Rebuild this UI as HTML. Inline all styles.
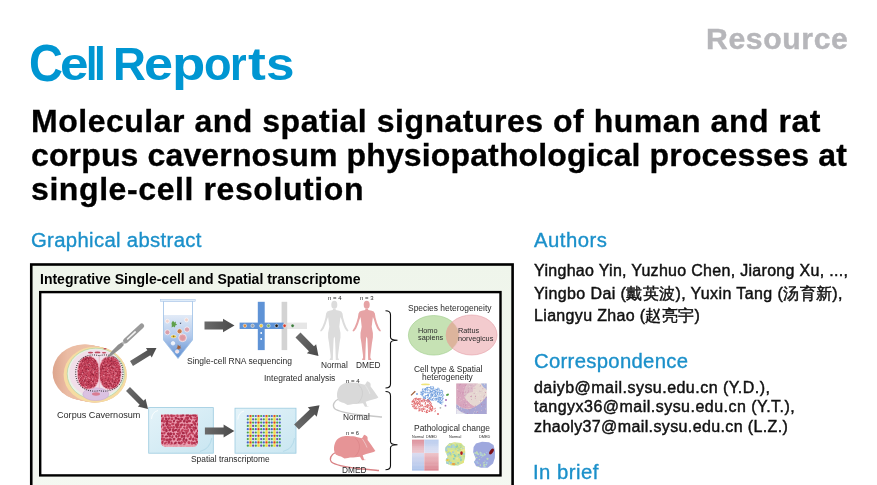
<!DOCTYPE html>
<html><head><meta charset="utf-8">
<style>
html,body{margin:0;padding:0;background:#fff;width:877px;height:485px;overflow:hidden;position:relative}
body{font-family:"Liberation Sans",sans-serif;color:#111}
.t{position:absolute;white-space:nowrap;line-height:1}
.logo{position:absolute;left:0;top:40px;font-size:47px;font-weight:bold;color:#0096d2;line-height:1}
.logo span{position:absolute;top:0;transform-origin:0 0}
.res{left:706px;top:25px;font-size:29px;font-weight:bold;color:#b6b6ba;letter-spacing:0.6px;transform:scaleX(1.04);transform-origin:0 0;-webkit-text-stroke:0.4px #b6b6ba}
.ti{left:31px;font-size:30.5px;font-weight:bold;color:#000;transform:scaleX(1.05);transform-origin:0 0;-webkit-text-stroke:0.3px #000}
.h{transform:scaleX(1.04);transform-origin:0 0;font-size:19.5px;color:#1b90ca;-webkit-text-stroke:0.35px #1b90ca}
.au{left:534px;font-size:16px;color:#111;-webkit-text-stroke:0.45px #111}
#frame{position:absolute;left:0;top:0}
.gt{left:39.5px;top:271.5px;font-size:14px;font-weight:bold;color:#000}
#fig{position:absolute;left:0;top:0}
.t,.fl,.logo{will-change:transform}
.fl{position:absolute;white-space:nowrap;line-height:1;color:#2a2a2a}
</style></head><body>
<div class="logo"><span style="left:28.9px;transform:translateY(-0.6px) scale(1.0,1.09);transform-origin:0 24px">C</span><span style="left:60.0px;transform:scaleX(1.09)">e</span><span style="left:85.8px;transform:scaleX(0.87)">l</span><span style="left:93.7px;transform:scaleX(0.9)">l</span><span style="left:113.4px;transform:scaleX(0.97)">R</span><span style="left:144.3px;transform:scaleX(1.11)">e</span><span style="left:171.7px;transform:scaleX(1.16)">p</span><span style="left:204.4px;transform:scaleX(0.96)">o</span><span style="left:229.9px;transform:scaleX(0.91)">r</span><span style="left:248.3px;transform:scaleX(1.14)">t</span><span style="left:266.4px;transform:scaleX(1.09)">s</span></div>
<div class="t res">Resource</div>
<div class="t ti" style="top:106px;letter-spacing:0.48px">Molecular and spatial signatures of human and rat</div>
<div class="t ti" style="top:139.5px;letter-spacing:0.12px">corpus cavernosum physiopathological processes at</div>
<div class="t ti" style="top:174px;letter-spacing:0.55px">single-cell resolution</div>

<div class="t h" style="left:31px;top:231px;letter-spacing:0.33px">Graphical abstract</div>
<div class="t h" style="left:533.5px;top:231px;letter-spacing:0.5px">Authors</div>
<div class="t au" style="top:263px;letter-spacing:0.3px">Yinghao Yin, Yuzhuo Chen, Jiarong Xu, ...,</div>
<div class="t au" style="top:285.5px;letter-spacing:0.4px">Yingbo Dai (戴英波), Yuxin Tang (汤育新),</div>
<div class="t au" style="top:308px;letter-spacing:0.34px">Liangyu Zhao (赵亮宇)</div>
<div class="t h" style="left:534px;top:351.5px;letter-spacing:0.3px">Correspondence</div>
<div class="t au" style="top:379.5px;letter-spacing:0.47px">daiyb@mail.sysu.edu.cn (Y.D.),</div>
<div class="t au" style="top:399px;letter-spacing:0.48px">tangyx36@mail.sysu.edu.cn (Y.T.),</div>
<div class="t au" style="top:418.5px;letter-spacing:0.38px">zhaoly37@mail.sysu.edu.cn (L.Z.)</div>
<div class="t h" style="left:532.5px;top:462.5px;letter-spacing:0.45px">In brief</div>

<svg id="frame" width="877" height="485" viewBox="0 0 877 485"><defs><linearGradient id="fbg" x1="0" y1="0" x2="0" y2="1"><stop offset="0" stop-color="#eff5eb"/><stop offset="1" stop-color="#f5f8f2"/></linearGradient></defs><rect x="31.25" y="264.5" width="481.35" height="240" fill="url(#fbg)" stroke="#000" stroke-width="2.6"/><rect x="40.2" y="292.1" width="460.3" height="183.3" fill="#fff" stroke="#000" stroke-width="2.4"/></svg>
<div class="t gt">Integrative Single-cell and Spatial transcriptome</div>
<svg id="fig" width="877" height="485" viewBox="0 0 877 485"><defs>
<linearGradient id="ag" x1="0" y1="0" x2="1" y2="0"><stop offset="0" stop-color="#6a6a6a"/><stop offset="1" stop-color="#4a4a4a"/></linearGradient>
<linearGradient id="tubeg" x1="0" y1="0" x2="0" y2="1"><stop offset="0" stop-color="#ffffff"/><stop offset="0.235" stop-color="#ffffff"/><stop offset="0.245" stop-color="#e2ebf7"/><stop offset="0.6" stop-color="#b5cbec"/><stop offset="1" stop-color="#5f8fd2"/></linearGradient>
<linearGradient id="skin" x1="52" y1="0" x2="104" y2="0" gradientUnits="userSpaceOnUse"><stop offset="0" stop-color="#dca48c"/><stop offset="0.3" stop-color="#ebbca4"/><stop offset="1" stop-color="#eec4aa"/></linearGradient>
<linearGradient id="slideg" x1="0" y1="0" x2="1" y2="1"><stop offset="0" stop-color="#e4f3f9"/><stop offset="1" stop-color="#c9e6f1"/></linearGradient>
<linearGradient id="hmL" x1="0" y1="0" x2="0" y2="1"><stop offset="0" stop-color="#dc8c98"/><stop offset="0.42" stop-color="#ecc8d0"/><stop offset="0.42" stop-color="#dcdcf0"/><stop offset="1" stop-color="#a8c0ea"/></linearGradient>
<linearGradient id="hmR" x1="0" y1="0" x2="0" y2="1"><stop offset="0" stop-color="#b8cbee"/><stop offset="0.42" stop-color="#dcdff2"/><stop offset="0.42" stop-color="#eec4ca"/><stop offset="1" stop-color="#d8808c"/></linearGradient>
<clipPath id="cavL"><ellipse cx="88" cy="373.5" rx="11.6" ry="16"/></clipPath>
<clipPath id="tis1"><path d="M161,414.5 L198,414.5 L198,441 Q198,447 192,447 L167,447 Q161,447 161,441 Z"/></clipPath>
</defs>
<g fill="url(#skin)"><ellipse cx="84.20" cy="372.40" rx="31.6" ry="28"/><ellipse cx="85.12" cy="372.59" rx="31.6" ry="28"/><ellipse cx="86.03" cy="372.78" rx="31.6" ry="28"/><ellipse cx="86.95" cy="372.97" rx="31.6" ry="28"/><ellipse cx="87.87" cy="373.17" rx="31.6" ry="28"/><ellipse cx="88.78" cy="373.36" rx="31.6" ry="28"/><ellipse cx="89.70" cy="373.55" rx="31.6" ry="28"/><ellipse cx="90.62" cy="373.74" rx="31.6" ry="28"/><ellipse cx="91.53" cy="373.93" rx="31.6" ry="28"/><ellipse cx="92.45" cy="374.12" rx="31.6" ry="28"/><ellipse cx="93.37" cy="374.32" rx="31.6" ry="28"/><ellipse cx="94.28" cy="374.51" rx="31.6" ry="28"/><ellipse cx="95.20" cy="374.70" rx="31.6" ry="28"/></g>
<ellipse cx="95.2" cy="374.7" rx="31.6" ry="28" fill="#f6dca2"/>
<ellipse cx="95.8" cy="373.8" rx="28.6" ry="25.6" fill="#e9f3e6" stroke="#a6d0a0" stroke-width="0.6"/>
<ellipse cx="96.2" cy="373.2" rx="27" ry="23.8" fill="#f1dfea"/>
<ellipse cx="95.8" cy="394.2" rx="13" ry="6.4" fill="#dbc2e2" stroke="#c6a6d2" stroke-width="0.5"/>
<ellipse cx="96" cy="394" rx="4" ry="1.7" fill="#d87c92"/>
<rect x="77.6" y="356.5" width="21.6" height="32.6" rx="9.5" ry="13" fill="#c9475f" stroke="#eeb2c2" stroke-width="0.9"/>
<rect x="99.3" y="356.5" width="21.6" height="32.6" rx="9.5" ry="13" fill="#c9475f" stroke="#eeb2c2" stroke-width="0.9"/>
<g><circle cx="91.4" cy="361.5" r="0.45" fill="#f0a2b4"/><circle cx="80.2" cy="374.2" r="0.45" fill="#80182f"/><circle cx="79.6" cy="373.2" r="0.45" fill="#80182f"/><circle cx="81.0" cy="370.5" r="0.45" fill="#b02c48"/><circle cx="82.5" cy="363.9" r="0.45" fill="#f0a2b4"/><circle cx="119.2" cy="375.5" r="0.45" fill="#80182f"/><circle cx="115.2" cy="366.1" r="0.45" fill="#80182f"/><circle cx="82.2" cy="366.7" r="0.45" fill="#b02c48"/><circle cx="85.0" cy="375.7" r="0.45" fill="#f0a2b4"/><circle cx="93.6" cy="374.6" r="0.45" fill="#80182f"/><circle cx="79.7" cy="363.3" r="0.45" fill="#f0a2b4"/><circle cx="96.0" cy="366.9" r="0.45" fill="#f0a2b4"/><circle cx="97.2" cy="366.4" r="0.45" fill="#b02c48"/><circle cx="108.1" cy="364.6" r="0.45" fill="#f0a2b4"/><circle cx="109.5" cy="366.0" r="0.45" fill="#b02c48"/><circle cx="82.3" cy="370.3" r="0.45" fill="#b02c48"/><circle cx="83.8" cy="372.6" r="0.45" fill="#80182f"/><circle cx="106.7" cy="381.7" r="0.45" fill="#f0a2b4"/><circle cx="116.0" cy="366.9" r="0.45" fill="#f0a2b4"/><circle cx="103.4" cy="375.6" r="0.45" fill="#f0a2b4"/><circle cx="114.4" cy="387.7" r="0.45" fill="#f0a2b4"/><circle cx="106.6" cy="358.5" r="0.45" fill="#f0a2b4"/><circle cx="113.6" cy="365.9" r="0.45" fill="#80182f"/><circle cx="106.8" cy="357.2" r="0.45" fill="#f0a2b4"/><circle cx="84.5" cy="360.4" r="0.45" fill="#80182f"/><circle cx="111.2" cy="360.8" r="0.45" fill="#80182f"/><circle cx="94.4" cy="385.3" r="0.45" fill="#80182f"/><circle cx="97.0" cy="374.6" r="0.45" fill="#b02c48"/><circle cx="113.5" cy="385.0" r="0.45" fill="#80182f"/><circle cx="95.5" cy="368.3" r="0.45" fill="#b02c48"/><circle cx="84.8" cy="364.2" r="0.45" fill="#80182f"/><circle cx="98.6" cy="375.9" r="0.45" fill="#80182f"/><circle cx="93.4" cy="375.2" r="0.45" fill="#b02c48"/><circle cx="107.7" cy="373.5" r="0.45" fill="#f0a2b4"/><circle cx="107.1" cy="358.3" r="0.45" fill="#b02c48"/><circle cx="111.7" cy="385.4" r="0.45" fill="#b02c48"/><circle cx="94.5" cy="369.7" r="0.45" fill="#80182f"/><circle cx="105.2" cy="358.6" r="0.45" fill="#80182f"/><circle cx="86.3" cy="361.9" r="0.45" fill="#80182f"/><circle cx="83.7" cy="359.8" r="0.45" fill="#80182f"/><circle cx="104.3" cy="361.4" r="0.45" fill="#80182f"/><circle cx="92.5" cy="368.5" r="0.45" fill="#80182f"/><circle cx="97.7" cy="372.5" r="0.45" fill="#80182f"/><circle cx="81.5" cy="367.8" r="0.45" fill="#80182f"/><circle cx="113.9" cy="361.8" r="0.45" fill="#80182f"/><circle cx="119.3" cy="373.9" r="0.45" fill="#80182f"/><circle cx="115.4" cy="379.5" r="0.45" fill="#80182f"/><circle cx="93.3" cy="362.0" r="0.45" fill="#b02c48"/><circle cx="91.7" cy="363.9" r="0.45" fill="#b02c48"/><circle cx="112.9" cy="383.5" r="0.45" fill="#f0a2b4"/><circle cx="87.1" cy="373.6" r="0.45" fill="#80182f"/><circle cx="89.4" cy="365.1" r="0.45" fill="#f0a2b4"/><circle cx="119.6" cy="371.3" r="0.45" fill="#b02c48"/><circle cx="93.2" cy="363.8" r="0.45" fill="#80182f"/><circle cx="85.8" cy="363.2" r="0.45" fill="#f0a2b4"/><circle cx="117.1" cy="384.2" r="0.45" fill="#f0a2b4"/><circle cx="106.1" cy="382.9" r="0.45" fill="#80182f"/><circle cx="106.4" cy="386.5" r="0.45" fill="#b02c48"/><circle cx="110.4" cy="372.3" r="0.45" fill="#80182f"/><circle cx="112.1" cy="367.5" r="0.45" fill="#b02c48"/><circle cx="120.2" cy="369.6" r="0.45" fill="#80182f"/><circle cx="119.1" cy="380.4" r="0.45" fill="#80182f"/><circle cx="82.7" cy="361.5" r="0.45" fill="#b02c48"/><circle cx="112.9" cy="361.3" r="0.45" fill="#b02c48"/><circle cx="92.6" cy="374.6" r="0.45" fill="#80182f"/><circle cx="105.9" cy="373.9" r="0.45" fill="#b02c48"/><circle cx="113.8" cy="363.5" r="0.45" fill="#80182f"/><circle cx="90.0" cy="364.4" r="0.45" fill="#f0a2b4"/><circle cx="88.5" cy="370.3" r="0.45" fill="#80182f"/><circle cx="117.5" cy="368.2" r="0.45" fill="#f0a2b4"/><circle cx="99.3" cy="374.1" r="0.45" fill="#f0a2b4"/><circle cx="77.8" cy="371.0" r="0.45" fill="#80182f"/><circle cx="84.7" cy="372.1" r="0.45" fill="#f0a2b4"/><circle cx="101.8" cy="367.3" r="0.45" fill="#f0a2b4"/><circle cx="101.7" cy="382.4" r="0.45" fill="#80182f"/><circle cx="101.9" cy="364.7" r="0.45" fill="#80182f"/><circle cx="111.4" cy="373.3" r="0.45" fill="#f0a2b4"/><circle cx="110.8" cy="386.6" r="0.45" fill="#80182f"/><circle cx="104.3" cy="373.2" r="0.45" fill="#f0a2b4"/><circle cx="107.8" cy="371.4" r="0.45" fill="#f0a2b4"/><circle cx="108.1" cy="385.4" r="0.45" fill="#b02c48"/><circle cx="88.6" cy="375.0" r="0.45" fill="#b02c48"/><circle cx="114.4" cy="361.0" r="0.45" fill="#80182f"/><circle cx="87.7" cy="358.9" r="0.45" fill="#f0a2b4"/><circle cx="111.9" cy="386.1" r="0.45" fill="#80182f"/><circle cx="108.9" cy="378.3" r="0.45" fill="#80182f"/><circle cx="86.8" cy="387.9" r="0.45" fill="#80182f"/><circle cx="114.0" cy="361.8" r="0.45" fill="#80182f"/><circle cx="99.9" cy="367.7" r="0.45" fill="#80182f"/><circle cx="91.2" cy="380.3" r="0.45" fill="#80182f"/><circle cx="101.7" cy="371.0" r="0.45" fill="#80182f"/><circle cx="91.8" cy="377.1" r="0.45" fill="#f0a2b4"/><circle cx="112.1" cy="388.6" r="0.45" fill="#80182f"/><circle cx="88.8" cy="357.8" r="0.45" fill="#b02c48"/><circle cx="89.0" cy="360.8" r="0.45" fill="#80182f"/><circle cx="117.6" cy="383.5" r="0.45" fill="#80182f"/><circle cx="83.6" cy="386.8" r="0.45" fill="#f0a2b4"/><circle cx="108.2" cy="359.5" r="0.45" fill="#80182f"/><circle cx="107.6" cy="370.5" r="0.45" fill="#80182f"/><circle cx="118.8" cy="377.4" r="0.45" fill="#b02c48"/><circle cx="97.2" cy="367.7" r="0.45" fill="#f0a2b4"/><circle cx="118.2" cy="365.3" r="0.45" fill="#80182f"/><circle cx="81.9" cy="361.8" r="0.45" fill="#80182f"/><circle cx="86.0" cy="366.8" r="0.45" fill="#80182f"/><circle cx="110.8" cy="366.1" r="0.45" fill="#f0a2b4"/><circle cx="84.9" cy="368.0" r="0.45" fill="#80182f"/><circle cx="88.1" cy="357.0" r="0.45" fill="#f0a2b4"/><circle cx="101.5" cy="362.8" r="0.45" fill="#f0a2b4"/><circle cx="113.4" cy="370.8" r="0.45" fill="#f0a2b4"/><circle cx="114.1" cy="369.5" r="0.45" fill="#f0a2b4"/><circle cx="107.6" cy="388.9" r="0.45" fill="#80182f"/><circle cx="114.0" cy="379.8" r="0.45" fill="#f0a2b4"/><circle cx="95.0" cy="368.0" r="0.45" fill="#80182f"/><circle cx="82.8" cy="358.8" r="0.45" fill="#f0a2b4"/><circle cx="88.4" cy="361.9" r="0.45" fill="#80182f"/><circle cx="114.4" cy="385.2" r="0.45" fill="#f0a2b4"/><circle cx="89.5" cy="364.5" r="0.45" fill="#80182f"/><circle cx="96.8" cy="365.2" r="0.45" fill="#b02c48"/><circle cx="120.3" cy="374.6" r="0.45" fill="#80182f"/><circle cx="120.0" cy="366.7" r="0.45" fill="#80182f"/><circle cx="98.1" cy="373.1" r="0.45" fill="#80182f"/><circle cx="88.8" cy="359.5" r="0.45" fill="#80182f"/><circle cx="90.5" cy="364.2" r="0.45" fill="#f0a2b4"/><circle cx="100.5" cy="381.3" r="0.45" fill="#f0a2b4"/><circle cx="108.9" cy="385.5" r="0.45" fill="#80182f"/><circle cx="83.7" cy="380.4" r="0.45" fill="#f0a2b4"/><circle cx="116.7" cy="377.2" r="0.45" fill="#f0a2b4"/><circle cx="113.1" cy="361.1" r="0.45" fill="#f0a2b4"/><circle cx="112.8" cy="383.8" r="0.45" fill="#f0a2b4"/><circle cx="116.7" cy="379.0" r="0.45" fill="#f0a2b4"/><circle cx="87.2" cy="357.5" r="0.45" fill="#80182f"/><circle cx="93.1" cy="360.0" r="0.45" fill="#b02c48"/><circle cx="101.9" cy="377.2" r="0.45" fill="#f0a2b4"/><circle cx="107.3" cy="372.6" r="0.45" fill="#80182f"/><circle cx="112.5" cy="381.2" r="0.45" fill="#f0a2b4"/><circle cx="100.8" cy="378.3" r="0.45" fill="#80182f"/><circle cx="109.8" cy="364.8" r="0.45" fill="#80182f"/><circle cx="88.8" cy="380.6" r="0.45" fill="#80182f"/><circle cx="109.9" cy="388.7" r="0.45" fill="#f0a2b4"/><circle cx="94.0" cy="372.3" r="0.45" fill="#f0a2b4"/><circle cx="111.1" cy="376.9" r="0.45" fill="#f0a2b4"/><circle cx="80.4" cy="361.4" r="0.45" fill="#80182f"/><circle cx="110.1" cy="366.5" r="0.45" fill="#f0a2b4"/><circle cx="89.0" cy="378.7" r="0.45" fill="#f0a2b4"/><circle cx="107.1" cy="366.1" r="0.45" fill="#f0a2b4"/><circle cx="97.7" cy="371.9" r="0.45" fill="#80182f"/><circle cx="116.8" cy="363.1" r="0.45" fill="#b02c48"/><circle cx="120.1" cy="371.3" r="0.45" fill="#80182f"/><circle cx="86.3" cy="387.7" r="0.45" fill="#80182f"/><circle cx="102.9" cy="361.2" r="0.45" fill="#f0a2b4"/><circle cx="113.5" cy="373.3" r="0.45" fill="#b02c48"/><circle cx="108.3" cy="364.1" r="0.45" fill="#b02c48"/><circle cx="97.1" cy="366.5" r="0.45" fill="#80182f"/><circle cx="92.3" cy="366.9" r="0.45" fill="#b02c48"/><circle cx="114.3" cy="360.5" r="0.45" fill="#b02c48"/><circle cx="108.7" cy="386.3" r="0.45" fill="#80182f"/><circle cx="93.6" cy="369.5" r="0.45" fill="#b02c48"/><circle cx="103.2" cy="368.4" r="0.45" fill="#80182f"/><circle cx="89.2" cy="358.1" r="0.45" fill="#80182f"/><circle cx="114.1" cy="365.9" r="0.45" fill="#b02c48"/><circle cx="88.1" cy="365.3" r="0.45" fill="#f0a2b4"/><circle cx="85.4" cy="368.8" r="0.45" fill="#b02c48"/><circle cx="116.3" cy="383.3" r="0.45" fill="#f0a2b4"/><circle cx="101.4" cy="380.2" r="0.45" fill="#80182f"/><circle cx="109.6" cy="371.4" r="0.45" fill="#b02c48"/><circle cx="105.7" cy="365.9" r="0.45" fill="#80182f"/><circle cx="98.0" cy="367.8" r="0.45" fill="#80182f"/><circle cx="109.9" cy="388.7" r="0.45" fill="#80182f"/><circle cx="106.2" cy="366.4" r="0.45" fill="#f0a2b4"/><circle cx="94.5" cy="362.0" r="0.45" fill="#80182f"/><circle cx="86.3" cy="386.4" r="0.45" fill="#f0a2b4"/><circle cx="86.8" cy="386.4" r="0.45" fill="#b02c48"/><circle cx="85.6" cy="359.5" r="0.45" fill="#80182f"/><circle cx="81.1" cy="364.4" r="0.45" fill="#80182f"/><circle cx="110.4" cy="370.1" r="0.45" fill="#80182f"/><circle cx="100.3" cy="368.9" r="0.45" fill="#80182f"/><circle cx="79.8" cy="365.7" r="0.45" fill="#b02c48"/><circle cx="82.6" cy="373.1" r="0.45" fill="#f0a2b4"/><circle cx="115.4" cy="363.6" r="0.45" fill="#80182f"/><circle cx="88.1" cy="369.7" r="0.45" fill="#80182f"/><circle cx="116.9" cy="372.1" r="0.45" fill="#f0a2b4"/><circle cx="118.2" cy="383.7" r="0.45" fill="#b02c48"/><circle cx="81.9" cy="361.6" r="0.45" fill="#f0a2b4"/><circle cx="107.4" cy="387.6" r="0.45" fill="#f0a2b4"/><circle cx="105.8" cy="381.7" r="0.45" fill="#f0a2b4"/><circle cx="111.8" cy="364.2" r="0.45" fill="#b02c48"/><circle cx="105.7" cy="366.5" r="0.45" fill="#80182f"/><circle cx="88.2" cy="377.5" r="0.45" fill="#f0a2b4"/><circle cx="100.3" cy="375.7" r="0.45" fill="#80182f"/><circle cx="86.9" cy="376.3" r="0.45" fill="#80182f"/><circle cx="90.4" cy="371.7" r="0.45" fill="#b02c48"/><circle cx="105.7" cy="385.7" r="0.45" fill="#f0a2b4"/><circle cx="87.4" cy="364.7" r="0.45" fill="#b02c48"/><circle cx="108.4" cy="366.6" r="0.45" fill="#80182f"/><circle cx="95.7" cy="365.0" r="0.45" fill="#f0a2b4"/><circle cx="118.2" cy="364.0" r="0.45" fill="#80182f"/><circle cx="92.0" cy="370.4" r="0.45" fill="#f0a2b4"/><circle cx="85.8" cy="382.8" r="0.45" fill="#f0a2b4"/><circle cx="120.2" cy="366.8" r="0.45" fill="#b02c48"/><circle cx="87.3" cy="363.8" r="0.45" fill="#b02c48"/><circle cx="90.1" cy="387.9" r="0.45" fill="#f0a2b4"/><circle cx="85.3" cy="363.9" r="0.45" fill="#80182f"/><circle cx="106.6" cy="387.8" r="0.45" fill="#80182f"/><circle cx="94.5" cy="363.5" r="0.45" fill="#b02c48"/><circle cx="83.3" cy="358.2" r="0.45" fill="#80182f"/><circle cx="94.5" cy="386.1" r="0.45" fill="#b02c48"/><circle cx="109.6" cy="389.4" r="0.45" fill="#b02c48"/><circle cx="91.7" cy="362.6" r="0.45" fill="#b02c48"/><circle cx="110.2" cy="357.6" r="0.45" fill="#f0a2b4"/><circle cx="93.8" cy="368.8" r="0.45" fill="#80182f"/><circle cx="89.5" cy="368.1" r="0.45" fill="#b02c48"/><circle cx="86.2" cy="368.3" r="0.45" fill="#b02c48"/><circle cx="113.6" cy="370.8" r="0.45" fill="#80182f"/><circle cx="98.1" cy="368.8" r="0.45" fill="#b02c48"/><circle cx="85.6" cy="368.5" r="0.45" fill="#b02c48"/><circle cx="78.3" cy="370.1" r="0.45" fill="#b02c48"/><circle cx="111.1" cy="357.8" r="0.45" fill="#80182f"/><circle cx="88.4" cy="381.2" r="0.45" fill="#b02c48"/><circle cx="92.1" cy="365.5" r="0.45" fill="#b02c48"/><circle cx="104.5" cy="365.2" r="0.45" fill="#f0a2b4"/><circle cx="91.1" cy="365.6" r="0.45" fill="#80182f"/><circle cx="110.6" cy="386.7" r="0.45" fill="#f0a2b4"/><circle cx="87.4" cy="372.2" r="0.45" fill="#b02c48"/><circle cx="119.4" cy="369.3" r="0.45" fill="#80182f"/><circle cx="96.1" cy="372.8" r="0.45" fill="#b02c48"/><circle cx="85.1" cy="383.0" r="0.45" fill="#f0a2b4"/><circle cx="113.6" cy="382.0" r="0.45" fill="#f0a2b4"/><circle cx="91.6" cy="367.0" r="0.45" fill="#80182f"/><circle cx="111.8" cy="359.1" r="0.45" fill="#80182f"/><circle cx="110.5" cy="364.7" r="0.45" fill="#80182f"/><circle cx="78.5" cy="374.7" r="0.45" fill="#80182f"/><circle cx="96.9" cy="364.2" r="0.45" fill="#80182f"/><circle cx="104.6" cy="378.7" r="0.45" fill="#f0a2b4"/><circle cx="114.7" cy="378.4" r="0.45" fill="#80182f"/><circle cx="114.4" cy="366.2" r="0.45" fill="#f0a2b4"/><circle cx="93.6" cy="380.9" r="0.45" fill="#80182f"/><circle cx="88.0" cy="364.6" r="0.45" fill="#80182f"/><circle cx="116.3" cy="375.6" r="0.45" fill="#80182f"/><circle cx="113.0" cy="378.1" r="0.45" fill="#b02c48"/><circle cx="81.6" cy="372.2" r="0.45" fill="#b02c48"/><circle cx="114.4" cy="386.7" r="0.45" fill="#80182f"/><circle cx="90.1" cy="360.4" r="0.45" fill="#80182f"/><circle cx="120.3" cy="375.7" r="0.45" fill="#b02c48"/><circle cx="93.6" cy="385.1" r="0.45" fill="#80182f"/><circle cx="88.6" cy="382.2" r="0.45" fill="#b02c48"/><circle cx="81.7" cy="376.2" r="0.45" fill="#f0a2b4"/><circle cx="86.7" cy="368.7" r="0.45" fill="#80182f"/><circle cx="86.1" cy="364.9" r="0.45" fill="#f0a2b4"/><circle cx="106.0" cy="363.2" r="0.45" fill="#80182f"/><circle cx="91.6" cy="378.9" r="0.45" fill="#80182f"/><circle cx="90.9" cy="363.2" r="0.45" fill="#b02c48"/><circle cx="81.5" cy="369.5" r="0.45" fill="#f0a2b4"/><circle cx="105.4" cy="359.5" r="0.45" fill="#80182f"/><circle cx="107.9" cy="370.0" r="0.45" fill="#80182f"/><circle cx="90.7" cy="388.0" r="0.45" fill="#80182f"/><circle cx="102.2" cy="368.3" r="0.45" fill="#80182f"/><circle cx="93.2" cy="363.0" r="0.45" fill="#f0a2b4"/><circle cx="86.1" cy="356.7" r="0.45" fill="#b02c48"/><circle cx="95.9" cy="383.6" r="0.45" fill="#80182f"/><circle cx="116.3" cy="371.7" r="0.45" fill="#80182f"/><circle cx="77.7" cy="374.7" r="0.45" fill="#f0a2b4"/><circle cx="104.7" cy="368.7" r="0.45" fill="#f0a2b4"/><circle cx="83.5" cy="365.8" r="0.45" fill="#f0a2b4"/><circle cx="120.4" cy="372.4" r="0.45" fill="#80182f"/><circle cx="118.2" cy="369.3" r="0.45" fill="#b02c48"/><circle cx="104.6" cy="383.7" r="0.45" fill="#80182f"/><circle cx="112.0" cy="363.8" r="0.45" fill="#80182f"/><circle cx="114.7" cy="383.9" r="0.45" fill="#80182f"/><circle cx="86.7" cy="369.7" r="0.45" fill="#f0a2b4"/><circle cx="94.1" cy="360.6" r="0.45" fill="#80182f"/><circle cx="109.3" cy="386.1" r="0.45" fill="#80182f"/><circle cx="102.0" cy="381.5" r="0.45" fill="#80182f"/><circle cx="114.3" cy="360.4" r="0.45" fill="#f0a2b4"/><circle cx="101.5" cy="377.2" r="0.45" fill="#80182f"/><circle cx="95.7" cy="375.7" r="0.45" fill="#80182f"/><circle cx="106.3" cy="371.2" r="0.45" fill="#80182f"/><circle cx="78.0" cy="376.9" r="0.45" fill="#f0a2b4"/><circle cx="87.5" cy="381.7" r="0.45" fill="#b02c48"/><circle cx="82.7" cy="370.7" r="0.45" fill="#80182f"/><circle cx="96.7" cy="373.3" r="0.45" fill="#80182f"/><circle cx="105.3" cy="359.2" r="0.45" fill="#f0a2b4"/><circle cx="111.6" cy="373.4" r="0.45" fill="#80182f"/><circle cx="99.4" cy="369.0" r="0.45" fill="#b02c48"/><circle cx="83.1" cy="384.8" r="0.45" fill="#b02c48"/><circle cx="109.6" cy="383.4" r="0.45" fill="#80182f"/><circle cx="120.7" cy="372.7" r="0.45" fill="#b02c48"/><circle cx="117.8" cy="361.9" r="0.45" fill="#b02c48"/><circle cx="92.6" cy="381.5" r="0.45" fill="#80182f"/><circle cx="116.9" cy="365.6" r="0.45" fill="#b02c48"/><circle cx="83.4" cy="373.1" r="0.45" fill="#b02c48"/><circle cx="86.3" cy="365.2" r="0.45" fill="#f0a2b4"/><circle cx="91.2" cy="357.7" r="0.45" fill="#80182f"/><circle cx="84.2" cy="387.4" r="0.45" fill="#f0a2b4"/><circle cx="116.8" cy="362.1" r="0.45" fill="#b02c48"/><circle cx="82.1" cy="374.0" r="0.45" fill="#f0a2b4"/><circle cx="93.0" cy="385.3" r="0.45" fill="#f0a2b4"/><circle cx="105.0" cy="369.5" r="0.45" fill="#b02c48"/><circle cx="88.8" cy="389.2" r="0.45" fill="#f0a2b4"/><circle cx="93.0" cy="381.7" r="0.45" fill="#80182f"/><circle cx="84.9" cy="381.0" r="0.45" fill="#80182f"/><circle cx="113.5" cy="364.9" r="0.45" fill="#f0a2b4"/><circle cx="120.8" cy="375.8" r="0.45" fill="#f0a2b4"/><circle cx="90.9" cy="356.6" r="0.45" fill="#80182f"/><circle cx="83.6" cy="376.8" r="0.45" fill="#80182f"/><circle cx="82.9" cy="364.0" r="0.45" fill="#f0a2b4"/><circle cx="92.8" cy="360.0" r="0.45" fill="#80182f"/><circle cx="87.0" cy="375.8" r="0.45" fill="#f0a2b4"/><circle cx="86.1" cy="377.1" r="0.45" fill="#f0a2b4"/><circle cx="87.8" cy="361.4" r="0.45" fill="#80182f"/><circle cx="105.4" cy="385.3" r="0.45" fill="#b02c48"/><circle cx="94.9" cy="365.2" r="0.45" fill="#80182f"/><circle cx="105.7" cy="375.1" r="0.45" fill="#80182f"/><circle cx="105.7" cy="371.1" r="0.45" fill="#b02c48"/><circle cx="109.6" cy="364.7" r="0.45" fill="#b02c48"/><circle cx="79.0" cy="374.0" r="0.45" fill="#80182f"/><circle cx="87.6" cy="358.4" r="0.45" fill="#b02c48"/><circle cx="85.9" cy="376.6" r="0.45" fill="#f0a2b4"/><circle cx="105.5" cy="383.3" r="0.45" fill="#80182f"/><circle cx="90.8" cy="366.4" r="0.45" fill="#80182f"/><circle cx="116.6" cy="382.3" r="0.45" fill="#f0a2b4"/><circle cx="110.2" cy="371.9" r="0.45" fill="#f0a2b4"/><circle cx="97.1" cy="364.0" r="0.45" fill="#80182f"/><circle cx="87.3" cy="357.8" r="0.45" fill="#80182f"/><circle cx="110.4" cy="379.4" r="0.45" fill="#b02c48"/><circle cx="108.7" cy="365.3" r="0.45" fill="#f0a2b4"/><circle cx="96.4" cy="382.5" r="0.45" fill="#f0a2b4"/><circle cx="88.8" cy="377.7" r="0.45" fill="#b02c48"/><circle cx="86.7" cy="385.5" r="0.45" fill="#80182f"/><circle cx="88.6" cy="364.3" r="0.45" fill="#f0a2b4"/><circle cx="119.0" cy="381.1" r="0.45" fill="#80182f"/><circle cx="116.2" cy="367.3" r="0.45" fill="#80182f"/><circle cx="117.4" cy="377.3" r="0.45" fill="#f0a2b4"/><circle cx="108.0" cy="384.8" r="0.45" fill="#80182f"/><circle cx="109.2" cy="375.3" r="0.45" fill="#80182f"/><circle cx="86.4" cy="377.0" r="0.45" fill="#80182f"/><circle cx="117.5" cy="361.3" r="0.45" fill="#80182f"/><circle cx="92.3" cy="361.2" r="0.45" fill="#80182f"/><circle cx="78.9" cy="379.4" r="0.45" fill="#f0a2b4"/><circle cx="108.0" cy="380.8" r="0.45" fill="#80182f"/><circle cx="103.3" cy="368.5" r="0.45" fill="#b02c48"/><circle cx="113.5" cy="385.9" r="0.45" fill="#80182f"/><circle cx="115.6" cy="386.7" r="0.45" fill="#b02c48"/><circle cx="81.8" cy="363.3" r="0.45" fill="#80182f"/><circle cx="113.1" cy="377.4" r="0.45" fill="#b02c48"/><circle cx="105.1" cy="366.0" r="0.45" fill="#80182f"/><circle cx="81.4" cy="381.5" r="0.45" fill="#80182f"/><circle cx="91.2" cy="370.5" r="0.45" fill="#80182f"/><circle cx="88.4" cy="365.8" r="0.45" fill="#f0a2b4"/><circle cx="93.4" cy="367.1" r="0.45" fill="#b02c48"/><circle cx="95.4" cy="370.9" r="0.45" fill="#b02c48"/><circle cx="92.4" cy="379.8" r="0.45" fill="#f0a2b4"/><circle cx="86.6" cy="385.0" r="0.45" fill="#80182f"/><circle cx="113.5" cy="362.1" r="0.45" fill="#80182f"/><circle cx="86.0" cy="381.7" r="0.45" fill="#b02c48"/><circle cx="85.2" cy="372.8" r="0.45" fill="#80182f"/><circle cx="114.0" cy="365.1" r="0.45" fill="#b02c48"/><circle cx="89.6" cy="363.6" r="0.45" fill="#f0a2b4"/><circle cx="105.3" cy="359.2" r="0.45" fill="#b02c48"/><circle cx="108.0" cy="382.5" r="0.45" fill="#f0a2b4"/><circle cx="92.8" cy="369.7" r="0.45" fill="#80182f"/><circle cx="86.2" cy="365.2" r="0.45" fill="#b02c48"/><circle cx="99.3" cy="369.0" r="0.45" fill="#b02c48"/><circle cx="87.4" cy="371.7" r="0.45" fill="#f0a2b4"/><circle cx="110.6" cy="381.3" r="0.45" fill="#f0a2b4"/><circle cx="92.5" cy="367.3" r="0.45" fill="#80182f"/><circle cx="114.5" cy="378.3" r="0.45" fill="#f0a2b4"/><circle cx="84.5" cy="371.0" r="0.45" fill="#b02c48"/><circle cx="102.8" cy="360.7" r="0.45" fill="#f0a2b4"/><circle cx="116.4" cy="364.4" r="0.45" fill="#80182f"/><circle cx="90.4" cy="379.7" r="0.45" fill="#b02c48"/><circle cx="83.9" cy="361.6" r="0.45" fill="#80182f"/><circle cx="91.5" cy="373.7" r="0.45" fill="#80182f"/><circle cx="91.6" cy="362.7" r="0.45" fill="#b02c48"/><circle cx="109.4" cy="359.9" r="0.45" fill="#b02c48"/><circle cx="81.5" cy="369.2" r="0.45" fill="#b02c48"/><circle cx="112.4" cy="380.7" r="0.45" fill="#80182f"/><circle cx="85.7" cy="377.6" r="0.45" fill="#80182f"/><circle cx="86.2" cy="369.3" r="0.45" fill="#80182f"/><circle cx="94.8" cy="382.6" r="0.45" fill="#f0a2b4"/><circle cx="103.9" cy="369.9" r="0.45" fill="#f0a2b4"/><circle cx="117.4" cy="370.7" r="0.45" fill="#f0a2b4"/><circle cx="110.3" cy="370.4" r="0.45" fill="#80182f"/><circle cx="109.1" cy="385.5" r="0.45" fill="#b02c48"/><circle cx="108.2" cy="384.6" r="0.45" fill="#f0a2b4"/><circle cx="105.5" cy="371.5" r="0.45" fill="#80182f"/><circle cx="105.0" cy="359.7" r="0.45" fill="#80182f"/><circle cx="111.8" cy="380.0" r="0.45" fill="#f0a2b4"/><circle cx="88.1" cy="370.5" r="0.45" fill="#f0a2b4"/><circle cx="104.7" cy="370.0" r="0.45" fill="#f0a2b4"/><circle cx="118.4" cy="362.5" r="0.45" fill="#f0a2b4"/><circle cx="111.6" cy="369.3" r="0.45" fill="#f0a2b4"/><circle cx="111.8" cy="387.5" r="0.45" fill="#f0a2b4"/><circle cx="81.5" cy="375.5" r="0.45" fill="#f0a2b4"/><circle cx="108.9" cy="373.4" r="0.45" fill="#f0a2b4"/><circle cx="113.9" cy="373.7" r="0.45" fill="#80182f"/><circle cx="107.5" cy="369.5" r="0.45" fill="#b02c48"/><circle cx="92.8" cy="358.4" r="0.45" fill="#80182f"/><circle cx="95.6" cy="370.4" r="0.45" fill="#f0a2b4"/><circle cx="92.7" cy="365.3" r="0.45" fill="#80182f"/><circle cx="110.0" cy="387.5" r="0.45" fill="#f0a2b4"/><circle cx="86.7" cy="382.9" r="0.45" fill="#80182f"/><circle cx="86.4" cy="360.8" r="0.45" fill="#b02c48"/><circle cx="113.0" cy="377.4" r="0.45" fill="#f0a2b4"/><circle cx="102.0" cy="364.0" r="0.45" fill="#b02c48"/><circle cx="92.7" cy="377.6" r="0.45" fill="#b02c48"/><circle cx="113.3" cy="371.9" r="0.45" fill="#80182f"/><circle cx="114.1" cy="368.2" r="0.45" fill="#b02c48"/><circle cx="88.9" cy="368.9" r="0.45" fill="#80182f"/><circle cx="96.0" cy="362.6" r="0.45" fill="#80182f"/><circle cx="109.1" cy="365.8" r="0.45" fill="#80182f"/><circle cx="90.4" cy="372.3" r="0.45" fill="#80182f"/><circle cx="105.4" cy="378.3" r="0.45" fill="#80182f"/><circle cx="117.3" cy="382.4" r="0.45" fill="#80182f"/><circle cx="114.0" cy="377.4" r="0.45" fill="#80182f"/><circle cx="106.2" cy="364.8" r="0.45" fill="#80182f"/><circle cx="83.4" cy="364.2" r="0.45" fill="#b02c48"/><circle cx="92.4" cy="361.5" r="0.45" fill="#b02c48"/><circle cx="112.2" cy="362.0" r="0.45" fill="#b02c48"/><circle cx="104.1" cy="382.3" r="0.45" fill="#f0a2b4"/><circle cx="116.8" cy="382.5" r="0.45" fill="#b02c48"/><circle cx="85.8" cy="379.4" r="0.45" fill="#f0a2b4"/><circle cx="110.0" cy="371.0" r="0.45" fill="#b02c48"/><circle cx="101.7" cy="365.2" r="0.45" fill="#80182f"/><circle cx="83.2" cy="372.8" r="0.45" fill="#80182f"/><circle cx="98.9" cy="372.9" r="0.45" fill="#f0a2b4"/><circle cx="114.4" cy="371.9" r="0.45" fill="#f0a2b4"/><circle cx="106.6" cy="384.2" r="0.45" fill="#80182f"/><circle cx="80.4" cy="377.5" r="0.45" fill="#f0a2b4"/><circle cx="78.3" cy="376.6" r="0.45" fill="#f0a2b4"/><circle cx="118.5" cy="367.4" r="0.45" fill="#b02c48"/><circle cx="99.7" cy="372.5" r="0.45" fill="#b02c48"/><circle cx="104.8" cy="367.7" r="0.45" fill="#b02c48"/><circle cx="93.3" cy="372.2" r="0.45" fill="#f0a2b4"/><circle cx="111.3" cy="363.5" r="0.45" fill="#80182f"/><circle cx="95.8" cy="374.8" r="0.45" fill="#b02c48"/><circle cx="90.0" cy="383.8" r="0.45" fill="#80182f"/><circle cx="106.1" cy="382.6" r="0.45" fill="#80182f"/><circle cx="91.1" cy="366.4" r="0.45" fill="#f0a2b4"/><circle cx="105.2" cy="382.4" r="0.45" fill="#80182f"/><circle cx="109.2" cy="385.7" r="0.45" fill="#f0a2b4"/><circle cx="79.2" cy="366.4" r="0.45" fill="#80182f"/><circle cx="85.5" cy="386.9" r="0.45" fill="#f0a2b4"/><circle cx="106.3" cy="382.5" r="0.45" fill="#b02c48"/><circle cx="104.2" cy="376.9" r="0.45" fill="#f0a2b4"/><circle cx="108.0" cy="376.2" r="0.45" fill="#f0a2b4"/><circle cx="86.5" cy="378.5" r="0.45" fill="#f0a2b4"/><circle cx="110.9" cy="359.8" r="0.45" fill="#80182f"/><circle cx="117.7" cy="378.1" r="0.45" fill="#80182f"/><circle cx="113.6" cy="382.5" r="0.45" fill="#f0a2b4"/><circle cx="88.5" cy="366.5" r="0.45" fill="#80182f"/><circle cx="91.2" cy="370.7" r="0.45" fill="#f0a2b4"/><circle cx="82.3" cy="383.2" r="0.45" fill="#f0a2b4"/><circle cx="117.9" cy="371.2" r="0.45" fill="#80182f"/><circle cx="94.2" cy="376.0" r="0.45" fill="#b02c48"/><circle cx="120.6" cy="372.2" r="0.45" fill="#80182f"/><circle cx="81.5" cy="377.8" r="0.45" fill="#80182f"/><circle cx="109.0" cy="364.5" r="0.45" fill="#f0a2b4"/><circle cx="85.3" cy="358.2" r="0.45" fill="#b02c48"/><circle cx="108.8" cy="384.7" r="0.45" fill="#f0a2b4"/><circle cx="80.8" cy="377.2" r="0.45" fill="#f0a2b4"/><circle cx="88.3" cy="388.3" r="0.45" fill="#f0a2b4"/><circle cx="106.0" cy="383.5" r="0.45" fill="#80182f"/><circle cx="90.8" cy="380.6" r="0.45" fill="#80182f"/><circle cx="115.3" cy="372.5" r="0.45" fill="#80182f"/><circle cx="93.4" cy="375.5" r="0.45" fill="#80182f"/><circle cx="107.1" cy="361.3" r="0.45" fill="#b02c48"/><circle cx="93.2" cy="377.8" r="0.45" fill="#f0a2b4"/><circle cx="95.6" cy="369.2" r="0.45" fill="#b02c48"/><circle cx="102.2" cy="366.1" r="0.45" fill="#80182f"/><circle cx="113.8" cy="367.5" r="0.45" fill="#f0a2b4"/><circle cx="103.8" cy="366.7" r="0.45" fill="#80182f"/><circle cx="116.5" cy="368.9" r="0.45" fill="#f0a2b4"/><circle cx="103.8" cy="386.1" r="0.45" fill="#b02c48"/><circle cx="89.6" cy="356.6" r="0.45" fill="#80182f"/><circle cx="95.8" cy="375.9" r="0.45" fill="#b02c48"/><circle cx="114.1" cy="383.3" r="0.45" fill="#b02c48"/><circle cx="102.4" cy="365.5" r="0.45" fill="#b02c48"/><circle cx="112.9" cy="379.1" r="0.45" fill="#b02c48"/><circle cx="92.4" cy="359.3" r="0.45" fill="#f0a2b4"/><circle cx="112.5" cy="363.1" r="0.45" fill="#b02c48"/><circle cx="118.5" cy="364.2" r="0.45" fill="#f0a2b4"/><circle cx="107.2" cy="371.9" r="0.45" fill="#80182f"/><circle cx="88.3" cy="381.3" r="0.45" fill="#b02c48"/><circle cx="112.9" cy="382.0" r="0.45" fill="#80182f"/><circle cx="116.4" cy="373.7" r="0.45" fill="#f0a2b4"/><circle cx="103.2" cy="362.7" r="0.45" fill="#80182f"/><circle cx="85.0" cy="379.6" r="0.45" fill="#80182f"/><circle cx="102.1" cy="369.8" r="0.45" fill="#f0a2b4"/><circle cx="83.6" cy="358.0" r="0.45" fill="#b02c48"/><circle cx="93.6" cy="360.0" r="0.45" fill="#f0a2b4"/><circle cx="112.0" cy="361.7" r="0.45" fill="#f0a2b4"/><circle cx="92.3" cy="373.6" r="0.45" fill="#80182f"/><circle cx="115.5" cy="372.5" r="0.45" fill="#f0a2b4"/><circle cx="88.6" cy="382.2" r="0.45" fill="#80182f"/><circle cx="119.1" cy="381.8" r="0.45" fill="#b02c48"/><circle cx="85.0" cy="359.3" r="0.45" fill="#80182f"/><circle cx="103.6" cy="369.6" r="0.45" fill="#80182f"/><circle cx="119.7" cy="365.0" r="0.45" fill="#f0a2b4"/><circle cx="105.5" cy="388.1" r="0.45" fill="#f0a2b4"/><circle cx="94.5" cy="371.3" r="0.45" fill="#80182f"/><circle cx="86.9" cy="357.8" r="0.45" fill="#80182f"/><circle cx="92.7" cy="386.3" r="0.45" fill="#b02c48"/><circle cx="114.3" cy="358.1" r="0.45" fill="#b02c48"/><circle cx="108.6" cy="377.8" r="0.45" fill="#b02c48"/><circle cx="110.6" cy="387.5" r="0.45" fill="#f0a2b4"/><circle cx="90.3" cy="376.0" r="0.45" fill="#b02c48"/><circle cx="81.7" cy="367.2" r="0.45" fill="#80182f"/><circle cx="82.5" cy="372.4" r="0.45" fill="#80182f"/><circle cx="87.6" cy="361.2" r="0.45" fill="#f0a2b4"/><circle cx="85.7" cy="357.7" r="0.45" fill="#b02c48"/><circle cx="86.8" cy="387.3" r="0.45" fill="#b02c48"/><circle cx="116.5" cy="361.1" r="0.45" fill="#80182f"/><circle cx="114.5" cy="377.2" r="0.45" fill="#f0a2b4"/><circle cx="92.1" cy="383.7" r="0.45" fill="#f0a2b4"/><circle cx="105.0" cy="361.2" r="0.45" fill="#80182f"/><circle cx="79.5" cy="380.1" r="0.45" fill="#f0a2b4"/><circle cx="83.4" cy="385.2" r="0.45" fill="#80182f"/><circle cx="95.3" cy="361.6" r="0.45" fill="#80182f"/><circle cx="114.4" cy="367.5" r="0.45" fill="#80182f"/><circle cx="117.2" cy="360.3" r="0.45" fill="#b02c48"/><circle cx="106.7" cy="363.5" r="0.45" fill="#f0a2b4"/><circle cx="89.7" cy="365.0" r="0.45" fill="#80182f"/><circle cx="81.3" cy="366.1" r="0.45" fill="#b02c48"/><circle cx="79.6" cy="380.5" r="0.45" fill="#80182f"/><circle cx="112.9" cy="367.7" r="0.45" fill="#80182f"/><circle cx="86.7" cy="375.4" r="0.45" fill="#80182f"/><circle cx="85.0" cy="381.9" r="0.45" fill="#f0a2b4"/><circle cx="85.8" cy="359.1" r="0.45" fill="#80182f"/><circle cx="104.1" cy="372.9" r="0.45" fill="#80182f"/><circle cx="86.2" cy="376.7" r="0.45" fill="#f0a2b4"/><circle cx="113.1" cy="375.7" r="0.45" fill="#80182f"/><circle cx="79.9" cy="380.7" r="0.45" fill="#80182f"/><circle cx="109.1" cy="358.3" r="0.45" fill="#b02c48"/><circle cx="91.9" cy="384.3" r="0.45" fill="#b02c48"/><circle cx="117.5" cy="372.2" r="0.45" fill="#b02c48"/><circle cx="88.8" cy="362.6" r="0.45" fill="#b02c48"/><circle cx="93.3" cy="361.9" r="0.45" fill="#80182f"/><circle cx="100.1" cy="371.2" r="0.45" fill="#f0a2b4"/><circle cx="82.4" cy="380.1" r="0.45" fill="#b02c48"/><circle cx="115.5" cy="367.1" r="0.45" fill="#f0a2b4"/><circle cx="94.0" cy="381.3" r="0.45" fill="#80182f"/><circle cx="99.0" cy="373.4" r="0.45" fill="#f0a2b4"/><circle cx="85.1" cy="359.9" r="0.45" fill="#80182f"/><circle cx="113.4" cy="357.5" r="0.45" fill="#80182f"/><circle cx="108.1" cy="362.9" r="0.45" fill="#80182f"/><circle cx="103.7" cy="375.5" r="0.45" fill="#f0a2b4"/><circle cx="108.3" cy="359.9" r="0.45" fill="#b02c48"/><circle cx="108.9" cy="358.0" r="0.45" fill="#80182f"/><circle cx="99.0" cy="373.0" r="0.45" fill="#80182f"/><circle cx="82.4" cy="369.9" r="0.45" fill="#80182f"/><circle cx="103.3" cy="384.9" r="0.45" fill="#80182f"/><circle cx="102.5" cy="381.1" r="0.45" fill="#80182f"/><circle cx="113.8" cy="387.4" r="0.45" fill="#80182f"/><circle cx="95.7" cy="384.2" r="0.45" fill="#f0a2b4"/><circle cx="111.6" cy="367.7" r="0.45" fill="#80182f"/><circle cx="91.9" cy="370.9" r="0.45" fill="#b02c48"/><circle cx="112.8" cy="386.6" r="0.45" fill="#b02c48"/><circle cx="114.7" cy="358.3" r="0.45" fill="#f0a2b4"/><circle cx="88.1" cy="370.4" r="0.45" fill="#f0a2b4"/><circle cx="93.2" cy="374.0" r="0.45" fill="#80182f"/><circle cx="96.3" cy="373.2" r="0.45" fill="#80182f"/><circle cx="111.6" cy="387.4" r="0.45" fill="#f0a2b4"/><circle cx="113.0" cy="385.7" r="0.45" fill="#b02c48"/><circle cx="78.5" cy="377.7" r="0.45" fill="#80182f"/><circle cx="107.2" cy="365.5" r="0.45" fill="#f0a2b4"/><circle cx="118.1" cy="377.0" r="0.45" fill="#80182f"/><circle cx="100.2" cy="370.8" r="0.45" fill="#b02c48"/><circle cx="89.8" cy="366.6" r="0.45" fill="#f0a2b4"/><circle cx="82.4" cy="376.1" r="0.45" fill="#b02c48"/><circle cx="97.8" cy="374.1" r="0.45" fill="#80182f"/><circle cx="82.5" cy="360.8" r="0.45" fill="#80182f"/><circle cx="95.1" cy="366.0" r="0.45" fill="#80182f"/><circle cx="80.9" cy="374.5" r="0.45" fill="#b02c48"/><circle cx="104.1" cy="375.3" r="0.45" fill="#f0a2b4"/><circle cx="86.0" cy="379.9" r="0.45" fill="#f0a2b4"/><circle cx="101.4" cy="376.7" r="0.45" fill="#f0a2b4"/><circle cx="90.8" cy="364.5" r="0.45" fill="#80182f"/><circle cx="99.8" cy="369.1" r="0.45" fill="#f0a2b4"/><circle cx="115.4" cy="364.4" r="0.45" fill="#f0a2b4"/><circle cx="111.4" cy="361.7" r="0.45" fill="#80182f"/><circle cx="115.8" cy="371.0" r="0.45" fill="#80182f"/><circle cx="94.3" cy="371.0" r="0.45" fill="#f0a2b4"/><circle cx="81.9" cy="363.9" r="0.45" fill="#b02c48"/><circle cx="109.9" cy="361.6" r="0.45" fill="#80182f"/><circle cx="92.7" cy="378.8" r="0.45" fill="#f0a2b4"/><circle cx="114.8" cy="383.6" r="0.45" fill="#f0a2b4"/><circle cx="109.9" cy="381.0" r="0.45" fill="#b02c48"/><circle cx="108.5" cy="386.7" r="0.45" fill="#80182f"/><circle cx="111.1" cy="375.8" r="0.45" fill="#f0a2b4"/><circle cx="119.8" cy="375.4" r="0.45" fill="#80182f"/><circle cx="111.9" cy="385.3" r="0.45" fill="#f0a2b4"/><circle cx="93.9" cy="371.4" r="0.45" fill="#f0a2b4"/><circle cx="109.2" cy="366.2" r="0.45" fill="#80182f"/><circle cx="101.7" cy="369.2" r="0.45" fill="#80182f"/><circle cx="112.0" cy="384.5" r="0.45" fill="#f0a2b4"/><circle cx="96.8" cy="362.6" r="0.45" fill="#80182f"/><circle cx="83.5" cy="375.5" r="0.45" fill="#f0a2b4"/><circle cx="91.4" cy="384.3" r="0.45" fill="#b02c48"/><circle cx="102.1" cy="372.9" r="0.45" fill="#b02c48"/><circle cx="111.4" cy="374.3" r="0.45" fill="#b02c48"/><circle cx="100.0" cy="373.6" r="0.45" fill="#f0a2b4"/><circle cx="94.3" cy="368.3" r="0.45" fill="#f0a2b4"/><circle cx="92.6" cy="387.8" r="0.45" fill="#f0a2b4"/><circle cx="93.7" cy="369.7" r="0.45" fill="#f0a2b4"/><circle cx="119.9" cy="372.6" r="0.45" fill="#80182f"/><circle cx="92.3" cy="374.0" r="0.45" fill="#b02c48"/><circle cx="84.6" cy="367.0" r="0.45" fill="#b02c48"/><circle cx="113.8" cy="373.4" r="0.45" fill="#80182f"/><circle cx="116.8" cy="379.3" r="0.45" fill="#b02c48"/><circle cx="95.7" cy="361.7" r="0.45" fill="#80182f"/><circle cx="99.8" cy="373.2" r="0.45" fill="#80182f"/><circle cx="85.1" cy="377.3" r="0.45" fill="#f0a2b4"/><circle cx="105.3" cy="357.9" r="0.45" fill="#80182f"/><circle cx="112.0" cy="366.6" r="0.45" fill="#f0a2b4"/><circle cx="114.5" cy="375.8" r="0.45" fill="#f0a2b4"/><circle cx="85.8" cy="372.9" r="0.45" fill="#f0a2b4"/><circle cx="88.8" cy="377.8" r="0.45" fill="#f0a2b4"/><circle cx="95.3" cy="360.5" r="0.45" fill="#80182f"/><circle cx="110.8" cy="360.0" r="0.45" fill="#80182f"/><circle cx="84.6" cy="373.7" r="0.45" fill="#b02c48"/><circle cx="104.3" cy="383.1" r="0.45" fill="#80182f"/><circle cx="91.4" cy="380.1" r="0.45" fill="#80182f"/><circle cx="84.5" cy="365.3" r="0.45" fill="#80182f"/><circle cx="117.2" cy="375.7" r="0.45" fill="#80182f"/><circle cx="97.0" cy="369.2" r="0.45" fill="#80182f"/><circle cx="116.6" cy="375.7" r="0.45" fill="#b02c48"/><circle cx="96.6" cy="377.0" r="0.45" fill="#80182f"/><circle cx="115.0" cy="366.9" r="0.45" fill="#b02c48"/><circle cx="113.3" cy="366.5" r="0.45" fill="#f0a2b4"/><circle cx="119.7" cy="372.9" r="0.45" fill="#b02c48"/><circle cx="87.8" cy="369.4" r="0.45" fill="#f0a2b4"/><circle cx="86.9" cy="366.7" r="0.45" fill="#b02c48"/><circle cx="87.8" cy="362.2" r="0.45" fill="#80182f"/><circle cx="85.3" cy="388.6" r="0.45" fill="#80182f"/><circle cx="100.8" cy="369.2" r="0.45" fill="#80182f"/><circle cx="113.7" cy="368.1" r="0.45" fill="#80182f"/><circle cx="85.5" cy="365.9" r="0.45" fill="#80182f"/><circle cx="78.6" cy="378.4" r="0.45" fill="#80182f"/><circle cx="83.9" cy="379.8" r="0.45" fill="#80182f"/><circle cx="89.0" cy="384.1" r="0.45" fill="#80182f"/><circle cx="112.8" cy="361.8" r="0.45" fill="#80182f"/><circle cx="109.1" cy="368.9" r="0.45" fill="#b02c48"/><circle cx="86.3" cy="387.9" r="0.45" fill="#f0a2b4"/><circle cx="87.1" cy="371.4" r="0.45" fill="#80182f"/><circle cx="108.4" cy="365.1" r="0.45" fill="#b02c48"/><circle cx="103.1" cy="368.6" r="0.45" fill="#80182f"/><circle cx="104.1" cy="363.5" r="0.45" fill="#b02c48"/><circle cx="82.5" cy="373.4" r="0.45" fill="#f0a2b4"/><circle cx="89.0" cy="382.0" r="0.45" fill="#80182f"/><circle cx="106.3" cy="375.2" r="0.45" fill="#80182f"/><circle cx="94.4" cy="359.3" r="0.45" fill="#80182f"/><circle cx="114.9" cy="367.1" r="0.45" fill="#f0a2b4"/><circle cx="81.8" cy="375.0" r="0.45" fill="#80182f"/><circle cx="79.9" cy="366.8" r="0.45" fill="#80182f"/><circle cx="82.6" cy="380.2" r="0.45" fill="#80182f"/><circle cx="111.5" cy="385.6" r="0.45" fill="#b02c48"/><circle cx="82.9" cy="365.6" r="0.45" fill="#80182f"/><circle cx="107.2" cy="378.4" r="0.45" fill="#80182f"/><circle cx="95.4" cy="378.2" r="0.45" fill="#f0a2b4"/><circle cx="88.1" cy="384.4" r="0.45" fill="#80182f"/><circle cx="105.0" cy="362.5" r="0.45" fill="#80182f"/><circle cx="117.6" cy="380.7" r="0.45" fill="#f0a2b4"/><circle cx="84.2" cy="363.0" r="0.45" fill="#80182f"/><circle cx="90.8" cy="377.6" r="0.45" fill="#80182f"/><circle cx="114.4" cy="375.3" r="0.45" fill="#f0a2b4"/><circle cx="88.3" cy="370.9" r="0.45" fill="#f0a2b4"/><circle cx="114.1" cy="382.1" r="0.45" fill="#80182f"/><circle cx="87.9" cy="360.2" r="0.45" fill="#b02c48"/><circle cx="86.4" cy="386.7" r="0.45" fill="#f0a2b4"/><circle cx="80.8" cy="379.4" r="0.45" fill="#80182f"/><circle cx="110.3" cy="383.8" r="0.45" fill="#80182f"/><circle cx="107.8" cy="380.9" r="0.45" fill="#b02c48"/><circle cx="105.0" cy="371.4" r="0.45" fill="#80182f"/><circle cx="108.1" cy="370.6" r="0.45" fill="#f0a2b4"/><circle cx="110.9" cy="357.9" r="0.45" fill="#f0a2b4"/><circle cx="112.9" cy="365.1" r="0.45" fill="#f0a2b4"/><circle cx="120.1" cy="377.5" r="0.45" fill="#f0a2b4"/><circle cx="88.1" cy="358.5" r="0.45" fill="#80182f"/><circle cx="95.3" cy="363.1" r="0.45" fill="#80182f"/><circle cx="83.1" cy="379.8" r="0.45" fill="#f0a2b4"/><circle cx="87.6" cy="364.5" r="0.45" fill="#f0a2b4"/><circle cx="92.6" cy="366.4" r="0.45" fill="#b02c48"/><circle cx="83.3" cy="375.1" r="0.45" fill="#80182f"/><circle cx="113.3" cy="374.6" r="0.45" fill="#b02c48"/><circle cx="84.5" cy="378.5" r="0.45" fill="#f0a2b4"/><circle cx="97.5" cy="381.8" r="0.45" fill="#b02c48"/><circle cx="82.1" cy="366.0" r="0.45" fill="#80182f"/><circle cx="86.2" cy="358.5" r="0.45" fill="#80182f"/><circle cx="85.8" cy="379.7" r="0.45" fill="#80182f"/><circle cx="82.0" cy="367.2" r="0.45" fill="#f0a2b4"/><circle cx="93.2" cy="362.0" r="0.45" fill="#80182f"/><circle cx="110.4" cy="359.3" r="0.45" fill="#f0a2b4"/><circle cx="120.6" cy="375.1" r="0.45" fill="#80182f"/><circle cx="98.8" cy="370.8" r="0.45" fill="#80182f"/><circle cx="117.9" cy="377.8" r="0.45" fill="#f0a2b4"/><circle cx="118.6" cy="378.0" r="0.45" fill="#80182f"/><circle cx="87.9" cy="361.1" r="0.45" fill="#80182f"/><circle cx="111.5" cy="384.2" r="0.45" fill="#80182f"/><circle cx="85.3" cy="377.6" r="0.45" fill="#b02c48"/><circle cx="118.2" cy="362.1" r="0.45" fill="#b02c48"/><circle cx="114.0" cy="381.0" r="0.45" fill="#80182f"/><circle cx="85.2" cy="383.7" r="0.45" fill="#80182f"/><circle cx="93.4" cy="374.7" r="0.45" fill="#80182f"/><circle cx="114.0" cy="364.4" r="0.45" fill="#80182f"/><circle cx="102.2" cy="377.2" r="0.45" fill="#b02c48"/><circle cx="108.4" cy="386.4" r="0.45" fill="#b02c48"/><circle cx="99.0" cy="373.0" r="0.45" fill="#80182f"/><circle cx="90.3" cy="375.7" r="0.45" fill="#80182f"/><circle cx="107.6" cy="361.9" r="0.45" fill="#80182f"/><circle cx="78.8" cy="371.0" r="0.45" fill="#80182f"/><circle cx="109.2" cy="356.6" r="0.45" fill="#b02c48"/><circle cx="115.1" cy="382.5" r="0.45" fill="#80182f"/><circle cx="89.6" cy="378.3" r="0.45" fill="#f0a2b4"/><circle cx="95.7" cy="367.7" r="0.45" fill="#80182f"/><circle cx="106.6" cy="383.8" r="0.45" fill="#b02c48"/><circle cx="84.3" cy="366.3" r="0.45" fill="#80182f"/><circle cx="102.1" cy="368.0" r="0.45" fill="#80182f"/><circle cx="80.8" cy="367.2" r="0.45" fill="#f0a2b4"/><circle cx="119.8" cy="377.0" r="0.45" fill="#b02c48"/><circle cx="79.7" cy="378.8" r="0.45" fill="#f0a2b4"/><circle cx="90.2" cy="375.3" r="0.45" fill="#b02c48"/><circle cx="98.4" cy="377.9" r="0.45" fill="#80182f"/><circle cx="92.3" cy="385.7" r="0.45" fill="#80182f"/><circle cx="85.4" cy="378.9" r="0.45" fill="#80182f"/><circle cx="80.8" cy="378.3" r="0.45" fill="#80182f"/><circle cx="102.8" cy="370.2" r="0.45" fill="#f0a2b4"/><circle cx="102.1" cy="369.6" r="0.45" fill="#80182f"/><circle cx="85.0" cy="385.9" r="0.45" fill="#f0a2b4"/><circle cx="82.0" cy="385.0" r="0.45" fill="#80182f"/><circle cx="81.2" cy="374.0" r="0.45" fill="#80182f"/><circle cx="98.8" cy="374.8" r="0.45" fill="#80182f"/><circle cx="99.8" cy="375.9" r="0.45" fill="#80182f"/><circle cx="101.5" cy="380.1" r="0.45" fill="#b02c48"/><circle cx="109.1" cy="359.9" r="0.45" fill="#b02c48"/><circle cx="94.4" cy="362.2" r="0.45" fill="#b02c48"/><circle cx="102.1" cy="382.1" r="0.45" fill="#80182f"/><circle cx="111.5" cy="358.4" r="0.45" fill="#80182f"/><circle cx="103.4" cy="363.5" r="0.45" fill="#80182f"/><circle cx="108.5" cy="370.6" r="0.45" fill="#b02c48"/><circle cx="104.6" cy="385.3" r="0.45" fill="#f0a2b4"/><circle cx="84.5" cy="381.1" r="0.45" fill="#80182f"/><circle cx="111.0" cy="379.0" r="0.45" fill="#b02c48"/><circle cx="82.5" cy="368.8" r="0.45" fill="#f0a2b4"/><circle cx="119.2" cy="380.3" r="0.45" fill="#80182f"/><circle cx="103.9" cy="359.8" r="0.45" fill="#f0a2b4"/><circle cx="112.7" cy="360.2" r="0.45" fill="#b02c48"/><circle cx="107.0" cy="364.9" r="0.45" fill="#80182f"/><circle cx="102.9" cy="360.2" r="0.45" fill="#80182f"/><circle cx="81.9" cy="382.9" r="0.45" fill="#80182f"/><circle cx="101.7" cy="366.1" r="0.45" fill="#f0a2b4"/><circle cx="93.9" cy="361.3" r="0.45" fill="#b02c48"/><circle cx="101.0" cy="379.3" r="0.45" fill="#b02c48"/><circle cx="92.2" cy="361.5" r="0.45" fill="#f0a2b4"/><circle cx="115.9" cy="382.9" r="0.45" fill="#80182f"/><circle cx="85.1" cy="383.5" r="0.45" fill="#f0a2b4"/><circle cx="94.5" cy="372.2" r="0.45" fill="#80182f"/><circle cx="114.6" cy="369.5" r="0.45" fill="#b02c48"/><circle cx="104.2" cy="359.0" r="0.45" fill="#80182f"/><circle cx="86.6" cy="386.0" r="0.45" fill="#f0a2b4"/><circle cx="93.1" cy="371.9" r="0.45" fill="#f0a2b4"/><circle cx="94.3" cy="368.2" r="0.45" fill="#80182f"/><circle cx="102.8" cy="367.5" r="0.45" fill="#80182f"/><circle cx="106.9" cy="365.5" r="0.45" fill="#80182f"/><circle cx="102.3" cy="373.9" r="0.45" fill="#b02c48"/><circle cx="101.9" cy="381.9" r="0.45" fill="#b02c48"/><circle cx="111.5" cy="377.4" r="0.45" fill="#f0a2b4"/><circle cx="93.1" cy="365.8" r="0.45" fill="#b02c48"/><circle cx="107.3" cy="366.5" r="0.45" fill="#b02c48"/><circle cx="109.9" cy="373.3" r="0.45" fill="#f0a2b4"/><circle cx="92.6" cy="374.7" r="0.45" fill="#80182f"/><circle cx="79.7" cy="367.6" r="0.45" fill="#80182f"/><circle cx="121.0" cy="372.4" r="0.45" fill="#80182f"/><circle cx="87.8" cy="364.2" r="0.45" fill="#80182f"/><circle cx="115.8" cy="371.5" r="0.45" fill="#80182f"/><circle cx="102.3" cy="366.5" r="0.45" fill="#80182f"/><circle cx="80.0" cy="366.4" r="0.45" fill="#80182f"/><circle cx="109.3" cy="374.7" r="0.45" fill="#b02c48"/><circle cx="92.2" cy="386.9" r="0.45" fill="#f0a2b4"/><circle cx="80.6" cy="362.4" r="0.45" fill="#f0a2b4"/><circle cx="111.5" cy="370.6" r="0.45" fill="#b02c48"/><circle cx="80.0" cy="372.5" r="0.45" fill="#b02c48"/><circle cx="89.3" cy="365.0" r="0.45" fill="#80182f"/><circle cx="84.3" cy="365.3" r="0.45" fill="#f0a2b4"/><circle cx="86.7" cy="369.7" r="0.45" fill="#80182f"/><circle cx="103.8" cy="385.0" r="0.45" fill="#f0a2b4"/><circle cx="85.8" cy="380.7" r="0.45" fill="#b02c48"/><circle cx="103.7" cy="359.1" r="0.45" fill="#b02c48"/><circle cx="116.0" cy="367.8" r="0.45" fill="#80182f"/><circle cx="85.4" cy="374.2" r="0.45" fill="#b02c48"/><circle cx="105.5" cy="387.0" r="0.45" fill="#80182f"/><circle cx="91.5" cy="381.2" r="0.45" fill="#f0a2b4"/><circle cx="95.0" cy="378.9" r="0.45" fill="#80182f"/><circle cx="79.6" cy="370.2" r="0.45" fill="#80182f"/><circle cx="104.9" cy="367.5" r="0.45" fill="#f0a2b4"/><circle cx="103.6" cy="365.0" r="0.45" fill="#f0a2b4"/><circle cx="79.5" cy="376.8" r="0.45" fill="#f0a2b4"/><circle cx="91.6" cy="359.6" r="0.45" fill="#80182f"/><circle cx="83.3" cy="381.8" r="0.45" fill="#80182f"/><circle cx="113.2" cy="370.5" r="0.45" fill="#f0a2b4"/><circle cx="103.2" cy="374.8" r="0.45" fill="#f0a2b4"/><circle cx="103.8" cy="367.4" r="0.45" fill="#f0a2b4"/><circle cx="88.5" cy="380.0" r="0.45" fill="#b02c48"/><circle cx="111.5" cy="366.7" r="0.45" fill="#b02c48"/><circle cx="120.5" cy="371.5" r="0.45" fill="#80182f"/><circle cx="98.2" cy="378.1" r="0.45" fill="#b02c48"/><circle cx="87.2" cy="381.5" r="0.45" fill="#80182f"/><circle cx="79.7" cy="373.1" r="0.45" fill="#f0a2b4"/><circle cx="85.1" cy="387.5" r="0.45" fill="#80182f"/><circle cx="83.6" cy="362.4" r="0.45" fill="#f0a2b4"/><circle cx="118.0" cy="361.8" r="0.45" fill="#80182f"/><circle cx="111.6" cy="364.5" r="0.45" fill="#b02c48"/><circle cx="92.3" cy="382.9" r="0.45" fill="#f0a2b4"/><circle cx="91.4" cy="386.3" r="0.45" fill="#80182f"/><circle cx="109.6" cy="358.7" r="0.45" fill="#f0a2b4"/><circle cx="94.9" cy="385.0" r="0.45" fill="#80182f"/><circle cx="102.1" cy="370.0" r="0.45" fill="#b02c48"/><circle cx="119.1" cy="377.2" r="0.45" fill="#80182f"/><circle cx="88.2" cy="365.2" r="0.45" fill="#80182f"/><circle cx="87.3" cy="363.2" r="0.45" fill="#b02c48"/><circle cx="105.6" cy="366.3" r="0.45" fill="#b02c48"/><circle cx="86.6" cy="375.3" r="0.45" fill="#80182f"/><circle cx="115.4" cy="385.2" r="0.45" fill="#80182f"/><circle cx="110.4" cy="383.7" r="0.45" fill="#80182f"/><circle cx="91.8" cy="372.5" r="0.45" fill="#b02c48"/><circle cx="84.2" cy="379.0" r="0.45" fill="#f0a2b4"/><circle cx="97.2" cy="375.6" r="0.45" fill="#b02c48"/><circle cx="86.3" cy="385.7" r="0.45" fill="#80182f"/><circle cx="111.7" cy="385.0" r="0.45" fill="#80182f"/><circle cx="90.2" cy="357.3" r="0.45" fill="#80182f"/><circle cx="117.6" cy="361.5" r="0.45" fill="#f0a2b4"/><circle cx="81.3" cy="362.1" r="0.45" fill="#f0a2b4"/><circle cx="81.0" cy="367.7" r="0.45" fill="#b02c48"/><circle cx="108.9" cy="385.6" r="0.45" fill="#b02c48"/><circle cx="112.2" cy="379.3" r="0.45" fill="#80182f"/><circle cx="91.1" cy="385.5" r="0.45" fill="#80182f"/><circle cx="96.1" cy="362.4" r="0.45" fill="#f0a2b4"/><circle cx="83.6" cy="380.9" r="0.45" fill="#f0a2b4"/><circle cx="82.0" cy="368.2" r="0.45" fill="#f0a2b4"/><circle cx="117.9" cy="368.0" r="0.45" fill="#80182f"/><circle cx="109.5" cy="365.5" r="0.45" fill="#80182f"/><circle cx="88.8" cy="358.8" r="0.45" fill="#80182f"/><circle cx="99.6" cy="370.0" r="0.45" fill="#f0a2b4"/><circle cx="107.6" cy="378.1" r="0.45" fill="#f0a2b4"/><circle cx="101.4" cy="379.3" r="0.45" fill="#b02c48"/><circle cx="115.9" cy="380.2" r="0.45" fill="#80182f"/><circle cx="91.2" cy="370.3" r="0.45" fill="#b02c48"/><circle cx="94.2" cy="369.2" r="0.45" fill="#80182f"/><circle cx="118.2" cy="364.9" r="0.45" fill="#f0a2b4"/><circle cx="93.8" cy="364.4" r="0.45" fill="#80182f"/><circle cx="82.2" cy="384.3" r="0.45" fill="#b02c48"/><circle cx="107.9" cy="367.2" r="0.45" fill="#f0a2b4"/><circle cx="101.4" cy="366.9" r="0.45" fill="#b02c48"/><circle cx="115.0" cy="373.3" r="0.45" fill="#f0a2b4"/><circle cx="105.0" cy="381.0" r="0.45" fill="#80182f"/><circle cx="108.7" cy="369.5" r="0.45" fill="#f0a2b4"/><circle cx="104.3" cy="378.8" r="0.45" fill="#80182f"/><circle cx="105.0" cy="374.4" r="0.45" fill="#80182f"/><circle cx="104.3" cy="365.2" r="0.45" fill="#b02c48"/><circle cx="98.1" cy="380.3" r="0.45" fill="#f0a2b4"/><circle cx="83.3" cy="387.1" r="0.45" fill="#f0a2b4"/><circle cx="100.3" cy="373.9" r="0.45" fill="#b02c48"/><circle cx="87.6" cy="362.2" r="0.45" fill="#b02c48"/><circle cx="97.5" cy="377.6" r="0.45" fill="#b02c48"/><circle cx="116.8" cy="385.1" r="0.45" fill="#80182f"/><circle cx="94.0" cy="384.0" r="0.45" fill="#b02c48"/><circle cx="82.5" cy="361.6" r="0.45" fill="#80182f"/><circle cx="81.6" cy="368.3" r="0.45" fill="#b02c48"/><circle cx="100.2" cy="371.4" r="0.45" fill="#80182f"/><circle cx="107.9" cy="371.3" r="0.45" fill="#f0a2b4"/><circle cx="112.5" cy="381.5" r="0.45" fill="#80182f"/><circle cx="107.3" cy="368.6" r="0.45" fill="#f0a2b4"/><circle cx="87.6" cy="368.7" r="0.45" fill="#80182f"/><circle cx="85.9" cy="375.3" r="0.45" fill="#80182f"/><circle cx="84.9" cy="380.2" r="0.45" fill="#80182f"/><circle cx="91.4" cy="364.5" r="0.45" fill="#b02c48"/><circle cx="81.1" cy="377.5" r="0.45" fill="#b02c48"/><circle cx="86.0" cy="370.5" r="0.45" fill="#b02c48"/><circle cx="104.5" cy="368.8" r="0.45" fill="#80182f"/><circle cx="96.7" cy="368.6" r="0.45" fill="#f0a2b4"/><circle cx="90.1" cy="370.0" r="0.45" fill="#f0a2b4"/><circle cx="113.1" cy="368.1" r="0.45" fill="#80182f"/><circle cx="85.5" cy="388.6" r="0.45" fill="#f0a2b4"/><circle cx="93.6" cy="378.5" r="0.45" fill="#80182f"/><circle cx="80.1" cy="381.4" r="0.45" fill="#80182f"/><circle cx="100.4" cy="372.9" r="0.45" fill="#b02c48"/><circle cx="110.7" cy="357.3" r="0.45" fill="#f0a2b4"/><circle cx="97.6" cy="371.8" r="0.45" fill="#b02c48"/><circle cx="95.5" cy="372.1" r="0.45" fill="#b02c48"/><circle cx="96.6" cy="372.7" r="0.45" fill="#f0a2b4"/><circle cx="113.7" cy="378.6" r="0.45" fill="#f0a2b4"/><circle cx="107.3" cy="374.8" r="0.45" fill="#b02c48"/><circle cx="111.3" cy="360.4" r="0.45" fill="#80182f"/><circle cx="80.4" cy="383.5" r="0.45" fill="#80182f"/><circle cx="80.9" cy="381.4" r="0.45" fill="#f0a2b4"/><circle cx="79.4" cy="379.0" r="0.45" fill="#f0a2b4"/><circle cx="107.8" cy="370.3" r="0.45" fill="#f0a2b4"/><circle cx="115.8" cy="361.3" r="0.45" fill="#80182f"/><circle cx="88.7" cy="366.8" r="0.45" fill="#80182f"/><circle cx="115.2" cy="374.8" r="0.45" fill="#f0a2b4"/><circle cx="90.5" cy="385.1" r="0.45" fill="#b02c48"/><circle cx="115.1" cy="365.0" r="0.45" fill="#80182f"/><circle cx="79.3" cy="374.2" r="0.45" fill="#80182f"/><circle cx="97.7" cy="372.6" r="0.45" fill="#f0a2b4"/><circle cx="93.3" cy="382.9" r="0.45" fill="#80182f"/><circle cx="117.9" cy="374.9" r="0.45" fill="#80182f"/><circle cx="91.0" cy="374.1" r="0.45" fill="#80182f"/><circle cx="102.1" cy="367.2" r="0.45" fill="#80182f"/><circle cx="112.4" cy="366.1" r="0.45" fill="#f0a2b4"/><circle cx="112.7" cy="376.0" r="0.45" fill="#f0a2b4"/><circle cx="118.6" cy="371.2" r="0.45" fill="#b02c48"/><circle cx="79.6" cy="370.8" r="0.45" fill="#f0a2b4"/><circle cx="80.2" cy="376.2" r="0.45" fill="#80182f"/><circle cx="118.0" cy="375.0" r="0.45" fill="#b02c48"/><circle cx="107.0" cy="366.2" r="0.45" fill="#80182f"/><circle cx="114.3" cy="361.3" r="0.45" fill="#b02c48"/><circle cx="86.2" cy="359.8" r="0.45" fill="#80182f"/><circle cx="111.9" cy="387.9" r="0.45" fill="#80182f"/><circle cx="106.3" cy="365.0" r="0.45" fill="#b02c48"/><circle cx="107.5" cy="361.6" r="0.45" fill="#80182f"/><circle cx="108.0" cy="357.9" r="0.45" fill="#b02c48"/><circle cx="90.1" cy="364.2" r="0.45" fill="#f0a2b4"/><circle cx="91.2" cy="375.0" r="0.45" fill="#80182f"/><circle cx="117.6" cy="367.2" r="0.45" fill="#b02c48"/><circle cx="83.8" cy="382.9" r="0.45" fill="#b02c48"/><circle cx="93.9" cy="377.6" r="0.45" fill="#80182f"/><circle cx="97.7" cy="380.5" r="0.45" fill="#80182f"/><circle cx="107.2" cy="360.3" r="0.45" fill="#b02c48"/><circle cx="100.4" cy="366.1" r="0.45" fill="#80182f"/><circle cx="110.4" cy="372.9" r="0.45" fill="#b02c48"/><circle cx="81.1" cy="372.5" r="0.45" fill="#b02c48"/><circle cx="103.6" cy="374.3" r="0.45" fill="#80182f"/><circle cx="83.2" cy="365.4" r="0.45" fill="#b02c48"/><circle cx="114.6" cy="364.0" r="0.45" fill="#b02c48"/><circle cx="78.4" cy="376.3" r="0.45" fill="#b02c48"/><circle cx="92.3" cy="387.7" r="0.45" fill="#f0a2b4"/><circle cx="79.2" cy="367.5" r="0.45" fill="#80182f"/><circle cx="88.0" cy="381.0" r="0.45" fill="#80182f"/><circle cx="112.1" cy="366.3" r="0.45" fill="#80182f"/><circle cx="101.5" cy="382.5" r="0.45" fill="#f0a2b4"/><circle cx="105.8" cy="360.9" r="0.45" fill="#f0a2b4"/><circle cx="92.7" cy="368.9" r="0.45" fill="#f0a2b4"/><circle cx="84.3" cy="362.1" r="0.45" fill="#b02c48"/><circle cx="91.8" cy="384.3" r="0.45" fill="#b02c48"/><circle cx="82.2" cy="372.9" r="0.45" fill="#f0a2b4"/><circle cx="82.2" cy="371.9" r="0.45" fill="#80182f"/><circle cx="100.8" cy="373.2" r="0.45" fill="#80182f"/><circle cx="85.8" cy="369.8" r="0.45" fill="#80182f"/><circle cx="82.7" cy="364.4" r="0.45" fill="#b02c48"/><circle cx="102.4" cy="379.2" r="0.45" fill="#80182f"/><circle cx="110.4" cy="361.6" r="0.45" fill="#80182f"/><circle cx="78.4" cy="369.5" r="0.45" fill="#f0a2b4"/><circle cx="90.0" cy="385.9" r="0.45" fill="#80182f"/><circle cx="102.7" cy="364.2" r="0.45" fill="#f0a2b4"/><circle cx="111.9" cy="380.0" r="0.45" fill="#80182f"/><circle cx="87.9" cy="376.3" r="0.45" fill="#b02c48"/><circle cx="78.8" cy="376.9" r="0.45" fill="#f0a2b4"/><circle cx="113.3" cy="367.8" r="0.45" fill="#b02c48"/><circle cx="95.3" cy="369.9" r="0.45" fill="#80182f"/><circle cx="87.9" cy="380.7" r="0.45" fill="#f0a2b4"/><circle cx="83.7" cy="367.9" r="0.45" fill="#80182f"/><circle cx="85.8" cy="363.7" r="0.45" fill="#80182f"/><circle cx="112.2" cy="372.3" r="0.45" fill="#f0a2b4"/><circle cx="111.7" cy="386.5" r="0.45" fill="#b02c48"/><circle cx="105.3" cy="363.1" r="0.45" fill="#f0a2b4"/><circle cx="114.6" cy="382.5" r="0.45" fill="#80182f"/><circle cx="108.9" cy="368.0" r="0.45" fill="#80182f"/><circle cx="120.0" cy="378.7" r="0.45" fill="#f0a2b4"/><circle cx="83.0" cy="383.8" r="0.45" fill="#b02c48"/><circle cx="117.3" cy="381.1" r="0.45" fill="#b02c48"/><circle cx="112.7" cy="376.0" r="0.45" fill="#80182f"/><circle cx="113.7" cy="382.4" r="0.45" fill="#b02c48"/><circle cx="90.3" cy="388.2" r="0.45" fill="#f0a2b4"/><circle cx="88.2" cy="384.2" r="0.45" fill="#80182f"/><circle cx="85.8" cy="371.6" r="0.45" fill="#80182f"/><circle cx="107.5" cy="379.9" r="0.45" fill="#80182f"/><circle cx="111.9" cy="382.7" r="0.45" fill="#f0a2b4"/><circle cx="95.1" cy="359.4" r="0.45" fill="#f0a2b4"/><circle cx="114.2" cy="367.7" r="0.45" fill="#f0a2b4"/><circle cx="114.2" cy="382.7" r="0.45" fill="#80182f"/><circle cx="81.9" cy="383.3" r="0.45" fill="#80182f"/><circle cx="103.9" cy="371.6" r="0.45" fill="#80182f"/><circle cx="86.5" cy="368.2" r="0.45" fill="#b02c48"/><circle cx="104.6" cy="366.1" r="0.45" fill="#80182f"/><circle cx="89.1" cy="379.6" r="0.45" fill="#80182f"/><circle cx="106.4" cy="383.1" r="0.45" fill="#80182f"/><circle cx="107.4" cy="357.9" r="0.45" fill="#b02c48"/><circle cx="85.2" cy="365.5" r="0.45" fill="#b02c48"/><circle cx="93.1" cy="363.9" r="0.45" fill="#b02c48"/><circle cx="104.2" cy="386.0" r="0.45" fill="#80182f"/><circle cx="85.4" cy="383.9" r="0.45" fill="#80182f"/><circle cx="84.8" cy="387.7" r="0.45" fill="#f0a2b4"/><circle cx="113.0" cy="364.8" r="0.45" fill="#80182f"/><circle cx="81.5" cy="374.7" r="0.45" fill="#b02c48"/><circle cx="99.9" cy="368.9" r="0.45" fill="#b02c48"/><circle cx="116.8" cy="378.5" r="0.45" fill="#80182f"/><circle cx="104.8" cy="371.2" r="0.45" fill="#b02c48"/><circle cx="93.1" cy="378.3" r="0.45" fill="#f0a2b4"/><circle cx="93.7" cy="373.7" r="0.45" fill="#f0a2b4"/><circle cx="117.4" cy="372.9" r="0.45" fill="#80182f"/><circle cx="114.1" cy="379.1" r="0.45" fill="#f0a2b4"/><circle cx="96.9" cy="381.3" r="0.45" fill="#b02c48"/><circle cx="109.4" cy="381.2" r="0.45" fill="#80182f"/><circle cx="91.5" cy="361.0" r="0.45" fill="#b02c48"/><circle cx="116.7" cy="361.3" r="0.45" fill="#f0a2b4"/><circle cx="94.5" cy="381.2" r="0.45" fill="#f0a2b4"/><circle cx="89.5" cy="381.7" r="0.45" fill="#80182f"/><circle cx="101.2" cy="370.4" r="0.45" fill="#b02c48"/><circle cx="105.9" cy="383.1" r="0.45" fill="#f0a2b4"/><circle cx="108.6" cy="379.3" r="0.45" fill="#80182f"/><circle cx="84.2" cy="375.5" r="0.45" fill="#b02c48"/><circle cx="112.3" cy="368.0" r="0.45" fill="#80182f"/><circle cx="84.2" cy="380.9" r="0.45" fill="#80182f"/><circle cx="90.9" cy="358.3" r="0.45" fill="#80182f"/><circle cx="90.8" cy="387.6" r="0.45" fill="#80182f"/><circle cx="91.3" cy="371.0" r="0.45" fill="#80182f"/><circle cx="88.6" cy="369.5" r="0.45" fill="#80182f"/><circle cx="86.1" cy="386.5" r="0.45" fill="#f0a2b4"/><circle cx="114.3" cy="377.5" r="0.45" fill="#b02c48"/><circle cx="91.0" cy="361.5" r="0.45" fill="#b02c48"/><circle cx="97.9" cy="374.9" r="0.45" fill="#f0a2b4"/><circle cx="110.5" cy="365.6" r="0.45" fill="#80182f"/><circle cx="117.8" cy="374.0" r="0.45" fill="#80182f"/><circle cx="105.0" cy="365.1" r="0.45" fill="#b02c48"/><circle cx="102.2" cy="368.2" r="0.45" fill="#b02c48"/><circle cx="88.8" cy="364.5" r="0.45" fill="#80182f"/><circle cx="101.4" cy="381.4" r="0.45" fill="#f0a2b4"/></g>
<path d="M99.25,357 L99.25,388.8" stroke="#eeb2c2" stroke-width="0.8"/>
<path d="M99.2,355.8 C93,353.6 75.7,354.5 75.7,372.8 C75.7,391 93,392.3 99.2,390.6 C105.5,392.3 123,391 123,372.8 C123,354.5 105.5,353.6 99.2,355.8 Z" fill="none" stroke="#1a1a1a" stroke-width="1" stroke-dasharray="0.9 1.3"/>
<ellipse cx="90.5" cy="352.6" rx="2.6" ry="0.9" fill="#c04a60"/><ellipse cx="97.5" cy="352.4" rx="3" ry="0.9" fill="#c04a60"/><ellipse cx="104" cy="352.8" rx="2.2" ry="0.8" fill="#c04a60"/><ellipse cx="105" cy="348.8" rx="1.6" ry="0.7" fill="#c04a60"/>
<g transform="translate(142.4,325.3) rotate(137.2)"><rect x="-1.5" y="-2.5" width="27" height="5" rx="2.5" fill="#9a9a9a"/><rect x="9" y="-0.8" width="12" height="1.6" rx="0.8" fill="#f4f4f4"/><rect x="25" y="-1.3" width="2.5" height="2.6" fill="#b8b8b8"/><path d="M27,-1.8 L31,-2.3 Q40,-2.2 49,0.2 Q40,2.6 31,2.3 L27,1.6 Z" fill="#8e8e8e"/></g>
<polygon transform="translate(131.5,363.5) rotate(-31.80)" points="0.0,-2.8 20.4,-2.8 20.4,-5.5 29.4,0.0 20.4,5.5 20.4,2.8 0.0,2.8" fill="url(#ag)"/>
<polygon transform="translate(128.0,389.0) rotate(45.00)" points="0.0,-2.8 19.3,-2.8 19.3,-5.5 28.3,0.0 19.3,5.5 19.3,2.8 0.0,2.8" fill="url(#ag)"/>
<path d="M163.5,301 L192.5,301 L192.5,340 L178,358.5 L163.5,340 Z" fill="url(#tubeg)" stroke="#9cbfe6" stroke-width="0.8"/>
<rect x="160.4" y="299.4" width="34.8" height="2" fill="#dfecf9" stroke="#a4c2e6" stroke-width="0.5"/>
<circle cx="167.4" cy="321.2" r="1.9" fill="#f2d4d0" stroke="#fff" stroke-width="0.6"/>
<circle cx="180.5" cy="323.3" r="1.0" fill="#203a6a" stroke="#fff" stroke-width="0.6"/>
<circle cx="186.5" cy="319.9" r="1.9" fill="#f0d0c8" stroke="#fff" stroke-width="0.6"/>
<circle cx="167.4" cy="332.3" r="2.5" fill="#d9a0ac" stroke="#fff" stroke-width="0.6"/>
<circle cx="179.6" cy="331.3" r="2.5" fill="#c87a4a" stroke="#fff" stroke-width="0.6"/>
<circle cx="187" cy="329.5" r="2.6" fill="#dca0ac" stroke="#fff" stroke-width="0.6"/>
<circle cx="182.6" cy="337.8" r="3.9" fill="#e4a8b0" stroke="#fff" stroke-width="0.6"/>
<circle cx="173" cy="343.3" r="1.8" fill="#eef2fa" stroke="#fff" stroke-width="0.6"/>
<circle cx="177.1" cy="351.6" r="1.7" fill="#f2dce0" stroke="#fff" stroke-width="0.6"/>
<path d="M171.5,323 l1.5,-2.2 l1.4,1.6 l1.6,-0.8 l-0.4,2 l1.6,1.2 l-2,0.8 l-0.2,2 l-1.6,-1.2 l-1.8,1 l0.2,-2 z" fill="#5ea04a"/>
<ellipse cx="173.6" cy="336.4" rx="2.8" ry="1.5" fill="#e8c840" stroke="#fff" stroke-width="0.4"/><circle cx="173.6" cy="336.4" r="0.8" fill="#8a6a20"/>
<path d="M177.8,344.5 l1.2,1.4 l1.8,-0.4 l-0.6,1.6 l1.2,1.2 l-1.8,0.2 l-0.6,1.6 l-0.8,-1.4 l-1.8,0 l1,-1.4 z" fill="#a0603a"/>
<circle cx="182.6" cy="337.8" r="2.4" fill="#d89098" fill-opacity="0.6"/>
<polygon transform="translate(204.5,325.5) rotate(0.00)" points="0.0,-4.0 18.5,-4.0 18.5,-6.8 30.0,0.0 18.5,6.8 18.5,4.0 0.0,4.0" fill="url(#ag)"/>
<rect x="283.5" y="322.6" width="23.5" height="6.4" fill="#e6e6e6"/>
<rect x="281.6" y="301.8" width="5.6" height="48.3" fill="#d3d3d3"/>
<rect x="257.8" y="301.8" width="6.9" height="48.3" fill="#5f93d6"/>
<rect x="239.6" y="322.6" width="44" height="6.4" fill="#5f93d6"/>
<circle cx="244.9" cy="325.8" r="1.7" fill="#e08a3a" stroke="#fff" stroke-width="0.5"/>
<circle cx="252.6" cy="325.8" r="1.7" fill="#9aa0a8" stroke="#fff" stroke-width="0.5"/>
<circle cx="261.2" cy="325.8" r="1.7" fill="#f0c83c" stroke="#fff" stroke-width="0.5"/>
<circle cx="268.5" cy="325.8" r="1.7" fill="#7ab068" stroke="#fff" stroke-width="0.5"/>
<circle cx="276.6" cy="325.8" r="1.7" fill="#1a1a1a" stroke="#fff" stroke-width="0.5"/>
<circle cx="284.6" cy="325.8" r="1.7" fill="#d8402c" stroke="#fff" stroke-width="0.5"/>
<circle cx="292.6" cy="325.8" r="1.7" fill="#3a7a3a" stroke="#fff" stroke-width="0.5"/>
<circle cx="261.2" cy="333" r="0.9" fill="#fff"/><circle cx="261.2" cy="339" r="0.9" fill="#fff"/>
<polygon transform="translate(298.0,335.0) rotate(45.69)" points="0.0,-3.5 19.3,-3.5 19.3,-6.5 29.3,0.0 19.3,6.5 19.3,3.5 0.0,3.5" fill="url(#ag)"/>
<g transform="translate(334.3,300.5)" fill="#dcdcdc"><ellipse cx="0" cy="4.2" rx="3" ry="4"/><path d="M0.0,8.2 L1.3,8.2 L1.5,9.6 L5.0,10.2 L7.0,11.0 L8.2,13.0 L8.8,17.0 L10.2,22.0 L12.0,26.5 L13.2,28.5 L14.2,30.2 L13.6,31.0 L12.4,30.4 L10.5,28.0 L8.6,23.5 L7.2,19.0 L6.2,16.5 L5.6,21.0 L5.0,26.2 L5.6,29.5 L6.2,32.5 L6.2,37.0 L5.2,43.0 L4.6,48.0 L3.8,54.0 L3.6,57.0 L4.8,59.4 L1.5,59.6 L1.4,57.0 L1.2,50.0 L0.9,43.0 L0.6,38.0 L0.0,36.0 L0.0,36.0 L-0.6,38.0 L-0.9,43.0 L-1.2,50.0 L-1.4,57.0 L-1.5,59.6 L-4.8,59.4 L-3.6,57.0 L-3.8,54.0 L-4.6,48.0 L-5.2,43.0 L-6.2,37.0 L-6.2,32.5 L-5.6,29.5 L-5.0,26.2 L-5.6,21.0 L-6.2,16.5 L-7.2,19.0 L-8.6,23.5 L-10.5,28.0 L-12.4,30.4 L-13.6,31.0 L-14.2,30.2 L-13.2,28.5 L-12.0,26.5 L-10.2,22.0 L-8.8,17.0 L-8.2,13.0 L-7.0,11.0 L-5.0,10.2 L-1.5,9.6 L-1.3,8.2 L0.0,8.2 Z"/></g>
<g transform="translate(366.7,300.5)" fill="#e6a3a5"><ellipse cx="0" cy="4.2" rx="3" ry="4"/><path d="M0.0,8.2 L1.3,8.2 L1.5,9.6 L5.0,10.2 L7.0,11.0 L8.2,13.0 L8.8,17.0 L10.2,22.0 L12.0,26.5 L13.2,28.5 L14.2,30.2 L13.6,31.0 L12.4,30.4 L10.5,28.0 L8.6,23.5 L7.2,19.0 L6.2,16.5 L5.6,21.0 L5.0,26.2 L5.6,29.5 L6.2,32.5 L6.2,37.0 L5.2,43.0 L4.6,48.0 L3.8,54.0 L3.6,57.0 L4.8,59.4 L1.5,59.6 L1.4,57.0 L1.2,50.0 L0.9,43.0 L0.6,38.0 L0.0,36.0 L0.0,36.0 L-0.6,38.0 L-0.9,43.0 L-1.2,50.0 L-1.4,57.0 L-1.5,59.6 L-4.8,59.4 L-3.6,57.0 L-3.8,54.0 L-4.6,48.0 L-5.2,43.0 L-6.2,37.0 L-6.2,32.5 L-5.6,29.5 L-5.0,26.2 L-5.6,21.0 L-6.2,16.5 L-7.2,19.0 L-8.6,23.5 L-10.5,28.0 L-12.4,30.4 L-13.6,31.0 L-14.2,30.2 L-13.2,28.5 L-12.0,26.5 L-10.2,22.0 L-8.8,17.0 L-8.2,13.0 L-7.0,11.0 L-5.0,10.2 L-1.5,9.6 L-1.3,8.2 L0.0,8.2 Z"/></g>
<path d="M385.5,310.8 Q390.5,310.8 390.5,314.8 L390.5,337.3 Q390.5,340.3 397.5,340.3 Q390.5,340.3 390.5,343.3 L390.5,384 Q390.5,388 385.5,388" fill="none" stroke="#111" stroke-width="1.1"/>
<path d="M385.5,391.5 Q390.5,391.5 390.5,395.5 L390.5,441.8 Q390.5,444.8 397.5,444.8 Q390.5,444.8 390.5,447.8 L390.5,465.8 Q390.5,469.8 385.5,469.8" fill="none" stroke="#111" stroke-width="1.1"/>
<g transform="translate(336,382)"><path d="M2.5,17 C-2,19 -4,23.5 -1.5,26.5 C2,29.5 12,31.5 25,33 C33,34 40,34.5 46,35" fill="none" stroke="#c8c8c8" stroke-width="1.3"/><path d="M1,12.1 C1.5,7 4,3 8,1.6 C11,0.5 13,0.5 15,0.6 C19,0.8 22,1 23.4,1.6 L29,2.7 L31.1,-0.8 C33,-0.5 34.6,1 34.6,2.3 L34.6,4.4 C37,7.5 40,11.5 42.4,15.6 C41,16.5 40,16.8 38.8,17 L33.2,18.4 L29.7,19.8 L31.1,24 L33.2,24.4 L29,24.7 L27,21.2 C23,21.8 20,22 17,21.9 L15,22.6 L11.5,23 L8,20.9 C5,20 3,19.5 2.4,18.4 C1.2,16.5 0.8,14 1,12.1 Z" fill="#d9d9d9"/><path d="M29.5,3.5 C31,6 33,9 34,12" fill="none" stroke="#f4f4f4" stroke-opacity="0.6" stroke-width="0.8"/><path d="M22,2.5 C28,7 28,15 22,21" fill="none" stroke="#c8c8c8" stroke-width="0.6"/></g>
<g transform="translate(333,435.5)"><path d="M2.5,17 C-2,19 -4,23.5 -1.5,26.5 C2,29.5 12,31.5 25,33 C33,34 40,34.5 46,35" fill="none" stroke="#d98285" stroke-width="1.3"/><path d="M1,12.1 C1.5,7 4,3 8,1.6 C11,0.5 13,0.5 15,0.6 C19,0.8 22,1 23.4,1.6 L29,2.7 L31.1,-0.8 C33,-0.5 34.6,1 34.6,2.3 L34.6,4.4 C37,7.5 40,11.5 42.4,15.6 C41,16.5 40,16.8 38.8,17 L33.2,18.4 L29.7,19.8 L31.1,24 L33.2,24.4 L29,24.7 L27,21.2 C23,21.8 20,22 17,21.9 L15,22.6 L11.5,23 L8,20.9 C5,20 3,19.5 2.4,18.4 C1.2,16.5 0.8,14 1,12.1 Z" fill="#e69496"/><path d="M29.5,3.5 C31,6 33,9 34,12" fill="none" stroke="#f4f4f4" stroke-opacity="0.6" stroke-width="0.8"/><path d="M22,2.5 C28,7 28,15 22,21" fill="none" stroke="#d98285" stroke-width="0.6"/></g>
<rect x="148.7" y="407.6" width="64.6" height="45.6" fill="url(#slideg)" stroke="#9ccbe0" stroke-width="0.8"/>
<rect x="235" y="408.2" width="61" height="45" fill="url(#slideg)" stroke="#9ccbe0" stroke-width="0.8"/>
<path d="M151.5,419 Q152,412 158,410.5" fill="none" stroke="#fff" stroke-width="0.9" stroke-opacity="0.9"/><path d="M237.8,419.5 Q238.3,412.5 244,411" fill="none" stroke="#fff" stroke-width="0.9" stroke-opacity="0.9"/>
<path d="M200,451.5 Q210,449 211.8,438" fill="none" stroke="#b8dcea" stroke-width="1.2"/><path d="M283,451.5 Q293,449 294.5,438" fill="none" stroke="#b8dcea" stroke-width="1.2"/>
<g clip-path="url(#tis1)"><rect x="160" y="414" width="39" height="34" fill="#ea9aae"/><ellipse cx="161.4" cy="415.9" rx="1.5" ry="1.1" transform="rotate(165 161.4 415.9)" fill="#b3334f"/><ellipse cx="165.4" cy="415.7" rx="1.8" ry="1.3" transform="rotate(100 165.4 415.7)" fill="#c0405c"/><ellipse cx="168.3" cy="415.4" rx="1.7" ry="1.1" transform="rotate(47 168.3 415.4)" fill="#c0405c"/><ellipse cx="171.5" cy="415.5" rx="1.7" ry="1.3" transform="rotate(73 171.5 415.5)" fill="#b3334f"/><ellipse cx="173.6" cy="415.7" rx="2.0" ry="1.0" transform="rotate(0 173.6 415.7)" fill="#c0405c"/><ellipse cx="177.5" cy="415.6" rx="1.6" ry="1.2" transform="rotate(70 177.5 415.6)" fill="#c0405c"/><ellipse cx="180.9" cy="415.9" rx="1.5" ry="1.3" transform="rotate(61 180.9 415.9)" fill="#c0405c"/><ellipse cx="182.9" cy="415.2" rx="1.4" ry="1.4" transform="rotate(166 182.9 415.2)" fill="#a82a48"/><ellipse cx="187.3" cy="415.1" rx="1.8" ry="1.3" transform="rotate(156 187.3 415.1)" fill="#a82a48"/><ellipse cx="190.2" cy="415.8" rx="1.8" ry="1.2" transform="rotate(155 190.2 415.8)" fill="#b3334f"/><ellipse cx="193.6" cy="415.3" rx="1.6" ry="1.2" transform="rotate(20 193.6 415.3)" fill="#a82a48"/><ellipse cx="195.4" cy="415.5" rx="1.5" ry="1.4" transform="rotate(55 195.4 415.5)" fill="#b3334f"/><ellipse cx="162.9" cy="418.8" rx="1.7" ry="1.2" transform="rotate(114 162.9 418.8)" fill="#c0405c"/><ellipse cx="166.2" cy="418.9" rx="1.4" ry="1.3" transform="rotate(28 166.2 418.9)" fill="#a82a48"/><ellipse cx="168.9" cy="418.7" rx="1.6" ry="1.1" transform="rotate(145 168.9 418.7)" fill="#b3334f"/><ellipse cx="172.0" cy="418.9" rx="1.5" ry="1.3" transform="rotate(147 172.0 418.9)" fill="#c0405c"/><ellipse cx="175.9" cy="418.2" rx="1.5" ry="1.3" transform="rotate(68 175.9 418.2)" fill="#a82a48"/><ellipse cx="178.5" cy="419.0" rx="1.6" ry="1.0" transform="rotate(28 178.5 419.0)" fill="#a82a48"/><ellipse cx="181.7" cy="419.0" rx="1.6" ry="1.3" transform="rotate(14 181.7 419.0)" fill="#a82a48"/><ellipse cx="185.8" cy="418.3" rx="2.0" ry="1.0" transform="rotate(122 185.8 418.3)" fill="#c0405c"/><ellipse cx="187.6" cy="418.4" rx="1.8" ry="1.3" transform="rotate(116 187.6 418.4)" fill="#b3334f"/><ellipse cx="191.1" cy="418.1" rx="1.6" ry="1.1" transform="rotate(49 191.1 418.1)" fill="#b3334f"/><ellipse cx="194.9" cy="418.5" rx="1.7" ry="1.1" transform="rotate(180 194.9 418.5)" fill="#c0405c"/><ellipse cx="197.2" cy="418.2" rx="1.7" ry="1.3" transform="rotate(75 197.2 418.2)" fill="#c0405c"/><ellipse cx="162.0" cy="420.9" rx="1.8" ry="1.2" transform="rotate(4 162.0 420.9)" fill="#b3334f"/><ellipse cx="164.4" cy="421.4" rx="1.9" ry="1.3" transform="rotate(161 164.4 421.4)" fill="#c0405c"/><ellipse cx="167.4" cy="421.3" rx="1.5" ry="1.3" transform="rotate(90 167.4 421.3)" fill="#a82a48"/><ellipse cx="170.3" cy="421.8" rx="1.8" ry="1.2" transform="rotate(7 170.3 421.8)" fill="#c0405c"/><ellipse cx="174.0" cy="421.0" rx="1.5" ry="1.1" transform="rotate(120 174.0 421.0)" fill="#a82a48"/><ellipse cx="178.0" cy="422.0" rx="1.9" ry="1.2" transform="rotate(32 178.0 422.0)" fill="#b3334f"/><ellipse cx="180.4" cy="421.2" rx="1.6" ry="1.1" transform="rotate(168 180.4 421.2)" fill="#b3334f"/><ellipse cx="184.3" cy="421.1" rx="1.6" ry="1.3" transform="rotate(132 184.3 421.1)" fill="#a82a48"/><ellipse cx="187.1" cy="421.8" rx="1.5" ry="1.4" transform="rotate(111 187.1 421.8)" fill="#b3334f"/><ellipse cx="189.3" cy="421.0" rx="1.8" ry="1.2" transform="rotate(7 189.3 421.0)" fill="#b3334f"/><ellipse cx="193.5" cy="422.1" rx="1.5" ry="1.3" transform="rotate(52 193.5 422.1)" fill="#c0405c"/><ellipse cx="196.2" cy="421.0" rx="1.6" ry="1.2" transform="rotate(118 196.2 421.0)" fill="#a82a48"/><ellipse cx="163.4" cy="425.0" rx="1.4" ry="1.1" transform="rotate(90 163.4 425.0)" fill="#a82a48"/><ellipse cx="166.8" cy="424.0" rx="1.9" ry="1.4" transform="rotate(112 166.8 424.0)" fill="#a82a48"/><ellipse cx="169.4" cy="425.0" rx="1.8" ry="1.4" transform="rotate(17 169.4 425.0)" fill="#c0405c"/><ellipse cx="172.8" cy="424.0" rx="1.7" ry="1.2" transform="rotate(172 172.8 424.0)" fill="#c0405c"/><ellipse cx="176.4" cy="424.8" rx="1.7" ry="1.4" transform="rotate(155 176.4 424.8)" fill="#b3334f"/><ellipse cx="178.1" cy="424.5" rx="1.6" ry="1.3" transform="rotate(58 178.1 424.5)" fill="#b3334f"/><ellipse cx="181.7" cy="424.8" rx="1.9" ry="1.3" transform="rotate(165 181.7 424.8)" fill="#b3334f"/><ellipse cx="184.6" cy="425.0" rx="1.5" ry="1.0" transform="rotate(119 184.6 425.0)" fill="#b3334f"/><ellipse cx="188.0" cy="425.0" rx="2.0" ry="1.3" transform="rotate(11 188.0 425.0)" fill="#c0405c"/><ellipse cx="191.6" cy="425.0" rx="1.6" ry="1.1" transform="rotate(4 191.6 425.0)" fill="#a82a48"/><ellipse cx="194.9" cy="424.0" rx="2.0" ry="1.3" transform="rotate(47 194.9 424.0)" fill="#b3334f"/><ellipse cx="198.1" cy="424.1" rx="1.7" ry="1.0" transform="rotate(97 198.1 424.1)" fill="#b3334f"/><ellipse cx="160.8" cy="426.9" rx="1.8" ry="1.0" transform="rotate(143 160.8 426.9)" fill="#c0405c"/><ellipse cx="164.8" cy="427.9" rx="1.7" ry="1.3" transform="rotate(169 164.8 427.9)" fill="#c0405c"/><ellipse cx="168.0" cy="427.4" rx="1.8" ry="1.2" transform="rotate(53 168.0 427.4)" fill="#b3334f"/><ellipse cx="170.4" cy="427.5" rx="1.9" ry="1.1" transform="rotate(166 170.4 427.5)" fill="#c0405c"/><ellipse cx="173.6" cy="427.4" rx="1.5" ry="1.4" transform="rotate(139 173.6 427.4)" fill="#c0405c"/><ellipse cx="177.0" cy="427.0" rx="1.8" ry="1.3" transform="rotate(25 177.0 427.0)" fill="#b3334f"/><ellipse cx="180.2" cy="427.3" rx="1.9" ry="1.1" transform="rotate(155 180.2 427.3)" fill="#c0405c"/><ellipse cx="184.3" cy="427.8" rx="1.4" ry="1.0" transform="rotate(29 184.3 427.8)" fill="#c0405c"/><ellipse cx="187.0" cy="427.6" rx="1.7" ry="1.2" transform="rotate(104 187.0 427.6)" fill="#c0405c"/><ellipse cx="190.0" cy="427.2" rx="1.9" ry="1.3" transform="rotate(20 190.0 427.2)" fill="#b3334f"/><ellipse cx="193.5" cy="427.8" rx="1.4" ry="1.3" transform="rotate(110 193.5 427.8)" fill="#b3334f"/><ellipse cx="195.6" cy="428.0" rx="1.7" ry="1.3" transform="rotate(64 195.6 428.0)" fill="#a82a48"/><ellipse cx="163.6" cy="429.9" rx="1.6" ry="1.1" transform="rotate(41 163.6 429.9)" fill="#c0405c"/><ellipse cx="166.4" cy="430.5" rx="1.8" ry="1.3" transform="rotate(83 166.4 430.5)" fill="#a82a48"/><ellipse cx="169.8" cy="429.9" rx="1.7" ry="1.1" transform="rotate(139 169.8 429.9)" fill="#a82a48"/><ellipse cx="173.1" cy="430.3" rx="1.9" ry="1.3" transform="rotate(87 173.1 430.3)" fill="#b3334f"/><ellipse cx="175.7" cy="430.0" rx="1.9" ry="1.1" transform="rotate(160 175.7 430.0)" fill="#a82a48"/><ellipse cx="178.5" cy="430.5" rx="2.0" ry="1.1" transform="rotate(135 178.5 430.5)" fill="#b3334f"/><ellipse cx="182.1" cy="430.5" rx="2.0" ry="1.2" transform="rotate(132 182.1 430.5)" fill="#c0405c"/><ellipse cx="185.5" cy="430.7" rx="1.8" ry="1.1" transform="rotate(3 185.5 430.7)" fill="#c0405c"/><ellipse cx="187.8" cy="430.8" rx="2.0" ry="1.1" transform="rotate(112 187.8 430.8)" fill="#c0405c"/><ellipse cx="191.6" cy="430.7" rx="1.8" ry="1.3" transform="rotate(63 191.6 430.7)" fill="#a82a48"/><ellipse cx="194.1" cy="429.9" rx="1.8" ry="1.1" transform="rotate(66 194.1 429.9)" fill="#c0405c"/><ellipse cx="198.4" cy="430.7" rx="1.8" ry="1.3" transform="rotate(153 198.4 430.7)" fill="#b3334f"/><ellipse cx="161.8" cy="433.3" rx="1.4" ry="1.0" transform="rotate(3 161.8 433.3)" fill="#b3334f"/><ellipse cx="164.4" cy="433.1" rx="1.5" ry="1.2" transform="rotate(130 164.4 433.1)" fill="#c0405c"/><ellipse cx="168.4" cy="434.0" rx="1.7" ry="1.4" transform="rotate(65 168.4 434.0)" fill="#a82a48"/><ellipse cx="170.8" cy="433.7" rx="1.5" ry="1.4" transform="rotate(24 170.8 433.7)" fill="#a82a48"/><ellipse cx="173.8" cy="433.9" rx="1.4" ry="1.3" transform="rotate(57 173.8 433.9)" fill="#b3334f"/><ellipse cx="177.8" cy="433.9" rx="1.8" ry="1.1" transform="rotate(2 177.8 433.9)" fill="#b3334f"/><ellipse cx="179.7" cy="433.0" rx="1.9" ry="1.3" transform="rotate(79 179.7 433.0)" fill="#c0405c"/><ellipse cx="183.2" cy="433.0" rx="1.7" ry="1.3" transform="rotate(14 183.2 433.0)" fill="#a82a48"/><ellipse cx="186.3" cy="433.0" rx="1.8" ry="1.0" transform="rotate(75 186.3 433.0)" fill="#b3334f"/><ellipse cx="189.5" cy="434.0" rx="2.0" ry="1.1" transform="rotate(138 189.5 434.0)" fill="#c0405c"/><ellipse cx="192.5" cy="433.3" rx="1.8" ry="1.1" transform="rotate(42 192.5 433.3)" fill="#c0405c"/><ellipse cx="196.4" cy="433.9" rx="1.9" ry="1.1" transform="rotate(97 196.4 433.9)" fill="#b3334f"/><ellipse cx="162.6" cy="436.1" rx="1.5" ry="1.2" transform="rotate(93 162.6 436.1)" fill="#b3334f"/><ellipse cx="166.4" cy="436.5" rx="1.9" ry="1.0" transform="rotate(169 166.4 436.5)" fill="#a82a48"/><ellipse cx="169.8" cy="436.2" rx="1.4" ry="1.2" transform="rotate(29 169.8 436.2)" fill="#b3334f"/><ellipse cx="172.4" cy="436.8" rx="1.5" ry="1.0" transform="rotate(122 172.4 436.8)" fill="#b3334f"/><ellipse cx="176.3" cy="436.4" rx="1.4" ry="1.1" transform="rotate(68 176.3 436.4)" fill="#a82a48"/><ellipse cx="178.7" cy="436.2" rx="1.6" ry="1.0" transform="rotate(130 178.7 436.2)" fill="#b3334f"/><ellipse cx="181.9" cy="436.2" rx="1.8" ry="1.4" transform="rotate(96 181.9 436.2)" fill="#b3334f"/><ellipse cx="184.3" cy="436.4" rx="1.4" ry="1.2" transform="rotate(130 184.3 436.4)" fill="#a82a48"/><ellipse cx="187.7" cy="436.0" rx="1.6" ry="1.4" transform="rotate(117 187.7 436.0)" fill="#c0405c"/><ellipse cx="190.8" cy="436.9" rx="1.8" ry="1.0" transform="rotate(71 190.8 436.9)" fill="#c0405c"/><ellipse cx="195.0" cy="436.0" rx="1.8" ry="1.2" transform="rotate(65 195.0 436.0)" fill="#b3334f"/><ellipse cx="197.7" cy="436.7" rx="1.9" ry="1.4" transform="rotate(164 197.7 436.7)" fill="#a82a48"/><ellipse cx="161.8" cy="438.9" rx="1.8" ry="1.3" transform="rotate(170 161.8 438.9)" fill="#c0405c"/><ellipse cx="164.1" cy="439.3" rx="1.6" ry="1.4" transform="rotate(82 164.1 439.3)" fill="#c0405c"/><ellipse cx="167.1" cy="439.9" rx="1.8" ry="1.3" transform="rotate(179 167.1 439.9)" fill="#b3334f"/><ellipse cx="170.2" cy="439.5" rx="1.8" ry="1.2" transform="rotate(9 170.2 439.5)" fill="#a82a48"/><ellipse cx="174.0" cy="439.1" rx="1.5" ry="1.3" transform="rotate(149 174.0 439.1)" fill="#b3334f"/><ellipse cx="178.0" cy="439.4" rx="1.8" ry="1.0" transform="rotate(123 178.0 439.4)" fill="#b3334f"/><ellipse cx="179.7" cy="439.3" rx="1.9" ry="1.3" transform="rotate(172 179.7 439.3)" fill="#b3334f"/><ellipse cx="183.7" cy="439.2" rx="1.9" ry="1.1" transform="rotate(116 183.7 439.2)" fill="#a82a48"/><ellipse cx="186.3" cy="440.1" rx="1.6" ry="1.2" transform="rotate(87 186.3 440.1)" fill="#a82a48"/><ellipse cx="190.1" cy="438.9" rx="1.6" ry="1.1" transform="rotate(0 190.1 438.9)" fill="#b3334f"/><ellipse cx="193.2" cy="439.2" rx="1.7" ry="1.2" transform="rotate(98 193.2 439.2)" fill="#b3334f"/><ellipse cx="195.8" cy="439.6" rx="1.6" ry="1.2" transform="rotate(35 195.8 439.6)" fill="#c0405c"/><ellipse cx="162.4" cy="442.3" rx="1.9" ry="1.1" transform="rotate(108 162.4 442.3)" fill="#b3334f"/><ellipse cx="165.5" cy="442.9" rx="1.9" ry="1.1" transform="rotate(145 165.5 442.9)" fill="#c0405c"/><ellipse cx="168.9" cy="442.1" rx="1.8" ry="1.4" transform="rotate(104 168.9 442.1)" fill="#b3334f"/><ellipse cx="171.7" cy="443.0" rx="1.5" ry="1.0" transform="rotate(74 171.7 443.0)" fill="#b3334f"/><ellipse cx="175.3" cy="443.1" rx="1.9" ry="1.2" transform="rotate(135 175.3 443.1)" fill="#a82a48"/><ellipse cx="179.3" cy="442.9" rx="1.8" ry="1.2" transform="rotate(29 179.3 442.9)" fill="#a82a48"/><ellipse cx="181.5" cy="442.7" rx="1.8" ry="1.3" transform="rotate(133 181.5 442.7)" fill="#c0405c"/><ellipse cx="184.6" cy="442.0" rx="1.9" ry="1.2" transform="rotate(46 184.6 442.0)" fill="#c0405c"/><ellipse cx="188.9" cy="442.7" rx="1.6" ry="1.4" transform="rotate(65 188.9 442.7)" fill="#c0405c"/><ellipse cx="191.9" cy="442.7" rx="1.4" ry="1.3" transform="rotate(54 191.9 442.7)" fill="#c0405c"/><ellipse cx="194.2" cy="443.0" rx="1.7" ry="1.1" transform="rotate(165 194.2 443.0)" fill="#b3334f"/><ellipse cx="197.6" cy="442.3" rx="2.0" ry="1.4" transform="rotate(22 197.6 442.3)" fill="#b3334f"/><ellipse cx="161.6" cy="445.4" rx="1.5" ry="1.3" transform="rotate(94 161.6 445.4)" fill="#c0405c"/><ellipse cx="165.0" cy="445.4" rx="1.7" ry="1.1" transform="rotate(56 165.0 445.4)" fill="#c0405c"/><ellipse cx="167.3" cy="445.2" rx="1.4" ry="1.1" transform="rotate(103 167.3 445.2)" fill="#c0405c"/><ellipse cx="170.8" cy="445.0" rx="1.7" ry="1.4" transform="rotate(147 170.8 445.0)" fill="#c0405c"/><ellipse cx="173.9" cy="445.7" rx="1.7" ry="1.1" transform="rotate(123 173.9 445.7)" fill="#c0405c"/><ellipse cx="176.5" cy="445.7" rx="1.5" ry="1.1" transform="rotate(161 176.5 445.7)" fill="#a82a48"/><ellipse cx="180.9" cy="445.7" rx="1.8" ry="1.3" transform="rotate(50 180.9 445.7)" fill="#a82a48"/><ellipse cx="184.0" cy="445.3" rx="1.6" ry="1.3" transform="rotate(153 184.0 445.3)" fill="#a82a48"/><ellipse cx="187.3" cy="446.0" rx="1.8" ry="1.1" transform="rotate(3 187.3 446.0)" fill="#c0405c"/><ellipse cx="189.9" cy="445.8" rx="1.6" ry="1.0" transform="rotate(1 189.9 445.8)" fill="#b3334f"/><ellipse cx="192.3" cy="445.2" rx="1.5" ry="1.1" transform="rotate(60 192.3 445.2)" fill="#b3334f"/><ellipse cx="195.4" cy="445.0" rx="1.5" ry="1.1" transform="rotate(120 195.4 445.0)" fill="#a82a48"/><rect x="160" y="444.5" width="39" height="3" fill="#f0b4c0" fill-opacity="0.8"/></g>
<polygon transform="translate(204.9,431.0) rotate(0.00)" points="0.0,-3.6 18.7,-3.6 18.7,-6.4 29.4,0.0 18.7,6.4 18.7,3.6 0.0,3.6" fill="url(#ag)"/>
<rect x="249.3" y="414.9" width="2.4" height="31.8" fill="#f4e96a"/><rect x="257.3" y="414.9" width="2.4" height="31.8" fill="#f4e96a"/><rect x="265.3" y="414.9" width="2.4" height="31.8" fill="#f4e96a"/><rect x="273.3" y="414.9" width="2.4" height="31.8" fill="#f4e96a"/><circle cx="247.8" cy="416.0" r="1.1" fill="#4a62c8"/><circle cx="247.8" cy="419.3" r="1.1" fill="#4aa04a"/><circle cx="247.8" cy="422.6" r="1.1" fill="#4a62c8"/><circle cx="247.8" cy="425.9" r="1.1" fill="#4aa04a"/><circle cx="247.8" cy="429.2" r="1.1" fill="#4a62c8"/><circle cx="247.8" cy="432.5" r="1.1" fill="#4aa04a"/><circle cx="247.8" cy="435.8" r="1.1" fill="#4a62c8"/><circle cx="247.8" cy="439.1" r="1.1" fill="#4aa04a"/><circle cx="247.8" cy="442.4" r="1.1" fill="#4a62c8"/><circle cx="247.8" cy="445.7" r="1.1" fill="#4aa04a"/><circle cx="250.5" cy="416.0" r="1.1" fill="#e03a3a"/><circle cx="250.5" cy="419.3" r="1.1" fill="#f0d040"/><circle cx="250.5" cy="422.6" r="1.1" fill="#e03a3a"/><circle cx="250.5" cy="425.9" r="1.1" fill="#f0d040"/><circle cx="250.5" cy="429.2" r="1.1" fill="#e03a3a"/><circle cx="250.5" cy="432.5" r="1.1" fill="#f0d040"/><circle cx="250.5" cy="435.8" r="1.1" fill="#e03a3a"/><circle cx="250.5" cy="439.1" r="1.1" fill="#f0d040"/><circle cx="250.5" cy="442.4" r="1.1" fill="#e03a3a"/><circle cx="250.5" cy="445.7" r="1.1" fill="#f0d040"/><circle cx="253.1" cy="416.0" r="1.1" fill="#4aa04a"/><circle cx="253.1" cy="419.3" r="1.1" fill="#6a4ab0"/><circle cx="253.1" cy="422.6" r="1.1" fill="#4aa04a"/><circle cx="253.1" cy="425.9" r="1.1" fill="#6a4ab0"/><circle cx="253.1" cy="429.2" r="1.1" fill="#4aa04a"/><circle cx="253.1" cy="432.5" r="1.1" fill="#6a4ab0"/><circle cx="253.1" cy="435.8" r="1.1" fill="#4aa04a"/><circle cx="253.1" cy="439.1" r="1.1" fill="#6a4ab0"/><circle cx="253.1" cy="442.4" r="1.1" fill="#4aa04a"/><circle cx="253.1" cy="445.7" r="1.1" fill="#6a4ab0"/><circle cx="255.8" cy="416.0" r="1.1" fill="#4a62c8"/><circle cx="255.8" cy="419.3" r="1.1" fill="#4aa04a"/><circle cx="255.8" cy="422.6" r="1.1" fill="#4a62c8"/><circle cx="255.8" cy="425.9" r="1.1" fill="#4aa04a"/><circle cx="255.8" cy="429.2" r="1.1" fill="#4a62c8"/><circle cx="255.8" cy="432.5" r="1.1" fill="#4aa04a"/><circle cx="255.8" cy="435.8" r="1.1" fill="#4a62c8"/><circle cx="255.8" cy="439.1" r="1.1" fill="#4aa04a"/><circle cx="255.8" cy="442.4" r="1.1" fill="#4a62c8"/><circle cx="255.8" cy="445.7" r="1.1" fill="#4aa04a"/><circle cx="258.5" cy="416.0" r="1.1" fill="#e03a3a"/><circle cx="258.5" cy="419.3" r="1.1" fill="#f0d040"/><circle cx="258.5" cy="422.6" r="1.1" fill="#e03a3a"/><circle cx="258.5" cy="425.9" r="1.1" fill="#f0d040"/><circle cx="258.5" cy="429.2" r="1.1" fill="#e03a3a"/><circle cx="258.5" cy="432.5" r="1.1" fill="#f0d040"/><circle cx="258.5" cy="435.8" r="1.1" fill="#e03a3a"/><circle cx="258.5" cy="439.1" r="1.1" fill="#f0d040"/><circle cx="258.5" cy="442.4" r="1.1" fill="#e03a3a"/><circle cx="258.5" cy="445.7" r="1.1" fill="#f0d040"/><circle cx="261.2" cy="416.0" r="1.1" fill="#4aa04a"/><circle cx="261.2" cy="419.3" r="1.1" fill="#6a4ab0"/><circle cx="261.2" cy="422.6" r="1.1" fill="#4aa04a"/><circle cx="261.2" cy="425.9" r="1.1" fill="#6a4ab0"/><circle cx="261.2" cy="429.2" r="1.1" fill="#4aa04a"/><circle cx="261.2" cy="432.5" r="1.1" fill="#6a4ab0"/><circle cx="261.2" cy="435.8" r="1.1" fill="#4aa04a"/><circle cx="261.2" cy="439.1" r="1.1" fill="#6a4ab0"/><circle cx="261.2" cy="442.4" r="1.1" fill="#4aa04a"/><circle cx="261.2" cy="445.7" r="1.1" fill="#6a4ab0"/><circle cx="263.8" cy="416.0" r="1.1" fill="#4a62c8"/><circle cx="263.8" cy="419.3" r="1.1" fill="#4aa04a"/><circle cx="263.8" cy="422.6" r="1.1" fill="#4a62c8"/><circle cx="263.8" cy="425.9" r="1.1" fill="#4aa04a"/><circle cx="263.8" cy="429.2" r="1.1" fill="#4a62c8"/><circle cx="263.8" cy="432.5" r="1.1" fill="#4aa04a"/><circle cx="263.8" cy="435.8" r="1.1" fill="#4a62c8"/><circle cx="263.8" cy="439.1" r="1.1" fill="#4aa04a"/><circle cx="263.8" cy="442.4" r="1.1" fill="#4a62c8"/><circle cx="263.8" cy="445.7" r="1.1" fill="#4aa04a"/><circle cx="266.5" cy="416.0" r="1.1" fill="#e03a3a"/><circle cx="266.5" cy="419.3" r="1.1" fill="#f0d040"/><circle cx="266.5" cy="422.6" r="1.1" fill="#e03a3a"/><circle cx="266.5" cy="425.9" r="1.1" fill="#f0d040"/><circle cx="266.5" cy="429.2" r="1.1" fill="#e03a3a"/><circle cx="266.5" cy="432.5" r="1.1" fill="#f0d040"/><circle cx="266.5" cy="435.8" r="1.1" fill="#e03a3a"/><circle cx="266.5" cy="439.1" r="1.1" fill="#f0d040"/><circle cx="266.5" cy="442.4" r="1.1" fill="#e03a3a"/><circle cx="266.5" cy="445.7" r="1.1" fill="#f0d040"/><circle cx="269.2" cy="416.0" r="1.1" fill="#4aa04a"/><circle cx="269.2" cy="419.3" r="1.1" fill="#6a4ab0"/><circle cx="269.2" cy="422.6" r="1.1" fill="#4aa04a"/><circle cx="269.2" cy="425.9" r="1.1" fill="#6a4ab0"/><circle cx="269.2" cy="429.2" r="1.1" fill="#4aa04a"/><circle cx="269.2" cy="432.5" r="1.1" fill="#6a4ab0"/><circle cx="269.2" cy="435.8" r="1.1" fill="#4aa04a"/><circle cx="269.2" cy="439.1" r="1.1" fill="#6a4ab0"/><circle cx="269.2" cy="442.4" r="1.1" fill="#4aa04a"/><circle cx="269.2" cy="445.7" r="1.1" fill="#6a4ab0"/><circle cx="271.8" cy="416.0" r="1.1" fill="#4a62c8"/><circle cx="271.8" cy="419.3" r="1.1" fill="#4aa04a"/><circle cx="271.8" cy="422.6" r="1.1" fill="#4a62c8"/><circle cx="271.8" cy="425.9" r="1.1" fill="#4aa04a"/><circle cx="271.8" cy="429.2" r="1.1" fill="#4a62c8"/><circle cx="271.8" cy="432.5" r="1.1" fill="#4aa04a"/><circle cx="271.8" cy="435.8" r="1.1" fill="#4a62c8"/><circle cx="271.8" cy="439.1" r="1.1" fill="#4aa04a"/><circle cx="271.8" cy="442.4" r="1.1" fill="#4a62c8"/><circle cx="271.8" cy="445.7" r="1.1" fill="#4aa04a"/><circle cx="274.5" cy="416.0" r="1.1" fill="#e03a3a"/><circle cx="274.5" cy="419.3" r="1.1" fill="#f0d040"/><circle cx="274.5" cy="422.6" r="1.1" fill="#e03a3a"/><circle cx="274.5" cy="425.9" r="1.1" fill="#f0d040"/><circle cx="274.5" cy="429.2" r="1.1" fill="#e03a3a"/><circle cx="274.5" cy="432.5" r="1.1" fill="#f0d040"/><circle cx="274.5" cy="435.8" r="1.1" fill="#e03a3a"/><circle cx="274.5" cy="439.1" r="1.1" fill="#f0d040"/><circle cx="274.5" cy="442.4" r="1.1" fill="#e03a3a"/><circle cx="274.5" cy="445.7" r="1.1" fill="#f0d040"/><circle cx="277.2" cy="416.0" r="1.1" fill="#4aa04a"/><circle cx="277.2" cy="419.3" r="1.1" fill="#6a4ab0"/><circle cx="277.2" cy="422.6" r="1.1" fill="#4aa04a"/><circle cx="277.2" cy="425.9" r="1.1" fill="#6a4ab0"/><circle cx="277.2" cy="429.2" r="1.1" fill="#4aa04a"/><circle cx="277.2" cy="432.5" r="1.1" fill="#6a4ab0"/><circle cx="277.2" cy="435.8" r="1.1" fill="#4aa04a"/><circle cx="277.2" cy="439.1" r="1.1" fill="#6a4ab0"/><circle cx="277.2" cy="442.4" r="1.1" fill="#4aa04a"/><circle cx="277.2" cy="445.7" r="1.1" fill="#6a4ab0"/><circle cx="279.8" cy="416.0" r="1.1" fill="#4a62c8"/><circle cx="279.8" cy="419.3" r="1.1" fill="#4aa04a"/><circle cx="279.8" cy="422.6" r="1.1" fill="#4a62c8"/><circle cx="279.8" cy="425.9" r="1.1" fill="#4aa04a"/><circle cx="279.8" cy="429.2" r="1.1" fill="#4a62c8"/><circle cx="279.8" cy="432.5" r="1.1" fill="#4aa04a"/><circle cx="279.8" cy="435.8" r="1.1" fill="#4a62c8"/><circle cx="279.8" cy="439.1" r="1.1" fill="#4aa04a"/><circle cx="279.8" cy="442.4" r="1.1" fill="#4a62c8"/><circle cx="279.8" cy="445.7" r="1.1" fill="#4aa04a"/>
<polygon transform="translate(296.5,427.0) rotate(-43.47)" points="0.0,-3.5 21.7,-3.5 21.7,-6.5 31.7,0.0 21.7,6.5 21.7,3.5 0.0,3.5" fill="url(#ag)"/>
<ellipse cx="433.7" cy="335.3" rx="25.3" ry="19.8" fill="#c6e2b4" stroke="#9ccb88" stroke-width="0.6"/>
<ellipse cx="471.6" cy="335" rx="25.4" ry="20" fill="#f1c2c6" fill-opacity="0.85" stroke="#e4a0a8" stroke-width="0.6"/>
<path d="M452.2,322 A25.3,19.8 0 0 1 452.2,348.4 A25.4,20 0 0 1 452.2,322 Z" fill="#dcb49c"/>
<circle cx="422.2" cy="392.7" r="0.55" fill="#6f9ddc"/><circle cx="427.4" cy="399.9" r="0.55" fill="#6f9ddc"/><circle cx="441.1" cy="392.4" r="0.55" fill="#6f9ddc"/><circle cx="442.3" cy="391.1" r="0.55" fill="#6f9ddc"/><circle cx="426.7" cy="387.5" r="0.55" fill="#6f9ddc"/><circle cx="428.2" cy="395.4" r="0.55" fill="#6f9ddc"/><circle cx="423.8" cy="397.3" r="0.55" fill="#6f9ddc"/><circle cx="438.2" cy="401.6" r="0.55" fill="#6f9ddc"/><circle cx="430.4" cy="391.7" r="0.55" fill="#6f9ddc"/><circle cx="420.9" cy="392.0" r="0.55" fill="#6f9ddc"/><circle cx="422.2" cy="394.9" r="0.55" fill="#6f9ddc"/><circle cx="439.2" cy="394.5" r="0.55" fill="#6f9ddc"/><circle cx="431.6" cy="394.2" r="0.55" fill="#6f9ddc"/><circle cx="431.2" cy="400.0" r="0.55" fill="#6f9ddc"/><circle cx="432.3" cy="395.8" r="0.55" fill="#6f9ddc"/><circle cx="428.3" cy="387.3" r="0.55" fill="#6f9ddc"/><circle cx="432.6" cy="390.1" r="0.55" fill="#6f9ddc"/><circle cx="437.4" cy="394.6" r="0.55" fill="#6f9ddc"/><circle cx="425.0" cy="389.6" r="0.55" fill="#6f9ddc"/><circle cx="422.0" cy="394.7" r="0.55" fill="#6f9ddc"/><circle cx="428.5" cy="399.1" r="0.55" fill="#6f9ddc"/><circle cx="436.5" cy="399.1" r="0.55" fill="#6f9ddc"/><circle cx="439.4" cy="393.5" r="0.55" fill="#6f9ddc"/><circle cx="432.8" cy="391.9" r="0.55" fill="#6f9ddc"/><circle cx="438.7" cy="392.0" r="0.55" fill="#6f9ddc"/><circle cx="427.4" cy="392.2" r="0.55" fill="#6f9ddc"/><circle cx="426.1" cy="389.5" r="0.55" fill="#6f9ddc"/><circle cx="435.3" cy="390.8" r="0.55" fill="#6f9ddc"/><circle cx="421.2" cy="392.1" r="0.55" fill="#6f9ddc"/><circle cx="438.9" cy="399.4" r="0.55" fill="#6f9ddc"/><circle cx="440.9" cy="398.8" r="0.55" fill="#6f9ddc"/><circle cx="431.7" cy="392.0" r="0.55" fill="#6f9ddc"/><circle cx="435.2" cy="394.3" r="0.55" fill="#6f9ddc"/><circle cx="432.6" cy="394.5" r="0.55" fill="#6f9ddc"/><circle cx="440.5" cy="403.4" r="0.55" fill="#6f9ddc"/><circle cx="430.3" cy="399.1" r="0.55" fill="#6f9ddc"/><circle cx="433.1" cy="400.5" r="0.55" fill="#6f9ddc"/><circle cx="437.5" cy="392.0" r="0.55" fill="#6f9ddc"/><circle cx="442.7" cy="396.4" r="0.55" fill="#6f9ddc"/><circle cx="440.5" cy="398.3" r="0.55" fill="#6f9ddc"/><circle cx="428.5" cy="395.8" r="0.55" fill="#6f9ddc"/><circle cx="423.9" cy="399.0" r="0.55" fill="#6f9ddc"/><circle cx="437.3" cy="399.7" r="0.55" fill="#6f9ddc"/><circle cx="436.3" cy="395.9" r="0.55" fill="#6f9ddc"/><circle cx="437.0" cy="392.1" r="0.55" fill="#6f9ddc"/><circle cx="439.7" cy="397.3" r="0.55" fill="#6f9ddc"/><circle cx="430.0" cy="390.7" r="0.55" fill="#6f9ddc"/><circle cx="429.6" cy="401.0" r="0.55" fill="#6f9ddc"/><circle cx="437.1" cy="392.9" r="0.55" fill="#6f9ddc"/><circle cx="441.4" cy="394.6" r="0.55" fill="#6f9ddc"/><circle cx="433.5" cy="388.0" r="0.55" fill="#6f9ddc"/><circle cx="437.4" cy="393.3" r="0.55" fill="#6f9ddc"/><circle cx="425.8" cy="389.7" r="0.55" fill="#6f9ddc"/><circle cx="439.6" cy="400.1" r="0.55" fill="#6f9ddc"/><circle cx="429.7" cy="390.0" r="0.55" fill="#6f9ddc"/><circle cx="439.0" cy="399.9" r="0.55" fill="#6f9ddc"/><circle cx="442.0" cy="395.2" r="0.55" fill="#6f9ddc"/><circle cx="440.9" cy="395.6" r="0.55" fill="#6f9ddc"/><circle cx="435.0" cy="392.0" r="0.55" fill="#6f9ddc"/><circle cx="437.6" cy="401.7" r="0.55" fill="#6f9ddc"/><circle cx="436.5" cy="398.3" r="0.55" fill="#6f9ddc"/><circle cx="425.9" cy="392.6" r="0.55" fill="#6f9ddc"/><circle cx="439.0" cy="390.9" r="0.55" fill="#6f9ddc"/><circle cx="442.8" cy="391.8" r="0.55" fill="#6f9ddc"/><circle cx="435.0" cy="393.5" r="0.55" fill="#6f9ddc"/><circle cx="438.3" cy="400.3" r="0.55" fill="#6f9ddc"/><circle cx="439.7" cy="398.0" r="0.55" fill="#6f9ddc"/><circle cx="424.5" cy="389.0" r="0.55" fill="#6f9ddc"/><circle cx="427.7" cy="395.5" r="0.55" fill="#6f9ddc"/><circle cx="428.2" cy="394.3" r="0.55" fill="#6f9ddc"/><circle cx="427.7" cy="390.7" r="0.55" fill="#6f9ddc"/><circle cx="437.3" cy="398.5" r="0.55" fill="#6f9ddc"/><circle cx="424.6" cy="392.1" r="0.55" fill="#6f9ddc"/><circle cx="438.7" cy="401.9" r="0.55" fill="#6f9ddc"/><circle cx="439.1" cy="401.6" r="0.55" fill="#6f9ddc"/><circle cx="431.6" cy="394.7" r="0.55" fill="#6f9ddc"/><circle cx="438.1" cy="401.5" r="0.55" fill="#6f9ddc"/><circle cx="437.6" cy="392.9" r="0.55" fill="#6f9ddc"/><circle cx="441.3" cy="402.7" r="0.55" fill="#6f9ddc"/><circle cx="421.1" cy="393.0" r="0.55" fill="#6f9ddc"/><circle cx="435.0" cy="395.4" r="0.55" fill="#6f9ddc"/><circle cx="435.5" cy="392.0" r="0.55" fill="#6f9ddc"/><circle cx="431.7" cy="393.2" r="0.55" fill="#6f9ddc"/><circle cx="434.1" cy="392.1" r="0.55" fill="#6f9ddc"/><circle cx="428.6" cy="401.6" r="0.55" fill="#6f9ddc"/><circle cx="437.9" cy="392.7" r="0.55" fill="#6f9ddc"/><circle cx="442.0" cy="397.2" r="0.55" fill="#6f9ddc"/><circle cx="422.1" cy="394.4" r="0.55" fill="#6f9ddc"/><circle cx="425.8" cy="390.1" r="0.55" fill="#6f9ddc"/><circle cx="435.9" cy="396.6" r="0.55" fill="#6f9ddc"/><circle cx="431.3" cy="396.7" r="0.55" fill="#6f9ddc"/><circle cx="427.3" cy="395.7" r="0.55" fill="#6f9ddc"/><circle cx="438.0" cy="388.1" r="0.55" fill="#6f9ddc"/><circle cx="439.2" cy="397.3" r="0.55" fill="#6f9ddc"/><circle cx="421.9" cy="393.0" r="0.55" fill="#6f9ddc"/><circle cx="442.6" cy="399.7" r="0.55" fill="#6f9ddc"/><circle cx="424.2" cy="397.9" r="0.55" fill="#6f9ddc"/><circle cx="422.3" cy="393.9" r="0.55" fill="#6f9ddc"/><circle cx="432.0" cy="400.0" r="0.55" fill="#6f9ddc"/><circle cx="434.7" cy="393.2" r="0.55" fill="#6f9ddc"/><circle cx="440.0" cy="402.7" r="0.55" fill="#6f9ddc"/><circle cx="423.2" cy="396.7" r="0.55" fill="#6f9ddc"/><circle cx="440.5" cy="399.3" r="0.55" fill="#6f9ddc"/><circle cx="437.2" cy="390.2" r="0.55" fill="#6f9ddc"/><circle cx="431.4" cy="389.1" r="0.55" fill="#6f9ddc"/><circle cx="425.5" cy="389.1" r="0.55" fill="#6f9ddc"/><circle cx="430.8" cy="386.9" r="0.55" fill="#6f9ddc"/><circle cx="423.7" cy="398.8" r="0.55" fill="#6f9ddc"/><circle cx="434.7" cy="390.6" r="0.55" fill="#6f9ddc"/><circle cx="425.6" cy="397.7" r="0.55" fill="#6f9ddc"/><circle cx="439.4" cy="402.7" r="0.55" fill="#6f9ddc"/><circle cx="433.2" cy="390.5" r="0.55" fill="#6f9ddc"/><circle cx="439.8" cy="390.5" r="0.55" fill="#6f9ddc"/><circle cx="423.1" cy="394.7" r="0.55" fill="#6f9ddc"/><circle cx="434.5" cy="390.2" r="0.55" fill="#6f9ddc"/><circle cx="440.1" cy="394.0" r="0.55" fill="#6f9ddc"/><circle cx="432.5" cy="395.2" r="0.55" fill="#6f9ddc"/><circle cx="440.9" cy="402.6" r="0.55" fill="#6f9ddc"/><circle cx="433.6" cy="393.9" r="0.55" fill="#6f9ddc"/><circle cx="428.0" cy="389.4" r="0.55" fill="#6f9ddc"/><circle cx="425.6" cy="396.2" r="0.55" fill="#6f9ddc"/><circle cx="430.1" cy="399.4" r="0.55" fill="#6f9ddc"/><circle cx="440.9" cy="392.8" r="0.55" fill="#6f9ddc"/><circle cx="430.7" cy="391.9" r="0.55" fill="#6f9ddc"/><circle cx="435.4" cy="394.4" r="0.55" fill="#6f9ddc"/><circle cx="423.8" cy="397.0" r="0.55" fill="#6f9ddc"/><circle cx="423.4" cy="391.7" r="0.55" fill="#6f9ddc"/><circle cx="438.6" cy="397.1" r="0.55" fill="#6f9ddc"/><circle cx="431.6" cy="391.3" r="0.55" fill="#6f9ddc"/><circle cx="432.7" cy="394.9" r="0.55" fill="#6f9ddc"/><circle cx="432.5" cy="395.4" r="0.55" fill="#6f9ddc"/><circle cx="426.0" cy="392.7" r="0.55" fill="#6f9ddc"/><circle cx="429.5" cy="387.6" r="0.55" fill="#6f9ddc"/><circle cx="428.4" cy="399.1" r="0.55" fill="#6f9ddc"/><circle cx="440.2" cy="398.0" r="0.55" fill="#6f9ddc"/><circle cx="433.4" cy="387.1" r="0.55" fill="#6f9ddc"/><circle cx="438.9" cy="395.0" r="0.55" fill="#6f9ddc"/><circle cx="432.5" cy="399.3" r="0.55" fill="#6f9ddc"/><circle cx="435.1" cy="389.1" r="0.55" fill="#6f9ddc"/><circle cx="435.8" cy="399.9" r="0.55" fill="#6f9ddc"/><circle cx="435.2" cy="398.6" r="0.55" fill="#6f9ddc"/><circle cx="429.9" cy="392.2" r="0.55" fill="#6f9ddc"/><circle cx="433.9" cy="390.3" r="0.55" fill="#6f9ddc"/><circle cx="439.3" cy="389.1" r="0.55" fill="#6f9ddc"/><circle cx="433.5" cy="398.1" r="0.55" fill="#6f9ddc"/><circle cx="427.2" cy="388.8" r="0.55" fill="#6f9ddc"/><circle cx="441.8" cy="404.1" r="0.55" fill="#6f9ddc"/><circle cx="430.9" cy="391.3" r="0.55" fill="#6f9ddc"/><circle cx="432.8" cy="386.7" r="0.55" fill="#6f9ddc"/><circle cx="423.2" cy="390.9" r="0.55" fill="#6f9ddc"/><circle cx="434.8" cy="396.6" r="0.55" fill="#6f9ddc"/><circle cx="439.5" cy="397.7" r="0.55" fill="#6f9ddc"/><circle cx="427.3" cy="395.3" r="0.55" fill="#6f9ddc"/><circle cx="442.6" cy="393.2" r="0.55" fill="#6f9ddc"/><circle cx="422.3" cy="390.1" r="0.55" fill="#6f9ddc"/><circle cx="437.8" cy="388.9" r="0.55" fill="#6f9ddc"/><circle cx="427.8" cy="390.3" r="0.55" fill="#6f9ddc"/><circle cx="430.8" cy="388.5" r="0.55" fill="#6f9ddc"/><circle cx="423.0" cy="388.9" r="0.55" fill="#6f9ddc"/><circle cx="438.7" cy="389.0" r="0.55" fill="#6f9ddc"/><circle cx="432.2" cy="399.6" r="0.55" fill="#6f9ddc"/><circle cx="430.4" cy="397.8" r="0.55" fill="#6f9ddc"/><circle cx="437.2" cy="389.6" r="0.55" fill="#6f9ddc"/><circle cx="423.5" cy="391.8" r="0.55" fill="#6f9ddc"/><circle cx="422.5" cy="389.2" r="0.55" fill="#6f9ddc"/><circle cx="421.4" cy="392.3" r="0.55" fill="#6f9ddc"/><circle cx="436.8" cy="389.4" r="0.55" fill="#6f9ddc"/><circle cx="431.4" cy="388.2" r="0.55" fill="#6f9ddc"/><circle cx="425.1" cy="392.8" r="0.55" fill="#6f9ddc"/><circle cx="428.1" cy="393.7" r="0.55" fill="#6f9ddc"/><circle cx="431.0" cy="395.1" r="0.55" fill="#6f9ddc"/><circle cx="441.5" cy="400.7" r="0.55" fill="#6f9ddc"/><circle cx="435.2" cy="398.2" r="0.55" fill="#6f9ddc"/><circle cx="431.0" cy="397.6" r="0.55" fill="#6f9ddc"/><circle cx="441.8" cy="400.6" r="0.55" fill="#6f9ddc"/><circle cx="420.8" cy="394.3" r="0.55" fill="#6f9ddc"/><circle cx="436.0" cy="395.6" r="0.55" fill="#6f9ddc"/><circle cx="439.0" cy="395.7" r="0.55" fill="#6f9ddc"/><circle cx="432.2" cy="398.8" r="0.55" fill="#6f9ddc"/><circle cx="424.2" cy="398.1" r="0.55" fill="#6f9ddc"/><circle cx="440.3" cy="392.9" r="0.55" fill="#6f9ddc"/><circle cx="437.1" cy="389.7" r="0.55" fill="#6f9ddc"/><circle cx="429.4" cy="398.4" r="0.55" fill="#6f9ddc"/><circle cx="428.3" cy="395.0" r="0.55" fill="#6f9ddc"/><circle cx="425.5" cy="398.4" r="0.55" fill="#6f9ddc"/><circle cx="434.1" cy="392.2" r="0.55" fill="#6f9ddc"/><circle cx="435.6" cy="396.5" r="0.55" fill="#6f9ddc"/><circle cx="439.3" cy="392.4" r="0.55" fill="#6f9ddc"/><circle cx="434.0" cy="396.2" r="0.55" fill="#6f9ddc"/><circle cx="442.9" cy="401.9" r="0.55" fill="#6f9ddc"/><circle cx="443.7" cy="395.3" r="0.55" fill="#6f9ddc"/><circle cx="430.6" cy="387.8" r="0.55" fill="#6f9ddc"/><circle cx="430.2" cy="391.7" r="0.55" fill="#6f9ddc"/><circle cx="432.4" cy="399.1" r="0.55" fill="#6f9ddc"/><circle cx="423.6" cy="393.2" r="0.55" fill="#6f9ddc"/><circle cx="441.1" cy="397.3" r="0.55" fill="#6f9ddc"/><circle cx="431.0" cy="393.0" r="0.55" fill="#6f9ddc"/><circle cx="427.5" cy="387.5" r="0.55" fill="#6f9ddc"/><circle cx="426.6" cy="400.5" r="0.55" fill="#6f9ddc"/><circle cx="425.3" cy="395.5" r="0.55" fill="#6f9ddc"/><circle cx="432.3" cy="395.9" r="0.55" fill="#6f9ddc"/><circle cx="438.6" cy="398.9" r="0.55" fill="#6f9ddc"/><circle cx="435.7" cy="391.4" r="0.55" fill="#6f9ddc"/><circle cx="435.6" cy="392.1" r="0.55" fill="#6f9ddc"/><circle cx="436.6" cy="399.0" r="0.55" fill="#6f9ddc"/><circle cx="440.2" cy="401.1" r="0.55" fill="#6f9ddc"/><circle cx="427.4" cy="397.3" r="0.55" fill="#6f9ddc"/><circle cx="440.8" cy="399.7" r="0.55" fill="#6f9ddc"/><circle cx="442.5" cy="392.7" r="0.55" fill="#6f9ddc"/><circle cx="440.5" cy="401.9" r="0.55" fill="#6f9ddc"/><circle cx="426.6" cy="395.5" r="0.55" fill="#6f9ddc"/><circle cx="431.0" cy="386.8" r="0.55" fill="#6f9ddc"/><circle cx="441.3" cy="390.2" r="0.55" fill="#6f9ddc"/><circle cx="422.4" cy="391.6" r="0.55" fill="#6f9ddc"/><circle cx="440.2" cy="397.4" r="0.55" fill="#6f9ddc"/><circle cx="443.0" cy="398.0" r="0.55" fill="#6f9ddc"/><circle cx="438.3" cy="398.0" r="0.55" fill="#6f9ddc"/><circle cx="440.2" cy="391.0" r="0.55" fill="#6f9ddc"/><circle cx="425.8" cy="391.0" r="0.55" fill="#6f9ddc"/><circle cx="429.5" cy="397.7" r="0.55" fill="#6f9ddc"/><circle cx="430.3" cy="394.8" r="0.55" fill="#6f9ddc"/><circle cx="427.8" cy="387.4" r="0.55" fill="#6f9ddc"/><circle cx="429.5" cy="398.2" r="0.55" fill="#6f9ddc"/><circle cx="431.8" cy="395.9" r="0.55" fill="#6f9ddc"/><circle cx="425.1" cy="391.0" r="0.55" fill="#6f9ddc"/><circle cx="432.7" cy="388.5" r="0.55" fill="#6f9ddc"/><circle cx="442.0" cy="402.7" r="0.55" fill="#6f9ddc"/><circle cx="433.7" cy="388.1" r="0.55" fill="#6f9ddc"/><circle cx="428.2" cy="392.5" r="0.55" fill="#6f9ddc"/><circle cx="422.7" cy="393.2" r="0.55" fill="#6f9ddc"/><circle cx="432.2" cy="391.4" r="0.55" fill="#6f9ddc"/><circle cx="428.3" cy="396.8" r="0.55" fill="#6f9ddc"/><circle cx="424.7" cy="400.3" r="0.55" fill="#6f9ddc"/><circle cx="428.0" cy="394.6" r="0.55" fill="#6f9ddc"/><circle cx="443.0" cy="394.6" r="0.55" fill="#6f9ddc"/><circle cx="429.2" cy="400.5" r="0.55" fill="#6f9ddc"/><circle cx="442.5" cy="399.0" r="0.55" fill="#6f9ddc"/><circle cx="436.1" cy="389.5" r="0.55" fill="#6f9ddc"/><circle cx="424.9" cy="389.8" r="0.55" fill="#6f9ddc"/><circle cx="427.4" cy="399.2" r="0.55" fill="#6f9ddc"/><circle cx="437.2" cy="397.0" r="0.55" fill="#6f9ddc"/><circle cx="430.4" cy="390.1" r="0.55" fill="#6f9ddc"/><circle cx="422.2" cy="395.7" r="0.55" fill="#6f9ddc"/><circle cx="436.1" cy="400.0" r="0.55" fill="#6f9ddc"/><circle cx="426.1" cy="388.3" r="0.55" fill="#6f9ddc"/><circle cx="427.2" cy="388.1" r="0.55" fill="#6f9ddc"/><circle cx="425.0" cy="396.9" r="0.55" fill="#6f9ddc"/><circle cx="436.2" cy="391.2" r="0.55" fill="#6f9ddc"/><circle cx="436.8" cy="395.7" r="0.55" fill="#6f9ddc"/><circle cx="428.7" cy="399.2" r="0.55" fill="#6f9ddc"/><circle cx="433.0" cy="389.6" r="0.55" fill="#6f9ddc"/><circle cx="441.8" cy="390.4" r="0.55" fill="#6f9ddc"/><circle cx="425.4" cy="388.5" r="0.55" fill="#6f9ddc"/><circle cx="434.3" cy="399.8" r="0.55" fill="#6f9ddc"/><circle cx="443.0" cy="398.6" r="0.55" fill="#6f9ddc"/><circle cx="436.9" cy="394.0" r="0.55" fill="#6f9ddc"/><circle cx="440.0" cy="402.5" r="0.55" fill="#6f9ddc"/><circle cx="432.6" cy="394.1" r="0.55" fill="#6f9ddc"/><circle cx="430.5" cy="396.0" r="0.55" fill="#6f9ddc"/><circle cx="429.6" cy="393.1" r="0.55" fill="#6f9ddc"/><circle cx="420.8" cy="400.1" r="0.55" fill="#e06a6c"/><circle cx="425.2" cy="400.5" r="0.55" fill="#e06a6c"/><circle cx="415.5" cy="399.7" r="0.55" fill="#e06a6c"/><circle cx="419.4" cy="406.8" r="0.55" fill="#e06a6c"/><circle cx="414.2" cy="405.7" r="0.55" fill="#e06a6c"/><circle cx="423.2" cy="409.6" r="0.55" fill="#e06a6c"/><circle cx="429.8" cy="401.7" r="0.55" fill="#e06a6c"/><circle cx="420.6" cy="410.0" r="0.55" fill="#e06a6c"/><circle cx="432.4" cy="407.1" r="0.55" fill="#e06a6c"/><circle cx="422.4" cy="405.4" r="0.55" fill="#e06a6c"/><circle cx="416.7" cy="402.0" r="0.55" fill="#e06a6c"/><circle cx="430.9" cy="409.7" r="0.55" fill="#e06a6c"/><circle cx="420.2" cy="399.2" r="0.55" fill="#e06a6c"/><circle cx="431.0" cy="404.9" r="0.55" fill="#e06a6c"/><circle cx="428.7" cy="400.7" r="0.55" fill="#e06a6c"/><circle cx="414.4" cy="406.0" r="0.55" fill="#e06a6c"/><circle cx="430.0" cy="409.5" r="0.55" fill="#e06a6c"/><circle cx="432.0" cy="410.2" r="0.55" fill="#e06a6c"/><circle cx="418.8" cy="398.6" r="0.55" fill="#e06a6c"/><circle cx="413.0" cy="406.1" r="0.55" fill="#e06a6c"/><circle cx="421.8" cy="401.5" r="0.55" fill="#e06a6c"/><circle cx="417.0" cy="402.0" r="0.55" fill="#e06a6c"/><circle cx="423.0" cy="401.7" r="0.55" fill="#e06a6c"/><circle cx="423.3" cy="408.9" r="0.55" fill="#e06a6c"/><circle cx="421.9" cy="406.3" r="0.55" fill="#e06a6c"/><circle cx="418.9" cy="403.6" r="0.55" fill="#e06a6c"/><circle cx="417.9" cy="408.3" r="0.55" fill="#e06a6c"/><circle cx="420.0" cy="398.6" r="0.55" fill="#e06a6c"/><circle cx="422.1" cy="411.1" r="0.55" fill="#e06a6c"/><circle cx="413.5" cy="399.3" r="0.55" fill="#e06a6c"/><circle cx="413.2" cy="401.0" r="0.55" fill="#e06a6c"/><circle cx="418.3" cy="407.7" r="0.55" fill="#e06a6c"/><circle cx="421.2" cy="408.5" r="0.55" fill="#e06a6c"/><circle cx="418.0" cy="399.5" r="0.55" fill="#e06a6c"/><circle cx="422.9" cy="399.0" r="0.55" fill="#e06a6c"/><circle cx="426.4" cy="411.8" r="0.55" fill="#e06a6c"/><circle cx="414.9" cy="399.0" r="0.55" fill="#e06a6c"/><circle cx="422.6" cy="408.2" r="0.55" fill="#e06a6c"/><circle cx="412.4" cy="400.9" r="0.55" fill="#e06a6c"/><circle cx="431.3" cy="410.3" r="0.55" fill="#e06a6c"/><circle cx="417.7" cy="401.4" r="0.55" fill="#e06a6c"/><circle cx="421.8" cy="410.8" r="0.55" fill="#e06a6c"/><circle cx="415.8" cy="404.8" r="0.55" fill="#e06a6c"/><circle cx="416.2" cy="400.0" r="0.55" fill="#e06a6c"/><circle cx="425.2" cy="404.7" r="0.55" fill="#e06a6c"/><circle cx="428.1" cy="402.0" r="0.55" fill="#e06a6c"/><circle cx="414.1" cy="401.4" r="0.55" fill="#e06a6c"/><circle cx="413.9" cy="402.7" r="0.55" fill="#e06a6c"/><circle cx="426.4" cy="411.1" r="0.55" fill="#e06a6c"/><circle cx="430.3" cy="406.7" r="0.55" fill="#e06a6c"/><circle cx="435.4" cy="410.2" r="0.55" fill="#e06a6c"/><circle cx="432.5" cy="406.3" r="0.55" fill="#e06a6c"/><circle cx="419.5" cy="401.2" r="0.55" fill="#e06a6c"/><circle cx="420.6" cy="406.7" r="0.55" fill="#e06a6c"/><circle cx="428.1" cy="400.0" r="0.55" fill="#e06a6c"/><circle cx="412.4" cy="404.7" r="0.55" fill="#e06a6c"/><circle cx="419.0" cy="399.8" r="0.55" fill="#e06a6c"/><circle cx="427.3" cy="404.9" r="0.55" fill="#e06a6c"/><circle cx="421.1" cy="405.4" r="0.55" fill="#e06a6c"/><circle cx="429.2" cy="411.5" r="0.55" fill="#e06a6c"/><circle cx="425.2" cy="406.4" r="0.55" fill="#e06a6c"/><circle cx="419.0" cy="410.9" r="0.55" fill="#e06a6c"/><circle cx="412.6" cy="402.0" r="0.55" fill="#e06a6c"/><circle cx="419.7" cy="408.6" r="0.55" fill="#e06a6c"/><circle cx="429.8" cy="411.4" r="0.55" fill="#e06a6c"/><circle cx="429.3" cy="405.1" r="0.55" fill="#e06a6c"/><circle cx="413.9" cy="403.6" r="0.55" fill="#e06a6c"/><circle cx="428.0" cy="410.8" r="0.55" fill="#e06a6c"/><circle cx="430.0" cy="402.0" r="0.55" fill="#e06a6c"/><circle cx="420.9" cy="398.3" r="0.55" fill="#e06a6c"/><circle cx="425.3" cy="403.3" r="0.55" fill="#e06a6c"/><circle cx="421.9" cy="404.8" r="0.55" fill="#e06a6c"/><circle cx="426.8" cy="411.8" r="0.55" fill="#e06a6c"/><circle cx="431.4" cy="403.3" r="0.55" fill="#e06a6c"/><circle cx="423.5" cy="409.2" r="0.55" fill="#e06a6c"/><circle cx="414.3" cy="401.1" r="0.55" fill="#e06a6c"/><circle cx="415.0" cy="403.3" r="0.55" fill="#e06a6c"/><circle cx="418.9" cy="400.4" r="0.55" fill="#e06a6c"/><circle cx="415.6" cy="407.9" r="0.55" fill="#e06a6c"/><circle cx="429.4" cy="403.5" r="0.55" fill="#e06a6c"/><circle cx="417.9" cy="398.6" r="0.55" fill="#e06a6c"/><circle cx="416.1" cy="398.8" r="0.55" fill="#e06a6c"/><circle cx="422.3" cy="400.4" r="0.55" fill="#e06a6c"/><circle cx="431.2" cy="405.9" r="0.55" fill="#e06a6c"/><circle cx="414.6" cy="402.2" r="0.55" fill="#e06a6c"/><circle cx="421.5" cy="400.9" r="0.55" fill="#e06a6c"/><circle cx="431.1" cy="409.4" r="0.55" fill="#e06a6c"/><circle cx="414.6" cy="403.0" r="0.55" fill="#e06a6c"/><circle cx="414.9" cy="398.5" r="0.55" fill="#e06a6c"/><circle cx="429.5" cy="401.2" r="0.55" fill="#e06a6c"/><circle cx="426.1" cy="406.9" r="0.55" fill="#e06a6c"/><circle cx="417.5" cy="399.5" r="0.55" fill="#e06a6c"/><circle cx="429.3" cy="411.2" r="0.55" fill="#e06a6c"/><circle cx="417.7" cy="405.3" r="0.55" fill="#e06a6c"/><circle cx="414.8" cy="406.9" r="0.55" fill="#e06a6c"/><circle cx="424.5" cy="411.2" r="0.55" fill="#e06a6c"/><circle cx="414.0" cy="405.1" r="0.55" fill="#e06a6c"/><circle cx="417.7" cy="404.8" r="0.55" fill="#e06a6c"/><circle cx="412.2" cy="401.5" r="0.55" fill="#e06a6c"/><circle cx="420.0" cy="404.2" r="0.55" fill="#e06a6c"/><circle cx="428.0" cy="404.5" r="0.55" fill="#e06a6c"/><circle cx="420.0" cy="401.7" r="0.55" fill="#e06a6c"/><circle cx="427.5" cy="406.1" r="0.55" fill="#e06a6c"/><circle cx="425.4" cy="402.7" r="0.55" fill="#e06a6c"/><circle cx="423.4" cy="409.1" r="0.55" fill="#e06a6c"/><circle cx="428.2" cy="405.2" r="0.55" fill="#e06a6c"/><circle cx="426.6" cy="400.7" r="0.55" fill="#e06a6c"/><circle cx="426.6" cy="405.3" r="0.55" fill="#e06a6c"/><circle cx="430.5" cy="409.6" r="0.55" fill="#e06a6c"/><circle cx="435.0" cy="411.6" r="0.55" fill="#e06a6c"/><circle cx="411.9" cy="404.4" r="0.55" fill="#e06a6c"/><circle cx="420.4" cy="403.7" r="0.55" fill="#e06a6c"/><circle cx="424.8" cy="399.8" r="0.55" fill="#e06a6c"/><circle cx="419.0" cy="406.4" r="0.55" fill="#e06a6c"/><circle cx="417.2" cy="404.0" r="0.55" fill="#e06a6c"/><circle cx="432.7" cy="407.3" r="0.55" fill="#e06a6c"/><circle cx="425.6" cy="402.2" r="0.55" fill="#e06a6c"/><circle cx="430.6" cy="407.6" r="0.55" fill="#e06a6c"/><circle cx="429.5" cy="411.1" r="0.55" fill="#e06a6c"/><circle cx="427.7" cy="400.1" r="0.55" fill="#e06a6c"/><circle cx="415.8" cy="398.4" r="0.55" fill="#e06a6c"/><circle cx="416.7" cy="406.2" r="0.55" fill="#e06a6c"/><circle cx="420.7" cy="402.0" r="0.55" fill="#e06a6c"/><circle cx="416.1" cy="408.9" r="0.55" fill="#e06a6c"/><circle cx="419.7" cy="404.2" r="0.55" fill="#e06a6c"/><circle cx="412.8" cy="406.5" r="0.55" fill="#e06a6c"/><circle cx="431.6" cy="406.4" r="0.55" fill="#e06a6c"/><circle cx="413.5" cy="400.7" r="0.55" fill="#e06a6c"/><circle cx="424.2" cy="408.9" r="0.55" fill="#e06a6c"/><circle cx="430.8" cy="408.2" r="0.55" fill="#e06a6c"/><circle cx="425.0" cy="409.1" r="0.55" fill="#e06a6c"/><circle cx="418.6" cy="402.7" r="0.55" fill="#e06a6c"/><circle cx="432.4" cy="408.4" r="0.55" fill="#e06a6c"/><circle cx="430.2" cy="403.0" r="0.55" fill="#e06a6c"/><circle cx="424.0" cy="406.5" r="0.55" fill="#e06a6c"/><circle cx="415.9" cy="398.9" r="0.55" fill="#e06a6c"/><circle cx="427.2" cy="407.2" r="0.55" fill="#e06a6c"/><circle cx="428.8" cy="405.9" r="0.55" fill="#e06a6c"/><circle cx="427.1" cy="401.6" r="0.55" fill="#e06a6c"/><circle cx="423.0" cy="401.7" r="0.55" fill="#e06a6c"/><circle cx="416.3" cy="402.9" r="0.55" fill="#e06a6c"/><circle cx="427.5" cy="407.4" r="0.55" fill="#e06a6c"/><circle cx="415.1" cy="403.8" r="0.55" fill="#e06a6c"/><circle cx="429.1" cy="408.4" r="0.55" fill="#e06a6c"/><circle cx="419.2" cy="409.4" r="0.55" fill="#e06a6c"/><circle cx="414.0" cy="401.2" r="0.55" fill="#e06a6c"/><circle cx="418.9" cy="402.8" r="0.55" fill="#e06a6c"/><circle cx="435.2" cy="408.2" r="0.55" fill="#e06a6c"/><circle cx="423.8" cy="407.3" r="0.55" fill="#e06a6c"/><circle cx="425.2" cy="403.8" r="0.55" fill="#e06a6c"/><circle cx="431.7" cy="410.9" r="0.55" fill="#e06a6c"/><circle cx="424.4" cy="400.1" r="0.55" fill="#e06a6c"/><circle cx="419.3" cy="398.7" r="0.55" fill="#e06a6c"/><circle cx="414.1" cy="404.8" r="0.55" fill="#e06a6c"/><circle cx="431.3" cy="405.2" r="0.55" fill="#e06a6c"/><circle cx="420.4" cy="405.5" r="0.55" fill="#e06a6c"/><circle cx="427.2" cy="409.9" r="0.55" fill="#e06a6c"/><circle cx="431.5" cy="409.0" r="0.55" fill="#e06a6c"/><circle cx="421.7" cy="400.5" r="0.55" fill="#e06a6c"/><circle cx="430.7" cy="404.6" r="0.55" fill="#e06a6c"/><circle cx="427.9" cy="401.9" r="0.55" fill="#e06a6c"/><circle cx="425.9" cy="412.0" r="0.55" fill="#e06a6c"/><circle cx="418.3" cy="403.4" r="0.55" fill="#e06a6c"/><circle cx="414.8" cy="402.4" r="0.55" fill="#e06a6c"/><circle cx="426.5" cy="411.0" r="0.55" fill="#e06a6c"/><circle cx="419.6" cy="410.5" r="0.55" fill="#e06a6c"/><circle cx="425.4" cy="406.7" r="0.55" fill="#e06a6c"/><circle cx="434.0" cy="408.9" r="0.55" fill="#e06a6c"/><circle cx="416.0" cy="408.4" r="0.55" fill="#e06a6c"/><circle cx="422.6" cy="405.2" r="0.55" fill="#e06a6c"/><circle cx="432.4" cy="409.1" r="0.55" fill="#e06a6c"/><circle cx="422.6" cy="411.1" r="0.55" fill="#e06a6c"/><circle cx="415.7" cy="400.7" r="0.55" fill="#e06a6c"/><circle cx="427.7" cy="404.7" r="0.55" fill="#e06a6c"/><circle cx="418.7" cy="399.5" r="0.55" fill="#e06a6c"/><circle cx="429.6" cy="411.0" r="0.55" fill="#e06a6c"/><circle cx="415.8" cy="407.1" r="0.55" fill="#e06a6c"/><circle cx="416.6" cy="408.0" r="0.55" fill="#e06a6c"/><circle cx="423.8" cy="399.5" r="0.55" fill="#e06a6c"/><circle cx="427.8" cy="399.6" r="0.55" fill="#e06a6c"/><circle cx="422.6" cy="411.2" r="0.55" fill="#e06a6c"/><circle cx="426.5" cy="412.6" r="0.55" fill="#e06a6c"/><circle cx="416.0" cy="403.4" r="0.55" fill="#e06a6c"/><circle cx="419.4" cy="401.9" r="0.55" fill="#e06a6c"/><circle cx="431.9" cy="410.4" r="0.55" fill="#e06a6c"/><circle cx="413.3" cy="406.9" r="0.55" fill="#e06a6c"/><circle cx="416.9" cy="402.0" r="0.55" fill="#e06a6c"/><circle cx="416.3" cy="398.0" r="0.55" fill="#e06a6c"/><circle cx="422.0" cy="409.7" r="0.55" fill="#e06a6c"/><circle cx="430.3" cy="405.0" r="0.55" fill="#e06a6c"/><circle cx="417.4" cy="403.4" r="0.55" fill="#e06a6c"/><circle cx="419.5" cy="404.0" r="0.55" fill="#e06a6c"/><circle cx="427.9" cy="406.3" r="0.55" fill="#e06a6c"/><circle cx="417.3" cy="404.5" r="0.55" fill="#e06a6c"/><circle cx="427.1" cy="410.5" r="0.55" fill="#e06a6c"/><circle cx="430.3" cy="408.5" r="0.55" fill="#e06a6c"/><circle cx="426.2" cy="406.2" r="0.55" fill="#e06a6c"/><circle cx="430.5" cy="402.3" r="0.55" fill="#e06a6c"/><circle cx="413.0" cy="401.3" r="0.55" fill="#e06a6c"/><circle cx="414.7" cy="408.6" r="0.55" fill="#e06a6c"/><circle cx="412.0" cy="402.0" r="0.55" fill="#e06a6c"/><circle cx="423.9" cy="400.4" r="0.55" fill="#e06a6c"/><circle cx="427.5" cy="412.5" r="0.55" fill="#e06a6c"/><circle cx="415.3" cy="404.1" r="0.55" fill="#e06a6c"/><circle cx="421.2" cy="409.2" r="0.55" fill="#e06a6c"/><circle cx="424.6" cy="401.6" r="0.55" fill="#e06a6c"/><circle cx="419.1" cy="410.3" r="0.55" fill="#e06a6c"/><circle cx="428.8" cy="400.5" r="0.55" fill="#e06a6c"/><circle cx="414.1" cy="408.0" r="0.55" fill="#e06a6c"/><circle cx="429.2" cy="407.6" r="0.55" fill="#e06a6c"/><ellipse cx="425.5" cy="384.4" rx="4.4" ry="0.9" fill="#f0e47a"/><path d="M411,395.4 L415.3,391.3" stroke="#a0603a" stroke-width="1.3"/><circle cx="447" cy="395" r="0.9" fill="#4a9a3a"/><circle cx="448" cy="394.5" r="0.9" fill="#4a9a3a"/><circle cx="446" cy="400" r="0.9" fill="#9a5ab0"/><circle cx="445.5" cy="405.7" r="0.9" fill="#9a70b8"/><circle cx="440.4" cy="407.8" r="0.9" fill="#b0b0b0"/><circle cx="417" cy="394" r="0.9" fill="#6d98da"/><circle cx="438" cy="414" r="0.9" fill="#de5f62"/>
<rect x="456.3" y="383.6" width="30.4" height="30.4" fill="#e6d8d2"/>
<path d="M456.3,383.6 L468,383.6 Q462,392 465,398 Q470,405 476,407 Q468,410 462,408 Q458,405 456.3,404 Z" fill="#d8a6be"/>
<path d="M468,383.6 L478,383.6 Q472,388 473,392 Q466,392 465,398 Q462,392 468,383.6 Z" fill="#dcbcc8"/>
<path d="M456.3,404 Q462,410 470,409 Q480,406 486.7,396 L486.7,414 L456.3,414 Z" fill="#a9a6d4"/>
<path d="M456.3,408 Q460,412 466,414 L456.3,414 Z" fill="#e8e8f0"/>
<path d="M481,383.6 L486.7,383.6 L486.7,390 Q483,388 481,383.6 Z" fill="#a8b2dc"/>
<circle cx="475.6" cy="406.0" r="0.45" fill="#c07aa0"/><circle cx="460.0" cy="397.7" r="0.45" fill="#f4ece4"/><circle cx="485.5" cy="395.3" r="0.45" fill="#f4ece4"/><circle cx="484.3" cy="395.2" r="0.45" fill="#b894b8"/><circle cx="466.2" cy="403.2" r="0.45" fill="#f4ece4"/><circle cx="468.3" cy="406.5" r="0.45" fill="#e8c8d0"/><circle cx="481.5" cy="401.4" r="0.45" fill="#f4ece4"/><circle cx="464.4" cy="411.5" r="0.45" fill="#b894b8"/><circle cx="469.7" cy="406.7" r="0.45" fill="#e8c8d0"/><circle cx="467.3" cy="401.9" r="0.45" fill="#b894b8"/><circle cx="469.3" cy="412.0" r="0.45" fill="#b894b8"/><circle cx="460.2" cy="384.3" r="0.45" fill="#c07aa0"/><circle cx="457.5" cy="397.1" r="0.45" fill="#e8c8d0"/><circle cx="483.8" cy="397.0" r="0.45" fill="#c07aa0"/><circle cx="459.6" cy="407.8" r="0.45" fill="#f4ece4"/><circle cx="465.5" cy="405.3" r="0.45" fill="#c07aa0"/><circle cx="480.8" cy="394.7" r="0.45" fill="#f4ece4"/><circle cx="459.2" cy="384.6" r="0.45" fill="#b894b8"/><circle cx="475.6" cy="408.3" r="0.45" fill="#b894b8"/><circle cx="474.6" cy="385.9" r="0.45" fill="#e8c8d0"/><circle cx="481.1" cy="396.3" r="0.45" fill="#e8c8d0"/><circle cx="474.1" cy="393.2" r="0.45" fill="#c07aa0"/><circle cx="473.4" cy="413.1" r="0.45" fill="#f4ece4"/><circle cx="465.7" cy="385.6" r="0.45" fill="#c07aa0"/><circle cx="459.5" cy="385.7" r="0.45" fill="#b894b8"/><circle cx="474.1" cy="405.4" r="0.45" fill="#e8c8d0"/><circle cx="476.8" cy="392.5" r="0.45" fill="#f4ece4"/><circle cx="457.1" cy="397.5" r="0.45" fill="#e8c8d0"/><circle cx="465.5" cy="392.0" r="0.45" fill="#c07aa0"/><circle cx="459.3" cy="399.3" r="0.45" fill="#e8c8d0"/><circle cx="463.4" cy="387.2" r="0.45" fill="#e8c8d0"/><circle cx="478.1" cy="395.0" r="0.45" fill="#f4ece4"/><circle cx="483.9" cy="399.2" r="0.45" fill="#b894b8"/><circle cx="486.2" cy="412.1" r="0.45" fill="#e8c8d0"/><circle cx="484.9" cy="409.5" r="0.45" fill="#b894b8"/><circle cx="460.5" cy="400.2" r="0.45" fill="#b894b8"/><circle cx="480.8" cy="400.5" r="0.45" fill="#c07aa0"/><circle cx="464.2" cy="404.9" r="0.45" fill="#e8c8d0"/><circle cx="464.3" cy="402.3" r="0.45" fill="#b894b8"/><circle cx="468.5" cy="389.0" r="0.45" fill="#c07aa0"/><circle cx="465.5" cy="407.8" r="0.45" fill="#b894b8"/><circle cx="470.8" cy="403.3" r="0.45" fill="#f4ece4"/><circle cx="457.8" cy="389.5" r="0.45" fill="#f4ece4"/><circle cx="468.2" cy="396.5" r="0.45" fill="#e8c8d0"/><circle cx="476.5" cy="400.7" r="0.45" fill="#e8c8d0"/><circle cx="468.6" cy="400.9" r="0.45" fill="#f4ece4"/><circle cx="462.1" cy="412.3" r="0.45" fill="#e8c8d0"/><circle cx="486.3" cy="397.8" r="0.45" fill="#c07aa0"/><circle cx="463.7" cy="406.1" r="0.45" fill="#b894b8"/><circle cx="481.5" cy="410.2" r="0.45" fill="#e8c8d0"/><circle cx="483.3" cy="397.6" r="0.45" fill="#e8c8d0"/><circle cx="465.9" cy="394.9" r="0.45" fill="#b894b8"/><circle cx="481.8" cy="403.9" r="0.45" fill="#b894b8"/><circle cx="459.2" cy="410.6" r="0.45" fill="#b894b8"/><circle cx="470.9" cy="409.7" r="0.45" fill="#b894b8"/><circle cx="460.8" cy="400.3" r="0.45" fill="#e8c8d0"/><circle cx="485.6" cy="392.5" r="0.45" fill="#c07aa0"/><circle cx="464.5" cy="395.6" r="0.45" fill="#c07aa0"/><circle cx="485.0" cy="390.4" r="0.45" fill="#f4ece4"/><circle cx="456.9" cy="409.6" r="0.45" fill="#f4ece4"/><circle cx="480.1" cy="386.6" r="0.45" fill="#b894b8"/><circle cx="468.6" cy="391.0" r="0.45" fill="#c07aa0"/><circle cx="470.4" cy="396.4" r="0.45" fill="#c07aa0"/><circle cx="463.9" cy="392.4" r="0.45" fill="#c07aa0"/><circle cx="467.7" cy="413.5" r="0.45" fill="#c07aa0"/><circle cx="479.4" cy="401.5" r="0.45" fill="#f4ece4"/><circle cx="473.0" cy="408.2" r="0.45" fill="#b894b8"/><circle cx="483.4" cy="397.7" r="0.45" fill="#e8c8d0"/><circle cx="468.5" cy="389.5" r="0.45" fill="#e8c8d0"/><circle cx="474.5" cy="411.5" r="0.45" fill="#e8c8d0"/><circle cx="473.5" cy="393.6" r="0.45" fill="#e8c8d0"/><circle cx="471.7" cy="384.9" r="0.45" fill="#e8c8d0"/><circle cx="477.7" cy="411.7" r="0.45" fill="#e8c8d0"/><circle cx="476.4" cy="411.9" r="0.45" fill="#f4ece4"/><circle cx="470.0" cy="397.8" r="0.45" fill="#e8c8d0"/><circle cx="484.1" cy="404.5" r="0.45" fill="#b894b8"/><circle cx="480.8" cy="391.2" r="0.45" fill="#b894b8"/><circle cx="462.8" cy="390.1" r="0.45" fill="#e8c8d0"/><circle cx="462.1" cy="393.8" r="0.45" fill="#f4ece4"/><circle cx="471.0" cy="385.2" r="0.45" fill="#b894b8"/><circle cx="480.9" cy="385.5" r="0.45" fill="#f4ece4"/><circle cx="458.8" cy="397.4" r="0.45" fill="#c07aa0"/><circle cx="483.0" cy="406.1" r="0.45" fill="#c07aa0"/><circle cx="468.9" cy="409.3" r="0.45" fill="#c07aa0"/><circle cx="474.1" cy="390.9" r="0.45" fill="#e8c8d0"/><circle cx="475.4" cy="396.3" r="0.45" fill="#c07aa0"/><circle cx="475.9" cy="399.0" r="0.45" fill="#e8c8d0"/><circle cx="457.6" cy="407.4" r="0.45" fill="#f4ece4"/><circle cx="462.6" cy="393.9" r="0.45" fill="#c07aa0"/><circle cx="457.3" cy="409.1" r="0.45" fill="#f4ece4"/><circle cx="482.3" cy="398.5" r="0.45" fill="#f4ece4"/><circle cx="485.5" cy="408.9" r="0.45" fill="#f4ece4"/><circle cx="473.9" cy="384.2" r="0.45" fill="#f4ece4"/><circle cx="475.3" cy="396.1" r="0.45" fill="#c07aa0"/><circle cx="471.5" cy="399.6" r="0.45" fill="#c07aa0"/><circle cx="471.3" cy="395.9" r="0.45" fill="#c07aa0"/><circle cx="471.4" cy="396.8" r="0.45" fill="#c07aa0"/><circle cx="460.0" cy="401.8" r="0.45" fill="#e8c8d0"/><circle cx="457.9" cy="410.2" r="0.45" fill="#e8c8d0"/><circle cx="476.6" cy="383.9" r="0.45" fill="#f4ece4"/><circle cx="483.4" cy="391.2" r="0.45" fill="#f4ece4"/><circle cx="467.9" cy="392.7" r="0.45" fill="#c07aa0"/><circle cx="466.5" cy="400.1" r="0.45" fill="#f4ece4"/><circle cx="483.9" cy="400.8" r="0.45" fill="#c07aa0"/><circle cx="469.4" cy="410.3" r="0.45" fill="#b894b8"/><circle cx="475.2" cy="398.1" r="0.45" fill="#c07aa0"/><circle cx="477.6" cy="412.2" r="0.45" fill="#c07aa0"/><circle cx="460.9" cy="405.1" r="0.45" fill="#c07aa0"/><circle cx="479.5" cy="391.1" r="0.45" fill="#b894b8"/><circle cx="480.5" cy="390.9" r="0.45" fill="#f4ece4"/><circle cx="481.6" cy="406.2" r="0.45" fill="#e8c8d0"/><circle cx="474.9" cy="388.1" r="0.45" fill="#c07aa0"/><circle cx="463.9" cy="399.3" r="0.45" fill="#f4ece4"/><circle cx="485.1" cy="388.4" r="0.45" fill="#f4ece4"/><circle cx="461.7" cy="400.6" r="0.45" fill="#e8c8d0"/><circle cx="484.6" cy="384.4" r="0.45" fill="#e8c8d0"/><circle cx="480.4" cy="385.4" r="0.45" fill="#c07aa0"/><circle cx="461.4" cy="409.0" r="0.45" fill="#f4ece4"/><circle cx="481.6" cy="404.2" r="0.45" fill="#c07aa0"/><circle cx="466.3" cy="385.9" r="0.45" fill="#f4ece4"/><circle cx="460.5" cy="392.9" r="0.45" fill="#c07aa0"/><circle cx="473.9" cy="387.5" r="0.45" fill="#f4ece4"/><circle cx="471.7" cy="388.1" r="0.45" fill="#c07aa0"/><circle cx="463.0" cy="412.0" r="0.45" fill="#e8c8d0"/><circle cx="463.4" cy="383.8" r="0.45" fill="#e8c8d0"/><circle cx="459.4" cy="406.8" r="0.45" fill="#f4ece4"/><circle cx="475.5" cy="408.8" r="0.45" fill="#e8c8d0"/><circle cx="485.8" cy="387.7" r="0.45" fill="#b894b8"/><circle cx="465.9" cy="404.3" r="0.45" fill="#b894b8"/><circle cx="482.0" cy="400.8" r="0.45" fill="#e8c8d0"/><circle cx="480.7" cy="401.9" r="0.45" fill="#b894b8"/><circle cx="460.6" cy="409.6" r="0.45" fill="#b894b8"/><circle cx="463.8" cy="404.7" r="0.45" fill="#c07aa0"/><circle cx="462.6" cy="393.0" r="0.45" fill="#c07aa0"/><circle cx="465.7" cy="386.7" r="0.45" fill="#e8c8d0"/><circle cx="484.1" cy="404.2" r="0.45" fill="#b894b8"/><circle cx="469.8" cy="386.6" r="0.45" fill="#f4ece4"/><circle cx="482.9" cy="388.7" r="0.45" fill="#c07aa0"/><circle cx="484.5" cy="384.0" r="0.45" fill="#f4ece4"/><circle cx="459.0" cy="391.2" r="0.45" fill="#c07aa0"/>
<rect x="412" y="439.6" width="12.3" height="31" fill="url(#hmL)"/>
<rect x="424.3" y="439.6" width="14.3" height="31" fill="url(#hmR)"/>
<rect x="412" y="439.6" width="26.6" height="0.45" fill="#fff" fill-opacity="0.27"/><rect x="412" y="440.7" width="26.6" height="0.45" fill="#fff" fill-opacity="0.15"/><rect x="412" y="441.7" width="26.6" height="0.45" fill="#fff" fill-opacity="0.16"/><rect x="412" y="442.8" width="26.6" height="0.45" fill="#fff" fill-opacity="0.06"/><rect x="412" y="443.9" width="26.6" height="0.45" fill="#fff" fill-opacity="0.14"/><rect x="412" y="445.0" width="26.6" height="0.45" fill="#fff" fill-opacity="0.11"/><rect x="412" y="446.0" width="26.6" height="0.45" fill="#fff" fill-opacity="0.25"/><rect x="412" y="447.1" width="26.6" height="0.45" fill="#fff" fill-opacity="0.23"/><rect x="412" y="448.2" width="26.6" height="0.45" fill="#fff" fill-opacity="0.25"/><rect x="412" y="449.2" width="26.6" height="0.45" fill="#fff" fill-opacity="0.18"/><rect x="412" y="450.3" width="26.6" height="0.45" fill="#fff" fill-opacity="0.22"/><rect x="412" y="451.4" width="26.6" height="0.45" fill="#fff" fill-opacity="0.08"/><rect x="412" y="452.4" width="26.6" height="0.45" fill="#fff" fill-opacity="0.15"/><rect x="412" y="453.5" width="26.6" height="0.45" fill="#fff" fill-opacity="0.12"/><rect x="412" y="454.6" width="26.6" height="0.45" fill="#fff" fill-opacity="0.12"/><rect x="412" y="455.7" width="26.6" height="0.45" fill="#fff" fill-opacity="0.23"/><rect x="412" y="456.7" width="26.6" height="0.45" fill="#fff" fill-opacity="0.10"/><rect x="412" y="457.8" width="26.6" height="0.45" fill="#fff" fill-opacity="0.13"/><rect x="412" y="458.9" width="26.6" height="0.45" fill="#fff" fill-opacity="0.12"/><rect x="412" y="459.9" width="26.6" height="0.45" fill="#fff" fill-opacity="0.27"/><rect x="412" y="461.0" width="26.6" height="0.45" fill="#fff" fill-opacity="0.21"/><rect x="412" y="462.1" width="26.6" height="0.45" fill="#fff" fill-opacity="0.17"/><rect x="412" y="463.1" width="26.6" height="0.45" fill="#fff" fill-opacity="0.14"/><rect x="412" y="464.2" width="26.6" height="0.45" fill="#fff" fill-opacity="0.28"/><rect x="412" y="465.3" width="26.6" height="0.45" fill="#fff" fill-opacity="0.28"/><rect x="412" y="466.4" width="26.6" height="0.45" fill="#fff" fill-opacity="0.16"/><rect x="412" y="467.4" width="26.6" height="0.45" fill="#fff" fill-opacity="0.19"/><rect x="412" y="468.5" width="26.6" height="0.45" fill="#fff" fill-opacity="0.27"/><rect x="412" y="469.6" width="26.6" height="0.45" fill="#fff" fill-opacity="0.11"/>
<path d="M449.0,443.5 L455.0,442.2 L461.0,443.0 L464.5,446.5 L465.3,452.0 L465.0,458.0 L463.5,463.0 L458.0,465.6 L451.0,465.4 L446.5,463.5 L445.5,460.0 L447.5,457.0 L446.5,454.0 L445.0,451.0 L445.5,447.0 Z" fill="#cfe39a"/>
<clipPath id="sp1"><path d="M449.0,443.5 L455.0,442.2 L461.0,443.0 L464.5,446.5 L465.3,452.0 L465.0,458.0 L463.5,463.0 L458.0,465.6 L451.0,465.4 L446.5,463.5 L445.5,460.0 L447.5,457.0 L446.5,454.0 L445.0,451.0 L445.5,447.0 Z"/></clipPath><g clip-path="url(#sp1)"><circle cx="450.3" cy="444.5" r="1.0" fill="#f0e890"/><circle cx="448.2" cy="452.4" r="1.3" fill="#bcdc8c"/><circle cx="463.0" cy="462.1" r="1.3" fill="#e8e478"/><circle cx="452.7" cy="445.0" r="1.0" fill="#f0e890"/><circle cx="446.7" cy="451.4" r="0.7" fill="#bcdc8c"/><circle cx="455.6" cy="448.9" r="0.9" fill="#bcdc8c"/><circle cx="450.9" cy="462.9" r="1.1" fill="#9cc8e0"/><circle cx="454.8" cy="465.1" r="0.7" fill="#e8e478"/><circle cx="458.1" cy="462.9" r="0.9" fill="#8fcbb8"/><circle cx="450.6" cy="454.9" r="0.9" fill="#a8d4d8"/><circle cx="453.8" cy="442.5" r="1.3" fill="#f0e890"/><circle cx="449.0" cy="461.2" r="1.1" fill="#8fcbb8"/><circle cx="458.1" cy="465.8" r="0.8" fill="#a8d4d8"/><circle cx="453.5" cy="455.8" r="1.2" fill="#bcdc8c"/><circle cx="458.0" cy="450.8" r="0.7" fill="#8fcbb8"/><circle cx="451.3" cy="444.8" r="1.1" fill="#bcdc8c"/><circle cx="458.6" cy="455.7" r="1.0" fill="#a8d4d8"/><circle cx="464.3" cy="456.2" r="1.0" fill="#bcdc8c"/><circle cx="451.8" cy="451.3" r="1.3" fill="#f0e890"/><circle cx="454.1" cy="465.5" r="1.0" fill="#a8d4d8"/><circle cx="458.6" cy="461.5" r="0.6" fill="#e8e478"/><circle cx="461.0" cy="463.3" r="0.8" fill="#e8e478"/><circle cx="454.1" cy="454.9" r="1.0" fill="#8fcbb8"/><circle cx="460.0" cy="446.1" r="0.7" fill="#8fcbb8"/><circle cx="452.8" cy="464.1" r="1.2" fill="#e8e478"/><circle cx="452.4" cy="445.4" r="0.8" fill="#bcdc8c"/><circle cx="449.6" cy="443.1" r="0.9" fill="#8fcbb8"/><circle cx="462.7" cy="451.7" r="1.1" fill="#e8e478"/><circle cx="454.1" cy="447.6" r="0.7" fill="#a8d4d8"/><circle cx="448.3" cy="460.3" r="1.3" fill="#e8e478"/><circle cx="460.6" cy="445.2" r="1.1" fill="#bcdc8c"/><circle cx="460.6" cy="443.6" r="0.8" fill="#e8e478"/><circle cx="458.8" cy="454.8" r="1.0" fill="#8fcbb8"/><circle cx="456.4" cy="451.2" r="1.0" fill="#e8e478"/><circle cx="445.3" cy="452.7" r="1.2" fill="#f0e890"/><circle cx="459.7" cy="449.2" r="0.8" fill="#f0e890"/><circle cx="449.5" cy="447.0" r="1.0" fill="#9cc8e0"/><circle cx="460.6" cy="455.8" r="1.2" fill="#bcdc8c"/><circle cx="446.7" cy="462.8" r="1.0" fill="#8fcbb8"/><circle cx="457.1" cy="458.6" r="1.0" fill="#f0e890"/><circle cx="451.5" cy="447.0" r="1.1" fill="#9cc8e0"/><circle cx="457.3" cy="447.0" r="1.3" fill="#bcdc8c"/><circle cx="460.8" cy="447.2" r="0.9" fill="#8fcbb8"/><circle cx="459.3" cy="449.0" r="1.1" fill="#a8d4d8"/><circle cx="458.0" cy="452.6" r="1.1" fill="#f0e890"/><circle cx="462.3" cy="448.8" r="0.9" fill="#a8d4d8"/><circle cx="459.9" cy="446.7" r="0.8" fill="#e8e478"/><circle cx="445.5" cy="449.1" r="1.2" fill="#a8d4d8"/><circle cx="456.8" cy="446.2" r="1.1" fill="#8fcbb8"/><circle cx="452.7" cy="456.1" r="1.3" fill="#e8e478"/><circle cx="450.2" cy="454.4" r="0.8" fill="#bcdc8c"/><circle cx="464.2" cy="448.8" r="1.1" fill="#f0e890"/><circle cx="463.9" cy="450.2" r="1.1" fill="#f0e890"/><circle cx="445.3" cy="449.9" r="0.8" fill="#a8d4d8"/><circle cx="461.3" cy="448.3" r="0.8" fill="#f0e890"/><circle cx="462.1" cy="449.4" r="0.6" fill="#e8e478"/><circle cx="447.8" cy="450.8" r="1.0" fill="#e8e478"/><circle cx="447.5" cy="446.3" r="0.8" fill="#9cc8e0"/><circle cx="464.0" cy="454.0" r="0.9" fill="#9cc8e0"/><circle cx="460.9" cy="459.4" r="0.8" fill="#9cc8e0"/><circle cx="461.2" cy="455.5" r="0.9" fill="#e8e478"/><circle cx="463.7" cy="447.9" r="0.8" fill="#f0e890"/><circle cx="447.0" cy="464.2" r="1.2" fill="#8fcbb8"/><circle cx="449.0" cy="454.6" r="0.7" fill="#f0e890"/><circle cx="462.1" cy="450.4" r="0.9" fill="#f0e890"/><circle cx="446.2" cy="458.0" r="0.8" fill="#9cc8e0"/><circle cx="465.1" cy="446.5" r="1.1" fill="#8fcbb8"/><circle cx="446.8" cy="450.4" r="0.9" fill="#9cc8e0"/><circle cx="455.8" cy="446.2" r="1.2" fill="#8fcbb8"/><circle cx="455.6" cy="445.6" r="0.9" fill="#e8e478"/><circle cx="449.5" cy="460.4" r="0.9" fill="#bcdc8c"/><circle cx="451.9" cy="451.6" r="1.3" fill="#e8e478"/><circle cx="445.4" cy="453.8" r="0.9" fill="#a8d4d8"/><circle cx="456.2" cy="464.6" r="0.7" fill="#bcdc8c"/><circle cx="460.9" cy="460.0" r="1.0" fill="#8fcbb8"/><circle cx="451.9" cy="445.6" r="0.7" fill="#9cc8e0"/><circle cx="459.8" cy="449.6" r="1.1" fill="#bcdc8c"/><circle cx="447.1" cy="455.0" r="0.8" fill="#f0e890"/><circle cx="452.9" cy="461.3" r="0.9" fill="#e8e478"/><circle cx="451.2" cy="455.1" r="0.6" fill="#bcdc8c"/><circle cx="448.6" cy="446.9" r="0.8" fill="#9cc8e0"/><circle cx="453.7" cy="465.4" r="1.3" fill="#f0e890"/><circle cx="446.7" cy="458.9" r="1.1" fill="#9cc8e0"/><circle cx="447.6" cy="454.6" r="0.9" fill="#9cc8e0"/><circle cx="458.5" cy="448.1" r="1.2" fill="#bcdc8c"/><circle cx="463.9" cy="448.5" r="0.6" fill="#a8d4d8"/><circle cx="454.5" cy="447.0" r="1.2" fill="#a8d4d8"/><circle cx="448.0" cy="463.5" r="1.1" fill="#9cc8e0"/><circle cx="450.5" cy="453.7" r="0.9" fill="#8fcbb8"/><circle cx="453.9" cy="458.7" r="1.0" fill="#8fcbb8"/><circle cx="455.2" cy="456.0" r="1.2" fill="#8fcbb8"/><circle cx="453.3" cy="445.3" r="1.1" fill="#a8d4d8"/><circle cx="448.0" cy="454.3" r="1.2" fill="#a8d4d8"/><circle cx="455.3" cy="464.3" r="0.8" fill="#8fcbb8"/><circle cx="449.9" cy="453.0" r="1.1" fill="#9cc8e0"/><circle cx="447.0" cy="462.4" r="1.0" fill="#a8d4d8"/><circle cx="465.3" cy="447.2" r="0.6" fill="#e8e478"/><circle cx="449.7" cy="447.5" r="0.6" fill="#a8d4d8"/><circle cx="445.7" cy="464.1" r="0.9" fill="#f0e890"/><circle cx="459.3" cy="459.5" r="1.1" fill="#e8e478"/><circle cx="460.4" cy="457.2" r="0.7" fill="#f0e890"/><circle cx="457.2" cy="460.6" r="0.7" fill="#e8e478"/><circle cx="456.4" cy="447.0" r="0.8" fill="#8fcbb8"/><circle cx="460.0" cy="452.6" r="0.7" fill="#f0e890"/><circle cx="460.3" cy="457.6" r="1.1" fill="#9cc8e0"/><circle cx="456.9" cy="445.6" r="1.1" fill="#8fcbb8"/><circle cx="458.4" cy="456.1" r="0.9" fill="#bcdc8c"/><circle cx="456.7" cy="445.1" r="0.9" fill="#bcdc8c"/><circle cx="446.4" cy="447.8" r="1.0" fill="#9cc8e0"/><circle cx="453.0" cy="452.2" r="0.9" fill="#9cc8e0"/></g>
<ellipse cx="461.5" cy="453.1" rx="1.3" ry="1.9" fill="#b01c24"/><ellipse cx="453.5" cy="464" rx="2" ry="0.9" fill="#e8a040"/><ellipse cx="447.5" cy="460" rx="1.2" ry="1" fill="#f0c040"/>
<path d="M476.0,443.5 L482.0,441.8 L489.0,442.2 L493.5,445.0 L495.0,451.0 L494.8,458.0 L493.0,463.5 L488.0,467.4 L481.0,467.8 L476.0,466.0 L474.0,462.0 L476.0,459.0 L474.5,455.5 L473.2,452.0 L473.6,447.0 Z" fill="#9ea8de"/>
<clipPath id="sp2"><path d="M476.0,443.5 L482.0,441.8 L489.0,442.2 L493.5,445.0 L495.0,451.0 L494.8,458.0 L493.0,463.5 L488.0,467.4 L481.0,467.8 L476.0,466.0 L474.0,462.0 L476.0,459.0 L474.5,455.5 L473.2,452.0 L473.6,447.0 Z"/></clipPath><g clip-path="url(#sp2)"><circle cx="474.4" cy="452.3" r="0.9" fill="#9ea8de"/><circle cx="480.9" cy="454.8" r="0.6" fill="#b8d8c8"/><circle cx="476.8" cy="452.2" r="1.0" fill="#c0dcb4"/><circle cx="486.9" cy="462.8" r="1.0" fill="#a8c8e8"/><circle cx="486.4" cy="455.9" r="0.7" fill="#9ea8de"/><circle cx="480.1" cy="453.9" r="0.6" fill="#c0dcb4"/><circle cx="474.8" cy="461.5" r="1.1" fill="#9ea8de"/><circle cx="487.6" cy="467.5" r="0.8" fill="#a8c8e8"/><circle cx="474.1" cy="464.9" r="0.9" fill="#9ea8de"/><circle cx="485.6" cy="467.0" r="1.0" fill="#a8c8e8"/><circle cx="474.6" cy="461.4" r="0.8" fill="#a8c8e8"/><circle cx="481.1" cy="463.5" r="1.1" fill="#9ea8de"/><circle cx="476.7" cy="457.5" r="0.8" fill="#c0dcb4"/><circle cx="474.4" cy="461.8" r="1.0" fill="#9ea8de"/><circle cx="478.3" cy="467.1" r="1.1" fill="#c0dcb4"/><circle cx="487.0" cy="452.3" r="0.7" fill="#9ea8de"/><circle cx="475.8" cy="460.0" r="1.0" fill="#9ea8de"/><circle cx="475.0" cy="461.0" r="0.6" fill="#c0dcb4"/><circle cx="481.6" cy="454.4" r="1.1" fill="#c0dcb4"/><circle cx="477.1" cy="461.4" r="0.7" fill="#a8c8e8"/><circle cx="477.7" cy="463.2" r="0.6" fill="#9ea8de"/><circle cx="475.6" cy="455.1" r="0.6" fill="#a8c8e8"/><circle cx="484.6" cy="454.8" r="1.0" fill="#c0dcb4"/><circle cx="479.5" cy="459.6" r="0.7" fill="#c0dcb4"/><circle cx="487.5" cy="458.8" r="1.1" fill="#c0dcb4"/><circle cx="475.8" cy="466.7" r="0.7" fill="#a8c8e8"/><circle cx="479.1" cy="456.3" r="0.6" fill="#c0dcb4"/><circle cx="489.0" cy="465.1" r="0.8" fill="#9ea8de"/><circle cx="476.3" cy="454.8" r="0.7" fill="#9ea8de"/><circle cx="477.2" cy="462.8" r="0.9" fill="#a8c8e8"/><circle cx="474.1" cy="456.2" r="0.6" fill="#c0dcb4"/><circle cx="481.8" cy="457.2" r="0.6" fill="#c0dcb4"/><circle cx="486.2" cy="464.6" r="0.9" fill="#b8d8c8"/><circle cx="484.2" cy="466.2" r="0.9" fill="#b8d8c8"/><circle cx="482.2" cy="452.4" r="0.8" fill="#9ea8de"/><circle cx="474.3" cy="462.1" r="1.0" fill="#a8c8e8"/><circle cx="476.9" cy="467.7" r="1.0" fill="#c0dcb4"/><circle cx="480.3" cy="465.6" r="0.7" fill="#b8d8c8"/><circle cx="479.4" cy="464.5" r="1.0" fill="#9ea8de"/><circle cx="477.8" cy="453.6" r="0.6" fill="#9ea8de"/><circle cx="483.3" cy="462.9" r="0.7" fill="#c0dcb4"/><circle cx="482.8" cy="455.7" r="1.0" fill="#b8d8c8"/><circle cx="482.8" cy="457.6" r="0.6" fill="#9ea8de"/><circle cx="478.4" cy="456.3" r="0.9" fill="#9ea8de"/><circle cx="481.2" cy="454.9" r="1.0" fill="#b8d8c8"/><circle cx="481.8" cy="452.5" r="0.7" fill="#9ea8de"/><circle cx="480.6" cy="460.9" r="0.9" fill="#9ea8de"/><circle cx="480.5" cy="452.7" r="1.0" fill="#b8d8c8"/><circle cx="483.4" cy="465.4" r="0.5" fill="#b8d8c8"/><circle cx="485.5" cy="454.1" r="0.7" fill="#b8d8c8"/><circle cx="481.1" cy="454.5" r="1.0" fill="#a8c8e8"/><circle cx="481.7" cy="456.7" r="0.6" fill="#9ea8de"/><circle cx="475.6" cy="458.4" r="0.6" fill="#9ea8de"/><circle cx="475.2" cy="457.2" r="0.6" fill="#c0dcb4"/><circle cx="485.8" cy="453.4" r="0.7" fill="#9ea8de"/><circle cx="486.8" cy="466.7" r="1.0" fill="#9ea8de"/><circle cx="481.9" cy="462.0" r="1.0" fill="#9ea8de"/><circle cx="477.1" cy="453.6" r="1.0" fill="#c0dcb4"/><circle cx="486.8" cy="452.3" r="0.6" fill="#a8c8e8"/><circle cx="484.3" cy="464.7" r="1.0" fill="#c0dcb4"/><circle cx="478.1" cy="454.3" r="1.0" fill="#b8d8c8"/><circle cx="478.9" cy="457.5" r="0.6" fill="#9ea8de"/><circle cx="480.4" cy="465.0" r="0.7" fill="#c0dcb4"/><circle cx="484.3" cy="453.6" r="0.7" fill="#b8d8c8"/><circle cx="478.7" cy="463.1" r="0.7" fill="#c0dcb4"/><circle cx="485.2" cy="460.9" r="0.7" fill="#c0dcb4"/><circle cx="475.2" cy="453.1" r="1.0" fill="#b8d8c8"/><circle cx="484.1" cy="462.5" r="0.8" fill="#b8d8c8"/><circle cx="486.0" cy="460.5" r="0.8" fill="#9ea8de"/><circle cx="475.9" cy="466.6" r="0.8" fill="#a8c8e8"/></g>
<ellipse cx="491.5" cy="451.5" rx="1.6" ry="3.4" transform="rotate(35 491.5 451.5)" fill="#7e1018"/></svg>
<div class="fl" style="left:57.4px;top:411.1px;font-size:9.1px;">Corpus Cavernosum</div>
<div class="fl" style="left:187.4px;top:356.6px;font-size:8.5px;">Single-cell RNA sequencing</div>
<div class="fl" style="left:263.5px;top:374.2px;font-size:8.5px;">Integrated analysis</div>
<div class="fl" style="left:321px;top:360.5px;font-size:8.3px;">Normal</div>
<div class="fl" style="left:356.4px;top:360.5px;font-size:8.3px;">DMED</div>
<div class="fl" style="left:328px;top:295.2px;font-size:6.0px;">n = 4</div>
<div class="fl" style="left:360px;top:295.2px;font-size:6.0px;">n = 3</div>
<div class="fl" style="left:345.8px;top:378.0px;font-size:6.1px;">n = 4</div>
<div class="fl" style="left:342.6px;top:412.8px;font-size:8.3px;">Normal</div>
<div class="fl" style="left:345.8px;top:430.7px;font-size:5.8px;">n = 6</div>
<div class="fl" style="left:342.3px;top:465.5px;font-size:8.3px;">DMED</div>
<div class="fl" style="left:190.8px;top:455.4px;font-size:8.4px;">Spatial transcriptome</div>
<div class="fl" style="left:408.4px;top:303.6px;font-size:8.45px;">Species heterogeneity</div>
<div class="fl" style="left:418.2px;top:326.8px;font-size:7.3px;">Homo</div>
<div class="fl" style="left:418.2px;top:334.3px;font-size:7.3px;">sapiens</div>
<div class="fl" style="left:458px;top:327.4px;font-size:7.3px;">Rattus</div>
<div class="fl" style="left:457.7px;top:334.8px;font-size:7.3px;">norvegicus</div>
<div class="fl" style="left:413.5px;top:364.5px;font-size:8.4px;">Cell type &amp; Spatial</div>
<div class="fl" style="left:422.3px;top:372.5px;font-size:8.4px;">heterogeneity</div>
<div class="fl" style="left:413.5px;top:424.2px;font-size:8.45px;">Pathological change</div>
<div class="fl" style="left:412.3px;top:435.9px;font-size:3.7px;">Normal</div>
<div class="fl" style="left:425.5px;top:435.9px;font-size:3.7px;">DMED</div>
<div class="fl" style="left:449.2px;top:435.8px;font-size:3.8px;">Normal</div>
<div class="fl" style="left:479px;top:435.8px;font-size:3.8px;">DMED</div>
</body></html>
